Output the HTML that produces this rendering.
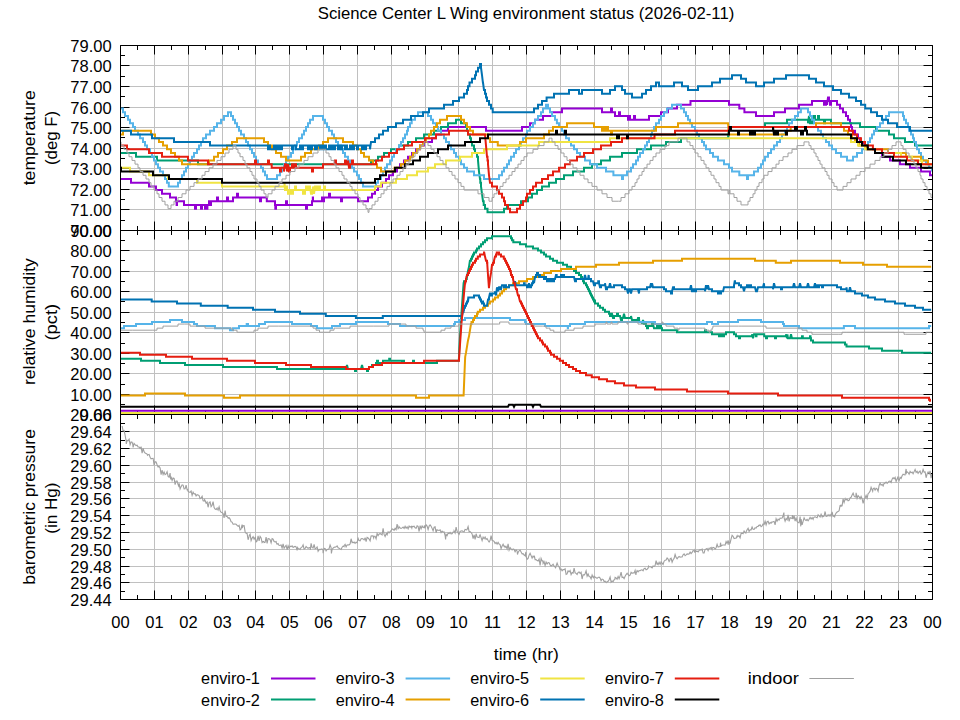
<!DOCTYPE html>
<html><head><meta charset="utf-8"><title>Science Center L Wing environment status</title>
<style>html,body{margin:0;padding:0;background:#fff;}svg{display:block;}</style></head>
<body><svg width="960" height="720" viewBox="0 0 960 720">
<rect width="960" height="720" fill="#fff"/>
<defs><clipPath id="cT"><rect x="121" y="46" width="811" height="184"/></clipPath><clipPath id="cH"><rect x="121" y="231" width="811" height="183"/></clipPath><clipPath id="cP"><rect x="121" y="415" width="811" height="184"/></clipPath></defs>
<path d="M154.5 45.5 V230.5 M188.5 45.5 V230.5 M222.5 45.5 V230.5 M255.5 45.5 V230.5 M289.5 45.5 V230.5 M323.5 45.5 V230.5 M357.5 45.5 V230.5 M391.5 45.5 V230.5 M425.5 45.5 V230.5 M458.5 45.5 V230.5 M492.5 45.5 V230.5 M526.5 45.5 V230.5 M560.5 45.5 V230.5 M594.5 45.5 V230.5 M628.5 45.5 V230.5 M661.5 45.5 V230.5 M695.5 45.5 V230.5 M729.5 45.5 V230.5 M763.5 45.5 V230.5 M797.5 45.5 V230.5 M831.5 45.5 V230.5 M864.5 45.5 V230.5 M898.5 45.5 V230.5 M120.5 209.5 H932.5 M120.5 189.5 H932.5 M120.5 168.5 H932.5 M120.5 148.5 H932.5 M120.5 127.5 H932.5 M120.5 107.5 H932.5 M120.5 86.5 H932.5 M120.5 65.5 H932.5 M154.5 230.5 V414.5 M188.5 230.5 V414.5 M222.5 230.5 V414.5 M255.5 230.5 V414.5 M289.5 230.5 V414.5 M323.5 230.5 V414.5 M357.5 230.5 V414.5 M391.5 230.5 V414.5 M425.5 230.5 V414.5 M458.5 230.5 V414.5 M492.5 230.5 V414.5 M526.5 230.5 V414.5 M560.5 230.5 V414.5 M594.5 230.5 V414.5 M628.5 230.5 V414.5 M661.5 230.5 V414.5 M695.5 230.5 V414.5 M729.5 230.5 V414.5 M763.5 230.5 V414.5 M797.5 230.5 V414.5 M831.5 230.5 V414.5 M864.5 230.5 V414.5 M898.5 230.5 V414.5 M120.5 394.5 H932.5 M120.5 373.5 H932.5 M120.5 353.5 H932.5 M120.5 332.5 H932.5 M120.5 312.5 H932.5 M120.5 291.5 H932.5 M120.5 271.5 H932.5 M120.5 250.5 H932.5 M154.5 414.5 V599.5 M188.5 414.5 V599.5 M222.5 414.5 V599.5 M255.5 414.5 V599.5 M289.5 414.5 V599.5 M323.5 414.5 V599.5 M357.5 414.5 V599.5 M391.5 414.5 V599.5 M425.5 414.5 V599.5 M458.5 414.5 V599.5 M492.5 414.5 V599.5 M526.5 414.5 V599.5 M560.5 414.5 V599.5 M594.5 414.5 V599.5 M628.5 414.5 V599.5 M661.5 414.5 V599.5 M695.5 414.5 V599.5 M729.5 414.5 V599.5 M763.5 414.5 V599.5 M797.5 414.5 V599.5 M831.5 414.5 V599.5 M864.5 414.5 V599.5 M898.5 414.5 V599.5 M120.5 582.5 H932.5 M120.5 566.5 H932.5 M120.5 549.5 H932.5 M120.5 532.5 H932.5 M120.5 515.5 H932.5 M120.5 498.5 H932.5 M120.5 482.5 H932.5 M120.5 465.5 H932.5 M120.5 448.5 H932.5 M120.5 431.5 H932.5" stroke="#c0c0c0" stroke-width="1" fill="none"/>
<path d="M120.5 45.5 H932.5 V230.5 H120.5 Z M120.5 45.5 v9.0 M120.5 230.5 v-9.0 M137.5 45.5 v4.5 M137.5 230.5 v-4.5 M154.5 45.5 v9.0 M154.5 230.5 v-9.0 M171.5 45.5 v4.5 M171.5 230.5 v-4.5 M188.5 45.5 v9.0 M188.5 230.5 v-9.0 M205.5 45.5 v4.5 M205.5 230.5 v-4.5 M222.5 45.5 v9.0 M222.5 230.5 v-9.0 M238.5 45.5 v4.5 M238.5 230.5 v-4.5 M255.5 45.5 v9.0 M255.5 230.5 v-9.0 M272.5 45.5 v4.5 M272.5 230.5 v-4.5 M289.5 45.5 v9.0 M289.5 230.5 v-9.0 M306.5 45.5 v4.5 M306.5 230.5 v-4.5 M323.5 45.5 v9.0 M323.5 230.5 v-9.0 M340.5 45.5 v4.5 M340.5 230.5 v-4.5 M357.5 45.5 v9.0 M357.5 230.5 v-9.0 M374.5 45.5 v4.5 M374.5 230.5 v-4.5 M391.5 45.5 v9.0 M391.5 230.5 v-9.0 M408.5 45.5 v4.5 M408.5 230.5 v-4.5 M425.5 45.5 v9.0 M425.5 230.5 v-9.0 M441.5 45.5 v4.5 M441.5 230.5 v-4.5 M458.5 45.5 v9.0 M458.5 230.5 v-9.0 M475.5 45.5 v4.5 M475.5 230.5 v-4.5 M492.5 45.5 v9.0 M492.5 230.5 v-9.0 M509.5 45.5 v4.5 M509.5 230.5 v-4.5 M526.5 45.5 v9.0 M526.5 230.5 v-9.0 M543.5 45.5 v4.5 M543.5 230.5 v-4.5 M560.5 45.5 v9.0 M560.5 230.5 v-9.0 M577.5 45.5 v4.5 M577.5 230.5 v-4.5 M594.5 45.5 v9.0 M594.5 230.5 v-9.0 M611.5 45.5 v4.5 M611.5 230.5 v-4.5 M628.5 45.5 v9.0 M628.5 230.5 v-9.0 M644.5 45.5 v4.5 M644.5 230.5 v-4.5 M661.5 45.5 v9.0 M661.5 230.5 v-9.0 M678.5 45.5 v4.5 M678.5 230.5 v-4.5 M695.5 45.5 v9.0 M695.5 230.5 v-9.0 M712.5 45.5 v4.5 M712.5 230.5 v-4.5 M729.5 45.5 v9.0 M729.5 230.5 v-9.0 M746.5 45.5 v4.5 M746.5 230.5 v-4.5 M763.5 45.5 v9.0 M763.5 230.5 v-9.0 M780.5 45.5 v4.5 M780.5 230.5 v-4.5 M797.5 45.5 v9.0 M797.5 230.5 v-9.0 M814.5 45.5 v4.5 M814.5 230.5 v-4.5 M831.5 45.5 v9.0 M831.5 230.5 v-9.0 M847.5 45.5 v4.5 M847.5 230.5 v-4.5 M864.5 45.5 v9.0 M864.5 230.5 v-9.0 M881.5 45.5 v4.5 M881.5 230.5 v-4.5 M898.5 45.5 v9.0 M898.5 230.5 v-9.0 M915.5 45.5 v4.5 M915.5 230.5 v-4.5 M932.5 45.5 v9.0 M932.5 230.5 v-9.0 M120.5 230.5 H932.5 V414.5 H120.5 Z M120.5 230.5 v9.0 M120.5 414.5 v-9.0 M137.5 230.5 v4.5 M137.5 414.5 v-4.5 M154.5 230.5 v9.0 M154.5 414.5 v-9.0 M171.5 230.5 v4.5 M171.5 414.5 v-4.5 M188.5 230.5 v9.0 M188.5 414.5 v-9.0 M205.5 230.5 v4.5 M205.5 414.5 v-4.5 M222.5 230.5 v9.0 M222.5 414.5 v-9.0 M238.5 230.5 v4.5 M238.5 414.5 v-4.5 M255.5 230.5 v9.0 M255.5 414.5 v-9.0 M272.5 230.5 v4.5 M272.5 414.5 v-4.5 M289.5 230.5 v9.0 M289.5 414.5 v-9.0 M306.5 230.5 v4.5 M306.5 414.5 v-4.5 M323.5 230.5 v9.0 M323.5 414.5 v-9.0 M340.5 230.5 v4.5 M340.5 414.5 v-4.5 M357.5 230.5 v9.0 M357.5 414.5 v-9.0 M374.5 230.5 v4.5 M374.5 414.5 v-4.5 M391.5 230.5 v9.0 M391.5 414.5 v-9.0 M408.5 230.5 v4.5 M408.5 414.5 v-4.5 M425.5 230.5 v9.0 M425.5 414.5 v-9.0 M441.5 230.5 v4.5 M441.5 414.5 v-4.5 M458.5 230.5 v9.0 M458.5 414.5 v-9.0 M475.5 230.5 v4.5 M475.5 414.5 v-4.5 M492.5 230.5 v9.0 M492.5 414.5 v-9.0 M509.5 230.5 v4.5 M509.5 414.5 v-4.5 M526.5 230.5 v9.0 M526.5 414.5 v-9.0 M543.5 230.5 v4.5 M543.5 414.5 v-4.5 M560.5 230.5 v9.0 M560.5 414.5 v-9.0 M577.5 230.5 v4.5 M577.5 414.5 v-4.5 M594.5 230.5 v9.0 M594.5 414.5 v-9.0 M611.5 230.5 v4.5 M611.5 414.5 v-4.5 M628.5 230.5 v9.0 M628.5 414.5 v-9.0 M644.5 230.5 v4.5 M644.5 414.5 v-4.5 M661.5 230.5 v9.0 M661.5 414.5 v-9.0 M678.5 230.5 v4.5 M678.5 414.5 v-4.5 M695.5 230.5 v9.0 M695.5 414.5 v-9.0 M712.5 230.5 v4.5 M712.5 414.5 v-4.5 M729.5 230.5 v9.0 M729.5 414.5 v-9.0 M746.5 230.5 v4.5 M746.5 414.5 v-4.5 M763.5 230.5 v9.0 M763.5 414.5 v-9.0 M780.5 230.5 v4.5 M780.5 414.5 v-4.5 M797.5 230.5 v9.0 M797.5 414.5 v-9.0 M814.5 230.5 v4.5 M814.5 414.5 v-4.5 M831.5 230.5 v9.0 M831.5 414.5 v-9.0 M847.5 230.5 v4.5 M847.5 414.5 v-4.5 M864.5 230.5 v9.0 M864.5 414.5 v-9.0 M881.5 230.5 v4.5 M881.5 414.5 v-4.5 M898.5 230.5 v9.0 M898.5 414.5 v-9.0 M915.5 230.5 v4.5 M915.5 414.5 v-4.5 M932.5 230.5 v9.0 M932.5 414.5 v-9.0 M120.5 414.5 H932.5 V599.5 H120.5 Z M120.5 414.5 v9.0 M120.5 599.5 v-9.0 M137.5 414.5 v4.5 M137.5 599.5 v-4.5 M154.5 414.5 v9.0 M154.5 599.5 v-9.0 M171.5 414.5 v4.5 M171.5 599.5 v-4.5 M188.5 414.5 v9.0 M188.5 599.5 v-9.0 M205.5 414.5 v4.5 M205.5 599.5 v-4.5 M222.5 414.5 v9.0 M222.5 599.5 v-9.0 M238.5 414.5 v4.5 M238.5 599.5 v-4.5 M255.5 414.5 v9.0 M255.5 599.5 v-9.0 M272.5 414.5 v4.5 M272.5 599.5 v-4.5 M289.5 414.5 v9.0 M289.5 599.5 v-9.0 M306.5 414.5 v4.5 M306.5 599.5 v-4.5 M323.5 414.5 v9.0 M323.5 599.5 v-9.0 M340.5 414.5 v4.5 M340.5 599.5 v-4.5 M357.5 414.5 v9.0 M357.5 599.5 v-9.0 M374.5 414.5 v4.5 M374.5 599.5 v-4.5 M391.5 414.5 v9.0 M391.5 599.5 v-9.0 M408.5 414.5 v4.5 M408.5 599.5 v-4.5 M425.5 414.5 v9.0 M425.5 599.5 v-9.0 M441.5 414.5 v4.5 M441.5 599.5 v-4.5 M458.5 414.5 v9.0 M458.5 599.5 v-9.0 M475.5 414.5 v4.5 M475.5 599.5 v-4.5 M492.5 414.5 v9.0 M492.5 599.5 v-9.0 M509.5 414.5 v4.5 M509.5 599.5 v-4.5 M526.5 414.5 v9.0 M526.5 599.5 v-9.0 M543.5 414.5 v4.5 M543.5 599.5 v-4.5 M560.5 414.5 v9.0 M560.5 599.5 v-9.0 M577.5 414.5 v4.5 M577.5 599.5 v-4.5 M594.5 414.5 v9.0 M594.5 599.5 v-9.0 M611.5 414.5 v4.5 M611.5 599.5 v-4.5 M628.5 414.5 v9.0 M628.5 599.5 v-9.0 M644.5 414.5 v4.5 M644.5 599.5 v-4.5 M661.5 414.5 v9.0 M661.5 599.5 v-9.0 M678.5 414.5 v4.5 M678.5 599.5 v-4.5 M695.5 414.5 v9.0 M695.5 599.5 v-9.0 M712.5 414.5 v4.5 M712.5 599.5 v-4.5 M729.5 414.5 v9.0 M729.5 599.5 v-9.0 M746.5 414.5 v4.5 M746.5 599.5 v-4.5 M763.5 414.5 v9.0 M763.5 599.5 v-9.0 M780.5 414.5 v4.5 M780.5 599.5 v-4.5 M797.5 414.5 v9.0 M797.5 599.5 v-9.0 M814.5 414.5 v4.5 M814.5 599.5 v-4.5 M831.5 414.5 v9.0 M831.5 599.5 v-9.0 M847.5 414.5 v4.5 M847.5 599.5 v-4.5 M864.5 414.5 v9.0 M864.5 599.5 v-9.0 M881.5 414.5 v4.5 M881.5 599.5 v-4.5 M898.5 414.5 v9.0 M898.5 599.5 v-9.0 M915.5 414.5 v4.5 M915.5 599.5 v-4.5 M932.5 414.5 v9.0 M932.5 599.5 v-9.0 M120.5 230.5 h9.0 M932.5 230.5 h-9.0 M120.5 220.5 h4.5 M932.5 220.5 h-4.5 M120.5 209.5 h9.0 M932.5 209.5 h-9.0 M120.5 199.5 h4.5 M932.5 199.5 h-4.5 M120.5 189.5 h9.0 M932.5 189.5 h-9.0 M120.5 179.5 h4.5 M932.5 179.5 h-4.5 M120.5 168.5 h9.0 M932.5 168.5 h-9.0 M120.5 158.5 h4.5 M932.5 158.5 h-4.5 M120.5 148.5 h9.0 M932.5 148.5 h-9.0 M120.5 137.5 h4.5 M932.5 137.5 h-4.5 M120.5 127.5 h9.0 M932.5 127.5 h-9.0 M120.5 117.5 h4.5 M932.5 117.5 h-4.5 M120.5 107.5 h9.0 M932.5 107.5 h-9.0 M120.5 96.5 h4.5 M932.5 96.5 h-4.5 M120.5 86.5 h9.0 M932.5 86.5 h-9.0 M120.5 76.5 h4.5 M932.5 76.5 h-4.5 M120.5 65.5 h9.0 M932.5 65.5 h-9.0 M120.5 55.5 h4.5 M932.5 55.5 h-4.5 M120.5 45.5 h9.0 M932.5 45.5 h-9.0 M120.5 414.5 h9.0 M932.5 414.5 h-9.0 M120.5 404.5 h4.5 M932.5 404.5 h-4.5 M120.5 394.5 h9.0 M932.5 394.5 h-9.0 M120.5 384.5 h4.5 M932.5 384.5 h-4.5 M120.5 373.5 h9.0 M932.5 373.5 h-9.0 M120.5 363.5 h4.5 M932.5 363.5 h-4.5 M120.5 353.5 h9.0 M932.5 353.5 h-9.0 M120.5 343.5 h4.5 M932.5 343.5 h-4.5 M120.5 332.5 h9.0 M932.5 332.5 h-9.0 M120.5 322.5 h4.5 M932.5 322.5 h-4.5 M120.5 312.5 h9.0 M932.5 312.5 h-9.0 M120.5 301.5 h4.5 M932.5 301.5 h-4.5 M120.5 291.5 h9.0 M932.5 291.5 h-9.0 M120.5 281.5 h4.5 M932.5 281.5 h-4.5 M120.5 271.5 h9.0 M932.5 271.5 h-9.0 M120.5 260.5 h4.5 M932.5 260.5 h-4.5 M120.5 250.5 h9.0 M932.5 250.5 h-9.0 M120.5 240.5 h4.5 M932.5 240.5 h-4.5 M120.5 230.5 h9.0 M932.5 230.5 h-9.0 M120.5 599.5 h9.0 M932.5 599.5 h-9.0 M120.5 591.5 h4.5 M932.5 591.5 h-4.5 M120.5 582.5 h9.0 M932.5 582.5 h-9.0 M120.5 574.5 h4.5 M932.5 574.5 h-4.5 M120.5 566.5 h9.0 M932.5 566.5 h-9.0 M120.5 557.5 h4.5 M932.5 557.5 h-4.5 M120.5 549.5 h9.0 M932.5 549.5 h-9.0 M120.5 540.5 h4.5 M932.5 540.5 h-4.5 M120.5 532.5 h9.0 M932.5 532.5 h-9.0 M120.5 524.5 h4.5 M932.5 524.5 h-4.5 M120.5 515.5 h9.0 M932.5 515.5 h-9.0 M120.5 507.5 h4.5 M932.5 507.5 h-4.5 M120.5 498.5 h9.0 M932.5 498.5 h-9.0 M120.5 490.5 h4.5 M932.5 490.5 h-4.5 M120.5 482.5 h9.0 M932.5 482.5 h-9.0 M120.5 473.5 h4.5 M932.5 473.5 h-4.5 M120.5 465.5 h9.0 M932.5 465.5 h-9.0 M120.5 456.5 h4.5 M932.5 456.5 h-4.5 M120.5 448.5 h9.0 M932.5 448.5 h-9.0 M120.5 440.5 h4.5 M932.5 440.5 h-4.5 M120.5 431.5 h9.0 M932.5 431.5 h-9.0 M120.5 423.5 h4.5 M932.5 423.5 h-4.5 M120.5 414.5 h9.0 M932.5 414.5 h-9.0" stroke="#000" stroke-width="1" fill="none"/>
<g clip-path="url(#cT)">
<path d="M120.0 178.97L121.0 178.97L122.0 178.97L123.0 178.97L124.0 178.97L125.0 178.97L126.0 178.97L127.0 178.97L128.0 178.97L129.0 178.97L130.0 178.97L131.0 178.97L131.0 182.68L132.0 182.68L132.8 182.68L133.0 182.68L134.0 182.68L135.0 182.68L136.0 182.68L137.0 182.68L138.0 182.68L139.0 182.68L140.0 182.68L141.0 182.68L142.0 182.68L143.0 182.68L144.0 182.68L145.0 182.68L146.0 182.68L147.0 182.68L148.0 182.68L149.0 182.68L149.0 186.38L150.0 186.38L150.8 186.38L151.0 186.38L152.0 186.38L153.0 186.38L154.0 186.38L155.0 186.38L156.0 186.38L156.0 190.09L157.0 190.09L158.0 190.09L159.0 190.09L160.0 190.09L161.0 190.09L161.1 190.09L162.0 190.09L162.0 193.80L163.0 193.80L164.0 193.80L165.0 193.80L166.0 193.80L167.0 193.80L168.0 193.80L169.0 193.80L170.0 193.80L170.0 197.51L171.0 197.51L171.4 197.51L172.0 197.51L173.0 197.51L174.0 197.51L175.0 197.51L176.0 197.51L176.0 201.22L176.6 201.22L176.6 204.92L177.0 204.92L177.0 201.22L178.0 201.22L179.0 201.22L180.0 201.22L181.0 201.22L182.0 201.22L183.0 201.22L184.0 201.22L184.0 204.92L185.0 204.92L186.0 204.92L186.8 204.92L187.0 204.92L188.0 204.92L189.0 204.92L190.0 204.92L191.0 204.92L192.0 204.92L193.0 204.92L194.0 204.92L195.0 204.92L195.0 208.63L196.0 208.63L196.0 204.92L197.0 204.92L198.0 204.92L199.0 204.92L200.0 204.92L201.0 204.92L201.0 208.63L202.0 208.63L202.0 204.92L203.0 204.92L204.0 204.92L205.0 204.92L205.0 208.63L206.0 208.63L206.0 204.92L207.0 204.92L207.0 208.63L207.4 208.63L207.4 204.92L208.0 204.92L209.0 204.92L209.0 201.22L210.0 201.22L210.0 201.22L210.0 204.92L211.0 204.92L211.0 201.22L212.0 201.22L213.0 201.22L214.0 201.22L215.0 201.22L216.0 201.22L217.0 201.22L217.0 197.51L218.0 197.51L218.0 201.22L219.0 201.22L220.0 201.22L221.0 201.22L222.0 201.22L223.0 201.22L224.0 201.22L225.0 201.22L226.0 201.22L227.0 201.22L227.0 197.51L228.0 197.51L228.0 201.22L229.0 201.22L230.0 201.22L231.0 201.22L232.0 201.22L233.0 201.22L233.0 197.51L233.1 197.51L234.0 197.51L235.0 197.51L236.0 197.51L237.0 197.51L237.0 193.80L238.0 193.80L238.0 197.51L238.2 197.51L239.0 197.51L240.0 197.51L241.0 197.51L242.0 197.51L243.0 197.51L244.0 197.51L245.0 197.51L246.0 197.51L247.0 197.51L248.0 197.51L249.0 197.51L250.0 197.51L251.0 197.51L252.0 197.51L253.0 197.51L254.0 197.51L255.0 197.51L256.0 197.51L257.0 197.51L258.0 197.51L259.0 197.51L260.0 197.51L260.0 201.22L261.0 201.22L261.0 197.51L262.0 197.51L263.0 197.51L264.0 197.51L265.0 197.51L266.0 197.51L266.3 197.51L266.8 197.51L266.8 201.22L267.0 201.22L268.0 201.22L269.0 201.22L270.0 201.22L271.0 201.22L272.0 201.22L272.4 201.22L273.0 201.22L274.0 201.22L275.0 201.22L275.0 204.92L275.3 204.92L275.3 208.63L276.0 208.63L276.0 204.92L277.0 204.92L278.0 204.92L279.0 204.92L280.0 204.92L281.0 204.92L282.0 204.92L283.0 204.92L284.0 204.92L285.0 204.92L286.0 204.92L286.0 201.22L287.0 201.22L287.0 204.92L288.0 204.92L289.0 204.92L290.0 204.92L291.0 204.92L292.0 204.92L293.0 204.92L294.0 204.92L295.0 204.92L296.0 204.92L297.0 204.92L298.0 204.92L299.0 204.92L300.0 204.92L301.0 204.92L302.0 204.92L303.0 204.92L304.0 204.92L305.0 204.92L306.0 204.92L306.0 208.63L307.0 208.63L307.0 204.92L308.0 204.92L309.0 204.92L310.0 204.92L310.2 204.92L311.0 204.92L312.0 204.92L312.0 201.22L312.8 201.22L312.8 197.51L313.0 197.51L313.0 201.22L314.0 201.22L315.0 201.22L316.0 201.22L317.0 201.22L318.0 201.22L319.0 201.22L320.0 201.22L321.0 201.22L322.0 201.22L322.0 197.51L323.0 197.51L323.0 201.22L324.0 201.22L324.0 197.51L325.0 197.51L326.0 197.51L327.0 197.51L328.0 197.51L329.0 197.51L329.0 193.80L330.0 193.80L330.0 197.51L331.0 197.51L332.0 197.51L333.0 197.51L334.0 197.51L335.0 197.51L336.0 197.51L337.0 197.51L338.0 197.51L339.0 197.51L340.0 197.51L341.0 197.51L341.0 201.22L342.0 201.22L342.0 197.51L343.0 197.51L344.0 197.51L345.0 197.51L346.0 197.51L347.0 197.51L348.0 197.51L349.0 197.51L350.0 197.51L351.0 197.51L352.0 197.51L353.0 197.51L354.0 197.51L355.0 197.51L356.0 197.51L356.4 197.51L357.0 197.51L358.0 197.51L358.0 201.22L359.0 201.22L359.0 201.22L360.0 201.22L361.0 201.22L362.0 201.22L363.0 201.22L364.0 201.22L365.0 201.22L366.0 201.22L366.7 201.22L367.0 201.22L368.0 201.22L368.0 197.51L369.0 197.51L370.0 197.51L371.0 197.51L372.0 197.51L372.0 193.80L373.0 193.80L374.0 193.80L375.0 193.80L375.0 190.09L376.0 190.09L377.0 190.09L377.0 190.09L378.0 190.09L378.0 186.38L379.0 186.38L380.0 186.38L381.0 186.38L382.0 186.38L382.0 182.68L383.0 182.68L384.0 182.68L385.0 182.68L386.0 182.68L386.0 178.97L387.0 178.97L388.0 178.97L389.0 178.97L389.0 175.26L390.0 175.26L391.0 175.26L392.0 175.26L393.0 175.26L393.0 171.55L394.0 171.55L394.5 171.55L395.0 171.55L396.0 171.55L397.0 171.55L397.0 167.84L398.0 167.84L399.0 167.84L400.0 167.84L400.0 164.14L401.0 164.14L402.0 164.14L403.0 164.14L404.0 164.14L404.0 160.43L405.0 160.43L406.0 160.43L407.0 160.43L408.0 160.43L408.0 156.72L408.4 156.72L409.0 156.72L410.0 156.72L411.0 156.72L412.0 156.72L412.0 153.01L413.0 153.01L414.0 153.01L415.0 153.01L416.0 153.01L416.0 149.30L417.0 149.30L418.0 149.30L419.0 149.30L420.0 149.30L420.0 145.60L421.0 145.60L422.0 145.60L423.0 145.60L424.0 145.60L424.0 141.89L425.0 141.89L425.1 141.89L426.0 141.89L427.0 141.89L428.0 141.89L429.0 141.89L430.0 141.89L431.0 141.89L431.0 141.89L432.0 141.89L432.0 138.18L433.0 138.18L434.0 138.18L435.0 138.18L436.0 138.18L436.0 134.47L437.0 134.47L438.0 134.47L438.7 134.47L439.0 134.47L440.0 134.47L441.0 134.47L441.0 130.76L442.0 130.76L443.0 130.76L443.8 130.76L444.0 130.76L445.0 130.76L446.0 130.76L447.0 130.76L448.0 130.76L448.0 127.06L449.0 127.06L450.0 127.06L451.0 127.06L451.5 127.06L452.0 127.06L453.0 127.06L454.0 127.06L455.0 127.06L456.0 127.06L457.0 127.06L458.0 127.06L459.0 127.06L460.0 127.06L461.0 127.06L462.0 127.06L463.0 127.06L464.0 127.06L465.0 127.06L466.0 127.06L467.0 127.06L468.0 127.06L469.0 127.06L470.0 127.06L471.0 127.06L472.0 127.06L473.0 127.06L474.0 127.06L475.0 127.06L476.0 127.06L477.0 127.06L478.0 127.06L479.0 127.06L480.0 127.06L481.0 127.06L482.0 127.06L482.4 127.06L483.0 127.06L484.0 127.06L485.0 127.06L486.0 127.06L486.0 130.76L487.0 130.76L487.5 130.76L488.0 130.76L489.0 130.76L490.0 130.76L491.0 130.76L492.0 130.76L493.0 130.76L494.0 130.76L495.0 130.76L496.0 130.76L497.0 130.76L498.0 130.76L499.0 130.76L500.0 130.76L501.0 130.76L502.0 130.76L503.0 130.76L504.0 130.76L505.0 130.76L506.0 130.76L507.0 130.76L508.0 130.76L509.0 130.76L510.0 130.76L511.0 130.76L512.0 130.76L513.0 130.76L514.0 130.76L515.0 130.76L516.0 130.76L517.0 130.76L518.0 130.76L518.4 130.76L519.0 130.76L520.0 130.76L521.0 130.76L522.0 130.76L522.0 127.06L523.0 127.06L524.0 127.06L525.0 127.06L526.0 127.06L527.0 127.06L528.0 127.06L529.0 127.06L530.0 127.06L530.0 123.35L531.0 123.35L532.0 123.35L533.0 123.35L533.7 123.35L534.0 123.35L535.0 123.35L535.0 119.64L536.0 119.64L537.0 119.64L538.0 119.64L539.0 119.64L540.0 119.64L541.0 119.64L542.0 119.64L543.0 119.64L543.0 115.93L544.0 115.93L544.0 115.93L545.0 115.93L546.0 115.93L547.0 115.93L548.0 115.93L549.0 115.93L550.0 115.93L551.0 115.93L552.0 115.93L552.0 112.22L553.0 112.22L554.0 112.22L554.3 112.22L555.0 112.22L556.0 112.22L557.0 112.22L558.0 112.22L559.0 112.22L560.0 112.22L561.0 112.22L562.0 112.22L562.0 108.52L563.0 108.52L564.0 108.52L564.6 108.52L565.0 108.52L566.0 108.52L567.0 108.52L568.0 108.52L569.0 108.52L570.0 108.52L571.0 108.52L572.0 108.52L572.3 108.52L573.0 108.52L574.0 108.52L575.0 108.52L576.0 108.52L577.0 108.52L578.0 108.52L579.0 108.52L580.0 108.52L581.0 108.52L582.0 108.52L583.0 108.52L584.0 108.52L585.0 108.52L586.0 108.52L587.0 108.52L588.0 108.52L589.0 108.52L590.0 108.52L591.0 108.52L592.0 108.52L593.0 108.52L594.0 108.52L595.0 108.52L596.0 108.52L597.0 108.52L598.0 108.52L598.0 108.52L599.0 108.52L600.0 108.52L601.0 108.52L602.0 108.52L602.0 112.22L603.0 112.22L603.1 112.22L604.0 112.22L605.0 112.22L606.0 112.22L607.0 112.22L608.0 112.22L609.0 112.22L610.0 112.22L611.0 112.22L611.0 108.52L612.0 108.52L612.0 112.22L613.0 112.22L614.0 112.22L615.0 112.22L615.0 115.93L616.0 115.93L616.0 115.93L617.0 115.93L618.0 115.93L619.0 115.93L619.0 112.22L620.0 112.22L620.0 115.93L621.0 115.93L622.0 115.93L623.0 115.93L624.0 115.93L625.0 115.93L626.0 115.93L627.0 115.93L628.0 115.93L628.0 119.64L628.8 119.64L628.8 115.93L629.0 115.93L630.0 115.93L630.0 119.64L631.0 119.64L632.0 119.64L633.0 119.64L634.0 119.64L634.0 119.64L634.0 115.93L635.0 115.93L635.0 119.64L636.0 119.64L637.0 119.64L638.0 119.64L639.0 119.64L640.0 119.64L641.0 119.64L642.0 119.64L643.0 119.64L644.0 119.64L645.0 119.64L646.0 119.64L646.8 119.64L647.0 119.64L648.0 119.64L649.0 119.64L649.0 115.93L649.4 115.93L650.0 115.93L651.0 115.93L652.0 115.93L653.0 115.93L654.0 115.93L655.0 115.93L656.0 115.93L657.0 115.93L658.0 115.93L659.0 115.93L659.7 115.93L660.0 115.93L661.0 115.93L661.0 112.22L662.0 112.22L663.0 112.22L664.0 112.22L665.0 112.22L666.0 112.22L667.0 112.22L668.0 112.22L668.0 108.52L669.0 108.52L670.0 108.52L670.0 108.52L671.0 108.52L672.0 108.52L673.0 108.52L674.0 108.52L675.0 108.52L676.0 108.52L677.0 108.52L677.0 104.81L678.0 104.81L679.0 104.81L680.0 104.81L680.2 104.81L681.0 104.81L682.0 104.81L683.0 104.81L684.0 104.81L685.0 104.81L686.0 104.81L687.0 104.81L688.0 104.81L689.0 104.81L690.0 104.81L690.5 104.81L690.5 101.10L691.0 101.10L692.0 101.10L693.0 101.10L694.0 101.10L695.0 101.10L696.0 101.10L697.0 101.10L698.0 101.10L699.0 101.10L700.0 101.10L700.8 101.10L701.0 101.10L702.0 101.10L703.0 101.10L704.0 101.10L705.0 101.10L706.0 101.10L707.0 101.10L708.0 101.10L709.0 101.10L710.0 101.10L711.0 101.10L711.1 101.10L712.0 101.10L713.0 101.10L714.0 101.10L715.0 101.10L716.0 101.10L717.0 101.10L718.0 101.10L719.0 101.10L720.0 101.10L721.0 101.10L722.0 101.10L723.0 101.10L724.0 101.10L725.0 101.10L726.0 101.10L726.5 101.10L727.0 101.10L728.0 101.10L729.0 101.10L729.0 104.81L730.0 104.81L731.0 104.81L732.0 104.81L733.0 104.81L734.0 104.81L735.0 104.81L736.0 104.81L737.0 104.81L738.0 104.81L739.0 104.81L739.3 104.81L739.3 108.52L740.0 108.52L741.0 108.52L742.0 108.52L743.0 108.52L744.0 108.52L744.4 108.52L744.4 112.22L745.0 112.22L746.0 112.22L747.0 112.22L748.0 112.22L749.0 112.22L750.0 112.22L751.0 112.22L752.0 112.22L752.1 112.22L753.0 112.22L754.0 112.22L755.0 112.22L756.0 112.22L756.0 115.93L757.0 115.93L758.0 115.93L759.0 115.93L759.8 115.93L760.0 115.93L761.0 115.93L762.0 115.93L763.0 115.93L764.0 115.93L765.0 115.93L766.0 115.93L767.0 115.93L768.0 115.93L769.0 115.93L770.0 115.93L770.1 115.93L771.0 115.93L772.0 115.93L773.0 115.93L774.0 115.93L774.0 112.22L775.0 112.22L775.2 112.22L776.0 112.22L777.0 112.22L778.0 112.22L779.0 112.22L780.0 112.22L781.0 112.22L782.0 112.22L783.0 112.22L784.0 112.22L785.0 112.22L785.0 108.52L786.0 108.52L787.0 108.52L788.0 108.52L788.1 108.52L789.0 108.52L790.0 108.52L791.0 108.52L792.0 108.52L793.0 108.52L794.0 108.52L795.0 108.52L796.0 108.52L797.0 108.52L798.0 108.52L798.4 108.52L799.0 108.52L799.0 104.81L800.0 104.81L801.0 104.81L802.0 104.81L803.0 104.81L804.0 104.81L805.0 104.81L806.0 104.81L806.1 104.81L807.0 104.81L808.0 104.81L809.0 104.81L810.0 104.81L811.0 104.81L812.0 104.81L812.0 101.10L813.0 101.10L813.8 101.10L814.0 101.10L815.0 101.10L816.0 101.10L817.0 101.10L818.0 101.10L819.0 101.10L820.0 101.10L821.0 101.10L822.0 101.10L823.0 101.10L824.0 101.10L824.0 104.81L824.1 104.81L824.1 101.10L825.0 101.10L825.0 104.81L826.0 104.81L826.0 101.10L827.0 101.10L827.0 104.81L828.0 97.39L829.0 97.39L829.0 101.10L830.0 101.10L830.0 104.81L831.0 104.81L831.0 101.10L832.0 101.10L833.0 101.10L834.0 101.10L834.3 101.10L835.0 101.10L836.0 101.10L837.0 101.10L837.0 104.81L838.0 104.81L839.0 104.81L839.5 104.81L840.0 104.81L840.0 108.52L841.0 108.52L842.0 108.52L843.0 108.52L843.0 112.22L844.0 112.22L845.0 112.22L846.0 112.22L846.0 115.93L847.0 115.93L847.2 115.93L848.0 115.93L848.0 119.64L849.0 119.64L850.0 119.64L850.0 123.35L851.0 123.35L851.0 127.06L852.0 127.06L852.0 130.76L852.3 130.76L853.0 130.76L854.0 130.76L855.0 130.76L855.0 134.47L856.0 134.47L857.0 134.47L858.0 134.47L858.0 138.18L859.0 138.18L860.0 138.18L860.0 138.18L860.0 141.89L861.0 141.89L862.0 141.89L863.0 141.89L864.0 141.89L864.0 145.60L865.0 145.60L866.0 145.60L867.0 145.60L867.8 145.60L867.8 149.30L868.0 149.30L869.0 149.30L870.0 149.30L871.0 149.30L872.0 149.30L873.0 149.30L874.0 149.30L875.0 149.30L875.0 153.01L876.0 153.01L877.0 153.01L878.0 153.01L878.0 153.01L879.0 153.01L880.0 153.01L881.0 153.01L882.0 153.01L882.0 156.72L883.0 156.72L884.0 156.72L885.0 156.72L886.0 156.72L887.0 156.72L888.0 156.72L888.3 156.72L889.0 156.72L890.0 156.72L890.0 160.43L891.0 160.43L892.0 160.43L893.0 160.43L894.0 160.43L895.0 160.43L896.0 160.43L897.0 160.43L898.0 160.43L898.6 160.43L899.0 160.43L900.0 160.43L900.0 164.14L901.0 164.14L902.0 164.14L903.0 164.14L904.0 164.14L905.0 164.14L906.0 164.14L907.0 164.14L908.0 164.14L908.9 164.14L909.0 164.14L910.0 164.14L910.0 167.84L911.0 167.84L912.0 167.84L913.0 167.84L914.0 167.84L915.0 167.84L916.0 167.84L917.0 167.84L918.0 167.84L919.0 167.84L920.0 167.84L921.0 167.84L921.0 171.55L922.0 171.55L923.0 171.55L924.0 171.55L924.3 171.55L925.0 171.55L926.0 171.55L927.0 171.55L928.0 171.55L929.0 171.55L930.0 171.55L930.0 175.26L931.0 175.26L932.0 175.26" stroke="#9400d3" stroke-width="2" fill="none"/>
<path d="M120.0 153.01L121.0 153.01L122.0 153.01L123.0 153.01L124.0 153.01L125.0 153.01L126.0 153.01L127.0 153.01L128.0 153.01L129.0 153.01L130.0 153.01L131.0 153.01L132.0 153.01L133.0 153.01L134.0 153.01L135.0 153.01L136.0 153.01L136.0 156.72L137.0 156.72L138.0 156.72L139.0 156.72L140.0 156.72L141.0 156.72L142.0 156.72L143.0 156.72L143.1 156.72L144.0 156.72L145.0 156.72L146.0 156.72L147.0 156.72L148.0 156.72L149.0 156.72L150.0 156.72L151.0 156.72L152.0 156.72L153.0 156.72L154.0 156.72L155.0 156.72L156.0 156.72L157.0 156.72L157.0 160.43L158.0 160.43L159.0 160.43L160.0 160.43L161.0 160.43L161.1 160.43L162.0 160.43L163.0 160.43L164.0 160.43L165.0 160.43L166.0 160.43L167.0 160.43L168.0 160.43L169.0 160.43L170.0 160.43L171.0 160.43L172.0 160.43L173.0 160.43L174.0 160.43L175.0 160.43L176.0 160.43L177.0 160.43L178.0 160.43L179.0 160.43L180.0 160.43L181.0 160.43L182.0 160.43L183.0 160.43L184.0 160.43L185.0 160.43L186.0 160.43L186.8 160.43L187.0 160.43L188.0 160.43L189.0 160.43L190.0 160.43L191.0 160.43L192.0 160.43L193.0 160.43L194.0 160.43L195.0 160.43L196.0 160.43L197.0 160.43L198.0 160.43L198.0 164.14L199.0 164.14L200.0 164.14L201.0 164.14L202.0 164.14L203.0 164.14L204.0 164.14L205.0 164.14L206.0 164.14L207.0 164.14L208.0 164.14L209.0 164.14L210.0 164.14L211.0 164.14L212.0 164.14L213.0 164.14L214.0 164.14L215.0 164.14L216.0 164.14L217.0 164.14L218.0 164.14L219.0 164.14L220.0 164.14L221.0 164.14L222.0 164.14L223.0 164.14L224.0 164.14L225.0 164.14L226.0 164.14L227.0 164.14L228.0 164.14L229.0 164.14L230.0 164.14L231.0 164.14L232.0 164.14L233.0 164.14L234.0 164.14L235.0 164.14L236.0 164.14L237.0 164.14L238.0 164.14L239.0 164.14L240.0 164.14L241.0 164.14L242.0 164.14L243.0 164.14L244.0 164.14L245.0 164.14L246.0 164.14L246.0 164.14L247.0 164.14L248.0 164.14L249.0 164.14L250.0 164.14L251.0 164.14L252.0 164.14L253.0 164.14L254.0 164.14L255.0 164.14L256.0 164.14L257.0 164.14L258.0 164.14L259.0 164.14L260.0 164.14L261.0 164.14L262.0 164.14L263.0 164.14L264.0 164.14L265.0 164.14L266.0 164.14L267.0 164.14L268.0 164.14L269.0 164.14L270.0 164.14L271.0 164.14L272.0 164.14L273.0 164.14L274.0 164.14L275.0 164.14L276.0 164.14L277.0 164.14L278.0 164.14L279.0 164.14L280.0 164.14L281.0 164.14L282.0 164.14L283.0 164.14L284.0 164.14L285.0 164.14L286.0 164.14L287.0 164.14L288.0 164.14L289.0 164.14L290.0 164.14L291.0 164.14L292.0 164.14L293.0 164.14L294.0 164.14L295.0 164.14L296.0 164.14L297.0 164.14L298.0 164.14L299.0 164.14L300.0 164.14L301.0 164.14L302.0 164.14L303.0 164.14L304.0 164.14L305.0 164.14L306.0 164.14L307.0 164.14L308.0 164.14L309.0 164.14L310.0 164.14L311.0 164.14L312.0 164.14L313.0 164.14L314.0 164.14L315.0 164.14L316.0 164.14L317.0 164.14L318.0 164.14L319.0 164.14L320.0 164.14L321.0 164.14L322.0 164.14L323.0 164.14L324.0 164.14L325.0 164.14L326.0 164.14L327.0 164.14L328.0 164.14L329.0 164.14L330.0 164.14L331.0 164.14L332.0 164.14L333.0 164.14L334.0 164.14L335.0 164.14L336.0 164.14L337.0 164.14L338.0 164.14L339.0 164.14L340.0 164.14L341.0 164.14L342.0 164.14L343.0 164.14L344.0 164.14L345.0 164.14L346.0 164.14L347.0 164.14L348.0 164.14L349.0 164.14L350.0 164.14L351.0 164.14L352.0 164.14L353.0 164.14L354.0 164.14L355.0 164.14L356.0 164.14L357.0 164.14L358.0 164.14L359.0 164.14L360.0 164.14L361.0 164.14L362.0 164.14L363.0 164.14L364.0 164.14L365.0 164.14L366.0 164.14L367.0 164.14L368.0 164.14L369.0 164.14L369.3 164.14L370.0 164.14L371.0 164.14L371.0 160.43L372.0 160.43L373.0 160.43L374.0 160.43L374.4 160.43L375.0 160.43L376.0 160.43L377.0 160.43L378.0 160.43L378.0 156.72L379.0 156.72L380.0 156.72L381.0 156.72L382.0 156.72L382.1 156.72L383.0 156.72L384.0 156.72L384.0 153.01L385.0 153.01L386.0 153.01L387.0 153.01L388.0 153.01L389.0 153.01L390.0 153.01L391.0 153.01L391.0 149.30L392.0 149.30L392.4 149.30L393.0 149.30L394.0 149.30L395.0 149.30L396.0 149.30L397.0 149.30L398.0 149.30L399.0 149.30L399.0 145.60L400.0 145.60L400.1 145.60L401.0 145.60L402.0 145.60L403.0 145.60L404.0 145.60L405.0 145.60L406.0 145.60L407.0 145.60L408.0 145.60L408.0 141.89L409.0 141.89L410.0 141.89L410.4 141.89L411.0 141.89L412.0 141.89L413.0 141.89L414.0 141.89L415.0 141.89L416.0 141.89L416.0 138.18L417.0 138.18L418.0 138.18L419.0 138.18L420.0 138.18L420.7 138.18L421.0 138.18L422.0 138.18L423.0 138.18L424.0 138.18L424.0 134.47L425.0 134.47L426.0 134.47L427.0 134.47L428.0 134.47L429.0 134.47L430.0 134.47L431.0 134.47L431.0 134.47L432.0 134.47L433.0 134.47L434.0 134.47L434.0 130.76L435.0 130.76L436.0 130.76L437.0 130.76L438.0 130.76L439.0 130.76L440.0 130.76L441.0 130.76L441.0 127.06L441.2 127.06L442.0 127.06L443.0 127.06L444.0 127.06L445.0 127.06L446.0 127.06L447.0 127.06L448.0 127.06L448.0 123.35L449.0 123.35L449.0 123.35L450.0 123.35L451.0 123.35L452.0 123.35L453.0 123.35L454.0 123.35L455.0 123.35L456.0 123.35L456.0 119.64L456.7 119.64L457.0 119.64L458.0 119.64L459.0 119.64L460.0 119.64L461.0 119.64L461.0 123.35L462.0 123.35L463.0 123.35L464.0 123.35L464.4 123.35L465.0 123.35L466.0 123.35L466.0 127.06L467.0 127.06L467.0 130.76L467.5 130.76L468.0 130.76L468.0 134.47L469.0 134.47L470.0 134.47L470.0 138.18L471.0 138.18L471.0 141.89L472.0 141.89L472.0 145.60L473.0 145.60L474.0 145.60L474.0 149.30L475.0 149.30L475.0 153.01L476.0 153.01L477.0 153.01L477.0 156.72L477.5 156.72L478.0 156.72L478.0 160.43L479.0 171.55L480.0 178.97L480.3 178.97L480.3 182.68L481.0 182.68L481.0 186.38L482.0 193.80L483.0 201.22L483.7 201.22L483.7 204.92L484.0 204.92L485.0 204.92L485.0 208.63L486.0 208.63L487.0 208.63L487.5 208.63L487.5 212.34L488.0 212.34L489.0 212.34L490.0 212.34L491.0 212.34L492.0 212.34L493.0 212.34L494.0 212.34L495.0 212.34L496.0 212.34L497.0 212.34L498.0 212.34L499.0 212.34L500.0 212.34L501.0 212.34L502.0 212.34L502.4 212.34L503.0 212.34L504.0 212.34L504.0 208.63L505.0 208.63L505.5 208.63L506.0 208.63L507.0 208.63L507.0 204.92L508.0 204.92L508.1 204.92L509.0 204.92L510.0 204.92L511.0 204.92L512.0 204.92L513.0 204.92L514.0 204.92L515.0 204.92L516.0 204.92L517.0 204.92L518.0 204.92L518.4 204.92L519.0 204.92L520.0 204.92L521.0 204.92L521.0 201.22L522.0 201.22L523.0 201.22L524.0 201.22L525.0 201.22L526.0 201.22L527.0 201.22L528.0 201.22L528.0 197.51L529.0 197.51L530.0 197.51L531.0 197.51L532.0 197.51L532.0 193.80L533.0 193.80L534.0 193.80L535.0 193.80L536.0 193.80L537.0 193.80L537.0 190.09L537.6 190.09L538.0 190.09L539.0 190.09L540.0 190.09L541.0 190.09L542.0 190.09L542.0 186.38L543.0 186.38L544.0 186.38L545.0 186.38L546.0 186.38L547.0 186.38L548.0 186.38L549.0 186.38L549.0 182.68L550.0 182.68L551.0 182.68L551.7 182.68L552.0 182.68L553.0 182.68L554.0 182.68L555.0 182.68L556.0 182.68L556.0 178.97L557.0 178.97L558.0 178.97L559.0 178.97L559.9 178.97L560.0 178.97L561.0 178.97L562.0 178.97L563.0 178.97L564.0 178.97L564.0 175.26L565.0 175.26L566.0 175.26L566.6 175.26L567.0 175.26L568.0 175.26L569.0 175.26L570.0 175.26L571.0 175.26L572.0 175.26L573.0 175.26L573.0 171.55L574.0 171.55L575.0 171.55L576.0 171.55L577.0 171.55L578.0 171.55L579.0 171.55L579.2 171.55L580.0 171.55L581.0 171.55L582.0 171.55L583.0 171.55L584.0 171.55L584.0 167.84L585.0 167.84L586.0 167.84L587.0 167.84L587.4 167.84L588.0 167.84L589.0 167.84L590.0 167.84L591.0 167.84L592.0 167.84L592.0 164.14L593.0 164.14L594.0 164.14L595.0 164.14L596.0 164.14L596.7 164.14L597.0 164.14L598.0 164.14L599.0 164.14L600.0 164.14L601.0 164.14L601.0 160.43L602.0 160.43L603.0 160.43L604.0 160.43L604.1 160.43L605.0 160.43L606.0 160.43L607.0 160.43L608.0 160.43L609.0 160.43L610.0 160.43L610.0 156.72L611.0 156.72L612.0 156.72L613.0 156.72L614.0 156.72L614.2 156.72L615.0 156.72L616.0 156.72L617.0 156.72L618.0 156.72L619.0 156.72L620.0 156.72L621.0 156.72L622.0 156.72L622.0 153.01L623.0 153.01L624.0 153.01L625.0 153.01L626.0 153.01L627.0 153.01L628.0 153.01L629.0 153.01L630.0 153.01L631.0 153.01L632.0 153.01L633.0 153.01L634.0 153.01L635.0 153.01L636.0 153.01L637.0 153.01L637.0 149.30L638.0 149.30L639.0 149.30L639.1 149.30L640.0 149.30L641.0 149.30L642.0 149.30L643.0 149.30L644.0 149.30L645.0 149.30L646.0 149.30L647.0 149.30L648.0 149.30L649.0 149.30L650.0 149.30L651.0 149.30L651.0 145.60L652.0 145.60L653.0 145.60L654.0 145.60L654.5 145.60L655.0 145.60L656.0 145.60L657.0 145.60L658.0 145.60L659.0 145.60L660.0 145.60L661.0 145.60L662.0 145.60L663.0 145.60L664.0 145.60L665.0 145.60L666.0 145.60L666.0 141.89L667.0 141.89L668.0 141.89L669.0 141.89L670.0 141.89L670.0 141.89L671.0 141.89L672.0 141.89L673.0 141.89L674.0 141.89L675.0 141.89L676.0 141.89L677.0 141.89L678.0 141.89L679.0 141.89L680.0 141.89L680.2 141.89L681.0 141.89L681.0 138.18L682.0 138.18L683.0 138.18L684.0 138.18L685.0 138.18L686.0 138.18L687.0 138.18L688.0 138.18L689.0 138.18L690.0 138.18L691.0 138.18L692.0 138.18L693.0 138.18L693.1 138.18L694.0 138.18L695.0 138.18L696.0 138.18L697.0 138.18L698.0 138.18L699.0 138.18L700.0 138.18L701.0 138.18L702.0 138.18L703.0 138.18L704.0 138.18L705.0 138.18L706.0 138.18L707.0 138.18L708.0 138.18L709.0 138.18L710.0 138.18L711.0 138.18L712.0 138.18L713.0 138.18L714.0 138.18L715.0 138.18L716.0 138.18L717.0 138.18L718.0 138.18L719.0 138.18L720.0 138.18L721.0 138.18L722.0 138.18L723.0 138.18L724.0 138.18L725.0 138.18L726.0 138.18L727.0 138.18L728.0 138.18L729.0 127.06L730.0 127.06L731.0 127.06L732.0 127.06L733.0 127.06L734.0 127.06L735.0 127.06L736.0 127.06L737.0 127.06L738.0 127.06L739.0 127.06L740.0 127.06L741.0 127.06L742.0 127.06L743.0 127.06L744.0 127.06L745.0 127.06L746.0 127.06L747.0 127.06L748.0 127.06L749.0 127.06L750.0 127.06L751.0 127.06L752.0 127.06L753.0 127.06L754.0 127.06L755.0 127.06L756.0 127.06L757.0 127.06L758.0 127.06L759.0 127.06L760.0 127.06L761.0 127.06L762.0 127.06L762.4 127.06L763.0 127.06L764.0 127.06L765.0 127.06L765.0 123.35L765.0 123.35L766.0 123.35L767.0 123.35L768.0 123.35L769.0 123.35L770.0 123.35L771.0 123.35L772.0 123.35L773.0 123.35L774.0 123.35L775.0 123.35L776.0 123.35L777.0 123.35L778.0 123.35L779.0 123.35L780.0 123.35L781.0 123.35L782.0 123.35L783.0 123.35L784.0 123.35L785.0 123.35L785.5 123.35L786.0 123.35L787.0 123.35L787.0 119.64L788.0 119.64L788.1 119.64L789.0 119.64L790.0 119.64L791.0 119.64L792.0 119.64L793.0 119.64L794.0 119.64L795.0 119.64L796.0 119.64L797.0 119.64L798.0 119.64L799.0 119.64L800.0 119.64L801.0 119.64L802.0 119.64L803.0 119.64L804.0 119.64L805.0 119.64L806.0 119.64L807.0 119.64L808.0 119.64L808.0 123.35L809.0 115.93L810.0 123.35L811.0 123.35L811.0 119.64L812.0 119.64L812.0 123.35L813.0 123.35L813.0 119.64L814.0 119.64L814.0 115.93L815.0 115.93L815.0 119.64L816.0 119.64L817.0 119.64L818.0 119.64L818.0 115.93L819.0 115.93L819.0 119.64L820.0 119.64L821.0 119.64L822.0 119.64L823.0 119.64L824.0 119.64L824.0 123.35L825.0 123.35L825.0 119.64L826.0 119.64L826.6 119.64L827.0 119.64L828.0 119.64L829.0 119.64L830.0 119.64L831.0 119.64L831.0 123.35L831.8 123.35L832.0 123.35L833.0 123.35L834.0 123.35L835.0 123.35L836.0 123.35L837.0 123.35L838.0 123.35L839.0 123.35L840.0 123.35L841.0 123.35L842.0 123.35L843.0 123.35L844.0 123.35L845.0 123.35L846.0 123.35L847.0 123.35L848.0 123.35L849.0 123.35L850.0 123.35L851.0 123.35L852.0 123.35L853.0 123.35L854.0 123.35L854.9 123.35L855.0 123.35L856.0 123.35L857.0 123.35L858.0 123.35L859.0 123.35L860.0 123.35L860.0 127.06L860.0 127.06L861.0 127.06L862.0 127.06L863.0 127.06L864.0 127.06L865.0 127.06L866.0 127.06L867.0 127.06L868.0 127.06L869.0 127.06L870.0 127.06L871.0 127.06L872.0 127.06L872.9 127.06L873.0 127.06L874.0 127.06L875.0 127.06L876.0 127.06L876.0 130.76L877.0 130.76L878.0 130.76L878.0 130.76L879.0 130.76L880.0 130.76L881.0 130.76L882.0 130.76L883.0 130.76L884.0 130.76L885.0 130.76L886.0 130.76L887.0 130.76L888.0 130.76L888.3 130.76L889.0 130.76L889.0 134.47L890.0 134.47L891.0 134.47L892.0 134.47L893.0 134.47L893.4 134.47L894.0 134.47L894.0 138.18L895.0 138.18L896.0 138.18L897.0 138.18L898.0 138.18L899.0 138.18L900.0 138.18L901.0 138.18L902.0 138.18L903.0 138.18L904.0 138.18L905.0 138.18L905.0 141.89L906.0 141.89L906.3 141.89L907.0 141.89L908.0 141.89L909.0 141.89L910.0 141.89L911.0 141.89L912.0 141.89L913.0 141.89L914.0 141.89L915.0 141.89L915.0 145.60L916.0 145.60L916.6 145.60L917.0 145.60L918.0 145.60L919.0 145.60L920.0 145.60L921.0 145.60L922.0 145.60L923.0 145.60L924.0 145.60L925.0 145.60L926.0 145.60L927.0 145.60L928.0 145.60L929.0 145.60L930.0 145.60L931.0 145.60L932.0 145.60" stroke="#009e73" stroke-width="2" fill="none"/>
<path d="M120.0 108.52L121.0 108.52L122.0 108.52L123.0 108.52L123.0 112.22L124.0 112.22L125.0 112.22L125.0 115.93L126.0 115.93L127.0 115.93L128.0 115.93L128.0 119.64L129.0 119.64L130.0 119.64L130.0 123.35L131.0 123.35L132.0 123.35L133.0 123.35L133.0 127.06L134.0 127.06L135.0 127.06L135.0 130.76L136.0 130.76L137.0 130.76L138.0 130.76L138.0 134.47L139.0 134.47L140.0 134.47L140.0 138.18L141.0 138.18L142.0 138.18L143.0 138.18L143.0 141.89L144.0 141.89L145.0 141.89L145.0 145.60L145.7 145.60L146.0 145.60L147.0 145.60L147.0 149.30L148.0 149.30L149.0 149.30L150.0 149.30L150.0 153.01L151.0 153.01L152.0 153.01L152.0 156.72L153.0 156.72L154.0 156.72L154.0 160.43L155.0 160.43L156.0 160.43L156.0 164.14L157.0 164.14L158.0 164.14L158.0 167.84L159.0 167.84L160.0 167.84L160.0 171.55L161.0 171.55L162.0 171.55L163.0 171.55L163.0 175.26L164.0 175.26L165.0 175.26L165.0 178.97L166.0 178.97L167.0 178.97L167.0 182.68L168.0 182.68L168.8 182.68L168.8 186.38L169.0 186.38L170.0 186.38L171.0 186.38L172.0 186.38L173.0 186.38L174.0 186.38L175.0 186.38L176.0 186.38L176.6 186.38L177.0 186.38L178.0 186.38L178.0 182.68L179.0 182.68L180.0 182.68L180.0 178.97L181.0 178.97L182.0 178.97L182.0 175.26L183.0 175.26L184.0 175.26L184.0 171.55L185.0 171.55L186.0 171.55L186.0 167.84L187.0 167.84L188.0 167.84L188.0 164.14L189.0 164.14L190.0 164.14L190.0 160.43L191.0 160.43L192.0 160.43L192.0 156.72L193.0 156.72L194.0 156.72L194.0 153.01L195.0 153.01L196.0 153.01L197.0 153.01L197.0 149.30L198.0 149.30L199.0 149.30L199.0 145.60L200.0 145.60L201.0 145.60L201.0 141.89L202.0 141.89L202.3 141.89L203.0 141.89L203.0 138.18L204.0 138.18L205.0 138.18L206.0 138.18L206.0 134.47L207.0 134.47L208.0 134.47L209.0 134.47L210.0 134.47L210.0 130.76L211.0 130.76L212.0 130.76L213.0 130.76L214.0 130.76L214.0 127.06L215.0 127.06L216.0 127.06L217.0 127.06L217.0 123.35L218.0 123.35L219.0 123.35L220.0 123.35L221.0 123.35L221.0 119.64L222.0 119.64L223.0 119.64L224.0 119.64L224.0 115.93L225.0 115.93L226.0 115.93L227.0 115.93L228.0 115.93L228.0 112.22L229.0 112.22L229.2 112.22L230.0 112.22L231.0 112.22L231.0 115.93L232.0 115.93L233.0 115.93L233.0 119.64L234.0 119.64L235.0 119.64L235.0 123.35L236.0 123.35L237.0 123.35L237.0 127.06L238.0 127.06L239.0 127.06L239.0 130.76L240.0 130.76L241.0 130.76L241.0 134.47L242.0 134.47L243.0 134.47L244.0 134.47L244.0 138.18L245.0 138.18L246.0 138.18L246.0 141.89L247.0 141.89L248.0 141.89L248.0 145.60L249.0 145.60L250.0 145.60L250.0 149.30L251.0 149.30L252.0 149.30L252.0 153.01L253.0 153.01L254.0 153.01L254.0 156.72L255.0 156.72L256.0 156.72L256.0 160.43L257.0 160.43L258.0 160.43L258.0 164.14L259.0 164.14L260.0 164.14L261.0 164.14L261.0 167.84L262.0 167.84L263.0 167.84L263.0 171.55L264.0 171.55L265.0 171.55L265.0 175.26L266.0 175.26L267.0 175.26L267.0 178.97L267.6 178.97L268.0 178.97L269.0 178.97L270.0 178.97L271.0 178.97L272.0 178.97L273.0 178.97L274.0 178.97L275.0 178.97L275.8 178.97L276.0 178.97L277.0 178.97L277.0 175.26L278.0 175.26L279.0 175.26L280.0 175.26L280.0 171.55L281.0 171.55L282.0 171.55L282.0 167.84L283.0 167.84L284.0 167.84L284.0 164.14L285.0 164.14L286.0 164.14L286.0 160.43L287.0 160.43L288.0 160.43L288.0 156.72L289.0 156.72L290.0 156.72L291.0 156.72L291.0 153.01L292.0 153.01L293.0 153.01L293.0 149.30L294.0 149.30L295.0 149.30L295.0 145.60L296.0 145.60L297.0 145.60L297.0 141.89L298.0 141.89L299.0 141.89L299.0 138.18L300.0 138.18L301.0 138.18L302.0 138.18L302.0 134.47L303.0 134.47L304.0 134.47L304.0 130.76L305.0 130.76L306.0 130.76L306.0 127.06L307.0 127.06L308.0 127.06L308.0 123.35L309.0 123.35L310.0 123.35L310.0 119.64L311.0 119.64L312.0 119.64L313.0 119.64L313.0 115.93L313.3 115.93L314.0 115.93L315.0 115.93L316.0 115.93L317.0 115.93L318.0 115.93L319.0 115.93L320.0 115.93L321.0 115.93L321.5 115.93L322.0 115.93L323.0 115.93L323.0 119.64L324.0 119.64L325.0 119.64L325.0 123.35L326.0 123.35L327.0 123.35L327.0 127.06L328.0 127.06L329.0 127.06L329.0 130.76L330.0 130.76L331.0 130.76L332.0 130.76L332.0 134.47L333.0 134.47L334.0 134.47L334.0 138.18L335.0 138.18L336.0 138.18L336.0 141.89L337.0 141.89L338.0 141.89L338.0 145.60L339.0 145.60L340.0 145.60L341.0 145.60L341.0 149.30L342.0 149.30L343.0 149.30L343.0 153.01L344.0 153.01L345.0 153.01L345.0 156.72L346.0 156.72L347.0 156.72L348.0 156.72L348.0 160.43L349.0 160.43L350.0 160.43L350.0 164.14L351.0 164.14L352.0 164.14L352.0 167.84L353.0 167.84L354.0 167.84L354.0 171.55L355.0 171.55L356.0 171.55L357.0 171.55L357.0 175.26L358.0 175.26L359.0 175.26L359.0 178.97L360.0 178.97L361.0 178.97L361.0 182.68L362.0 182.68L363.0 182.68L363.0 186.38L364.0 186.38L364.1 186.38L365.0 186.38L366.0 186.38L366.7 186.38L367.0 186.38L368.0 186.38L369.0 186.38L370.0 186.38L371.0 186.38L372.0 186.38L373.0 186.38L374.0 186.38L375.0 186.38L375.4 186.38L376.0 186.38L376.0 182.68L377.0 182.68L378.0 182.68L378.0 178.97L379.0 178.97L380.0 178.97L381.0 178.97L381.0 175.26L382.0 175.26L383.0 175.26L383.0 171.55L384.0 171.55L385.0 171.55L385.0 167.84L386.0 167.84L387.0 167.84L387.0 164.14L388.0 164.14L389.0 164.14L390.0 164.14L390.0 160.43L391.0 160.43L392.0 160.43L392.0 156.72L393.0 156.72L394.0 156.72L394.0 153.01L395.0 153.01L396.0 153.01L396.0 149.30L397.0 149.30L398.0 149.30L399.0 149.30L399.0 145.60L400.0 145.60L401.0 145.60L401.0 141.89L401.4 141.89L402.0 141.89L403.0 141.89L403.0 138.18L404.0 138.18L405.0 138.18L405.0 134.47L406.0 134.47L407.0 134.47L407.0 130.76L408.0 130.76L408.0 127.06L409.0 127.06L410.0 127.06L410.0 123.35L411.0 123.35L411.7 123.35L411.7 119.64L412.0 119.64L413.0 119.64L414.0 119.64L415.0 119.64L415.0 115.93L416.0 115.93L417.0 115.93L418.0 115.93L418.0 112.22L418.6 112.22L419.0 112.22L420.0 112.22L421.0 112.22L422.0 112.22L423.0 112.22L424.0 112.22L425.0 112.22L425.8 112.22L426.0 112.22L427.0 112.22L428.0 112.22L428.0 115.93L429.0 115.93L430.0 115.93L431.0 115.93L431.0 119.64L432.0 119.64L433.0 119.64L433.0 123.35L434.0 123.35L435.0 123.35L436.0 123.35L436.0 127.06L437.0 127.06L438.0 127.06L438.0 130.76L439.0 130.76L440.0 130.76L441.0 130.76L441.0 134.47L442.0 134.47L443.0 134.47L444.0 134.47L444.0 138.18L445.0 138.18L446.0 138.18L446.0 141.89L447.0 141.89L448.0 141.89L449.0 141.89L449.0 145.60L450.0 145.60L451.0 145.60L451.0 149.30L452.0 149.30L453.0 149.30L454.0 149.30L454.0 153.01L455.0 153.01L456.0 153.01L456.0 156.72L457.0 156.72L458.0 156.72L459.0 156.72L459.0 160.43L460.0 160.43L461.0 160.43L461.0 164.14L462.0 164.14L463.0 164.14L464.0 164.14L464.0 167.84L465.0 167.84L466.0 167.84L467.0 167.84L467.0 171.55L467.0 171.55L468.0 171.55L469.0 171.55L470.0 171.55L471.0 171.55L472.0 171.55L473.0 171.55L474.0 171.55L474.0 175.26L475.0 175.26L476.0 175.26L477.0 175.26L478.0 175.26L479.0 175.26L479.8 175.26L480.0 175.26L481.0 175.26L482.0 175.26L483.0 175.26L484.0 175.26L484.0 178.97L485.0 178.97L486.0 178.97L487.0 178.97L488.0 178.97L489.0 178.97L490.0 178.97L490.1 178.97L491.0 178.97L492.0 178.97L493.0 178.97L494.0 178.97L495.0 178.97L496.0 178.97L497.0 178.97L497.8 178.97L498.0 178.97L499.0 178.97L499.0 175.26L500.0 175.26L501.0 175.26L502.0 175.26L502.0 171.55L503.0 171.55L504.0 171.55L504.0 167.84L505.0 167.84L506.0 167.84L507.0 167.84L507.0 164.14L508.0 164.14L509.0 164.14L509.0 160.43L510.0 160.43L511.0 160.43L511.0 156.72L512.0 156.72L513.0 156.72L514.0 156.72L514.0 153.01L515.0 153.01L516.0 153.01L516.0 149.30L517.0 149.30L518.0 149.30L519.0 149.30L519.0 145.60L520.0 145.60L521.0 145.60L521.0 141.89L522.0 141.89L523.0 141.89L523.0 138.18L524.0 138.18L525.0 138.18L526.0 138.18L526.0 134.47L527.0 134.47L527.0 130.76L528.0 130.76L529.0 130.76L530.0 130.76L530.0 127.06L531.0 127.06L532.0 127.06L533.0 127.06L533.0 123.35L534.0 123.35L535.0 123.35L535.0 119.64L536.0 119.64L537.0 119.64L538.0 119.64L538.0 115.93L539.0 115.93L540.0 115.93L541.0 115.93L541.0 112.22L542.0 112.22L543.0 112.22L543.0 108.52L544.0 108.52L545.0 108.52L546.0 108.52L546.0 104.81L546.6 104.81L547.0 104.81L548.0 104.81L548.0 108.52L549.0 108.52L550.0 108.52L550.0 112.22L551.0 112.22L552.0 112.22L552.0 115.93L553.0 115.93L554.0 115.93L555.0 115.93L555.0 119.64L556.0 119.64L556.9 119.64L556.9 123.35L557.0 123.35L558.0 123.35L559.0 123.35L559.0 127.06L560.0 127.06L561.0 127.06L562.0 127.06L562.0 130.76L563.0 130.76L564.0 130.76L564.0 134.47L565.0 134.47L566.0 134.47L566.0 138.18L567.0 138.18L568.0 138.18L569.0 138.18L569.0 141.89L569.7 141.89L570.0 141.89L571.0 141.89L571.0 145.60L572.0 145.60L573.0 145.60L574.0 145.60L574.0 149.30L575.0 149.30L576.0 149.30L577.0 149.30L577.0 153.01L578.0 153.01L579.0 153.01L580.0 153.01L580.0 156.72L580.0 156.72L581.0 156.72L582.0 156.72L583.0 156.72L584.0 156.72L585.0 156.72L585.0 160.43L586.0 160.43L587.0 160.43L588.0 160.43L589.0 160.43L590.0 160.43L590.0 164.14L591.0 164.14L592.0 164.14L592.8 164.14L593.0 164.14L594.0 164.14L595.0 164.14L596.0 164.14L597.0 164.14L597.0 167.84L598.0 167.84L599.0 167.84L600.0 167.84L601.0 167.84L602.0 167.84L603.0 167.84L603.1 167.84L604.0 167.84L605.0 167.84L606.0 167.84L606.0 171.55L607.0 171.55L608.0 171.55L609.0 171.55L610.0 171.55L611.0 171.55L612.0 171.55L613.0 171.55L613.4 171.55L613.4 175.26L614.0 175.26L615.0 175.26L616.0 175.26L617.0 175.26L618.0 175.26L619.0 175.26L620.0 175.26L621.0 175.26L622.0 175.26L622.0 178.97L622.4 178.97L623.0 178.97L623.0 175.26L624.0 175.26L625.0 175.26L626.0 175.26L627.0 175.26L627.0 171.55L628.0 171.55L629.0 171.55L630.0 171.55L631.0 171.55L631.0 167.84L631.4 167.84L632.0 167.84L633.0 167.84L633.0 164.14L634.0 164.14L635.0 164.14L636.0 164.14L636.0 160.43L637.0 160.43L638.0 160.43L638.0 156.72L639.0 156.72L640.0 156.72L640.0 153.01L641.0 153.01L642.0 153.01L643.0 153.01L643.0 149.30L644.0 149.30L644.2 149.30L645.0 149.30L645.0 145.60L646.0 145.60L647.0 145.60L647.0 141.89L648.0 141.89L649.0 141.89L649.0 138.18L650.0 138.18L651.0 138.18L651.0 134.47L652.0 134.47L652.0 130.76L653.0 130.76L654.0 130.76L654.0 127.06L654.5 127.06L655.0 127.06L656.0 127.06L656.0 123.35L657.0 123.35L658.0 123.35L659.0 123.35L659.0 119.64L660.0 119.64L661.0 119.64L661.0 115.93L662.0 115.93L663.0 115.93L664.0 115.93L664.0 112.22L664.8 112.22L665.0 112.22L666.0 112.22L667.0 112.22L667.0 108.52L668.0 108.52L669.0 108.52L670.0 108.52L671.0 108.52L672.0 108.52L672.0 104.81L672.5 104.81L673.0 104.81L674.0 104.81L675.0 104.81L676.0 104.81L677.0 104.81L678.0 104.81L679.0 104.81L680.0 104.81L680.2 104.81L681.0 104.81L681.0 108.52L682.0 108.52L683.0 108.52L684.0 108.52L684.0 112.22L685.0 112.22L686.0 112.22L686.0 115.93L687.0 115.93L688.0 115.93L688.0 119.64L689.0 119.64L690.0 119.64L690.0 123.35L691.0 123.35L692.0 123.35L692.0 127.06L693.0 127.06L693.1 127.06L694.0 127.06L695.0 127.06L695.0 130.76L696.0 130.76L697.0 130.76L697.0 134.47L698.0 134.47L699.0 134.47L699.0 138.18L700.0 138.18L701.0 138.18L702.0 138.18L702.0 141.89L703.0 141.89L704.0 141.89L704.0 145.60L705.0 145.60L706.0 145.60L706.0 149.30L706.0 149.30L707.0 149.30L708.0 149.30L709.0 149.30L710.0 149.30L710.0 153.01L711.0 153.01L712.0 153.01L713.0 153.01L713.0 156.72L714.0 156.72L715.0 156.72L716.0 156.72L716.2 156.72L717.0 156.72L718.0 156.72L718.0 160.43L719.0 160.43L720.0 160.43L721.0 160.43L722.0 160.43L723.0 160.43L724.0 160.43L724.0 164.14L725.0 164.14L726.0 164.14L727.0 164.14L728.0 164.14L729.0 164.14L729.0 167.84L730.0 167.84L731.0 167.84L732.0 167.84L732.0 171.55L733.0 171.55L734.0 171.55L735.0 171.55L736.0 171.55L737.0 171.55L738.0 171.55L739.0 171.55L739.3 171.55L739.3 175.26L740.0 175.26L741.0 175.26L742.0 175.26L743.0 175.26L744.0 175.26L745.0 175.26L746.0 175.26L747.0 175.26L747.0 178.97L747.0 178.97L748.0 178.97L748.0 175.26L749.0 175.26L750.0 175.26L751.0 175.26L752.0 175.26L753.0 175.26L754.0 175.26L754.0 171.55L755.0 171.55L756.0 171.55L757.0 171.55L757.3 171.55L758.0 171.55L758.0 167.84L759.0 167.84L760.0 167.84L761.0 167.84L761.0 164.14L762.0 164.14L763.0 164.14L763.0 160.43L764.0 160.43L765.0 160.43L765.0 156.72L765.0 156.72L766.0 156.72L767.0 156.72L768.0 156.72L768.0 153.01L769.0 153.01L770.0 153.01L771.0 153.01L771.0 149.30L772.0 149.30L773.0 149.30L774.0 149.30L774.0 145.60L775.0 145.60L776.0 145.60L777.0 145.60L777.0 141.89L777.8 141.89L778.0 141.89L779.0 141.89L780.0 141.89L780.0 138.18L781.0 138.18L782.0 138.18L782.0 134.47L783.0 134.47L784.0 134.47L785.0 134.47L785.0 130.76L786.0 130.76L787.0 130.76L787.0 127.06L788.0 127.06L789.0 127.06L789.0 123.35L790.0 123.35L790.7 123.35L791.0 123.35L792.0 123.35L792.0 119.64L793.0 119.64L794.0 119.64L795.0 119.64L795.0 115.93L796.0 115.93L797.0 115.93L798.0 115.93L798.0 112.22L799.0 112.22L800.0 112.22L800.9 112.22L800.9 108.52L801.0 108.52L802.0 108.52L803.0 108.52L804.0 108.52L805.0 108.52L806.0 108.52L806.1 108.52L807.0 108.52L808.0 108.52L808.0 112.22L809.0 112.22L810.0 112.22L810.0 115.93L811.0 115.93L812.0 115.93L812.0 119.64L813.0 119.64L814.0 119.64L814.0 123.35L815.0 123.35L816.0 123.35L816.0 127.06L816.4 127.06L817.0 127.06L818.0 127.06L818.0 130.76L819.0 130.76L820.0 130.76L821.0 130.76L821.0 134.47L822.0 134.47L823.0 134.47L823.0 138.18L824.0 138.18L825.0 138.18L826.0 138.18L826.0 141.89L827.0 141.89L828.0 141.89L829.0 141.89L829.0 145.60L829.2 145.60L830.0 145.60L831.0 145.60L832.0 145.60L832.0 149.30L833.0 149.30L834.0 149.30L835.0 149.30L836.0 149.30L836.0 153.01L836.9 153.01L837.0 153.01L838.0 153.01L839.0 153.01L840.0 153.01L841.0 153.01L841.0 156.72L842.0 156.72L843.0 156.72L844.0 156.72L845.0 156.72L846.0 156.72L847.0 156.72L847.0 160.43L848.0 160.43L849.0 160.43L849.8 160.43L850.0 160.43L851.0 160.43L852.0 160.43L853.0 160.43L853.0 156.72L854.0 156.72L855.0 156.72L856.0 156.72L857.0 156.72L857.0 153.01L858.0 153.01L859.0 153.01L860.0 153.01L861.0 153.01L862.0 153.01L862.0 149.30L863.0 149.30L864.0 149.30L865.0 149.30L865.2 149.30L866.0 149.30L866.0 145.60L867.0 145.60L868.0 145.60L868.0 141.89L869.0 141.89L870.0 141.89L870.0 138.18L871.0 138.18L872.0 138.18L872.0 134.47L873.0 134.47L874.0 134.47L874.0 130.76L875.0 130.76L875.5 130.76L876.0 130.76L877.0 130.76L877.0 127.06L878.0 127.06L879.0 127.06L880.0 127.06L880.0 123.35L881.0 123.35L882.0 123.35L883.0 123.35L883.0 119.64L884.0 119.64L885.0 119.64L886.0 119.64L886.0 115.93L887.0 115.93L888.0 115.93L888.3 115.93L889.0 115.93L889.0 112.22L890.0 112.22L891.0 112.22L892.0 112.22L893.0 112.22L893.4 112.22L894.0 112.22L895.0 112.22L896.0 112.22L897.0 112.22L898.0 112.22L899.0 112.22L900.0 112.22L901.0 112.22L901.1 112.22L902.0 112.22L903.0 112.22L903.0 115.93L904.0 115.93L904.0 119.64L905.0 119.64L906.0 119.64L906.0 123.35L907.0 123.35L908.0 123.35L908.0 127.06L909.0 127.06L909.0 130.76L910.0 130.76L911.0 130.76L911.0 134.47L911.4 134.47L912.0 134.47L913.0 134.47L913.0 138.18L914.0 138.18L914.0 141.89L915.0 141.89L916.0 141.89L916.0 145.60L917.0 145.60L917.0 149.30L918.0 149.30L919.0 149.30L919.0 153.01L920.0 153.01L921.0 153.01L921.0 156.72L921.7 156.72L922.0 156.72L923.0 156.72L923.0 160.43L924.0 160.43L925.0 160.43L926.0 160.43L926.0 164.14L927.0 164.14L928.0 164.14L929.0 164.14L929.0 167.84L930.0 167.84L931.0 167.84L932.0 167.84L932.0 171.55" stroke="#56b4e9" stroke-width="2" fill="none"/>
<path d="M120.0 134.47L121.0 134.47L122.0 134.47L123.0 134.47L123.0 130.76L124.0 130.76L125.0 130.76L126.0 130.76L126.4 130.76L127.0 130.76L128.0 130.76L129.0 130.76L130.0 130.76L131.0 130.76L132.0 130.76L133.0 130.76L134.0 130.76L135.0 130.76L136.0 130.76L137.0 130.76L138.0 130.76L139.0 130.76L140.0 130.76L141.0 130.76L142.0 130.76L143.0 130.76L144.0 130.76L145.0 130.76L146.0 130.76L147.0 130.76L148.0 130.76L148.3 130.76L149.0 130.76L150.0 130.76L151.0 130.76L151.0 134.47L152.0 134.47L153.0 134.47L154.0 134.47L155.0 134.47L155.0 138.18L156.0 138.18L157.0 138.18L158.0 138.18L159.0 138.18L159.0 141.89L160.0 141.89L161.0 141.89L162.0 141.89L163.0 141.89L163.0 145.60L164.0 145.60L165.0 145.60L166.0 145.60L167.0 145.60L167.0 149.30L168.0 149.30L169.0 149.30L170.0 149.30L171.0 149.30L171.0 153.01L172.0 153.01L173.0 153.01L174.0 153.01L175.0 153.01L175.0 156.72L176.0 156.72L177.0 156.72L178.0 156.72L179.0 156.72L179.0 160.43L180.0 160.43L181.0 160.43L182.0 160.43L182.0 164.14L183.0 164.14L183.0 164.14L184.0 164.14L185.0 164.14L186.0 164.14L187.0 164.14L188.0 164.14L189.0 164.14L190.0 164.14L191.0 164.14L192.0 164.14L193.0 164.14L194.0 164.14L195.0 164.14L196.0 164.14L197.0 164.14L198.0 164.14L199.0 164.14L200.0 164.14L201.0 164.14L202.0 164.14L203.0 164.14L204.0 164.14L205.0 164.14L206.0 164.14L207.0 164.14L207.4 164.14L208.0 164.14L209.0 164.14L209.0 160.43L210.0 160.43L211.0 160.43L212.0 160.43L213.0 160.43L214.0 160.43L214.0 156.72L215.0 156.72L216.0 156.72L217.0 156.72L218.0 156.72L218.0 153.01L219.0 153.01L220.0 153.01L221.0 153.01L222.0 153.01L223.0 153.01L223.0 149.30L224.0 149.30L225.0 149.30L226.0 149.30L227.0 149.30L227.0 145.60L228.0 145.60L229.0 145.60L230.0 145.60L231.0 145.60L232.0 145.60L232.0 141.89L233.0 141.89L234.0 141.89L234.1 141.89L235.0 141.89L236.0 141.89L237.0 141.89L237.0 138.18L238.0 138.18L239.0 138.18L240.0 138.18L240.3 138.18L241.0 138.18L242.0 138.18L243.0 138.18L244.0 138.18L245.0 138.18L246.0 138.18L247.0 138.18L248.0 138.18L249.0 138.18L250.0 138.18L251.0 138.18L252.0 138.18L253.0 138.18L254.0 138.18L255.0 138.18L256.0 138.18L257.0 138.18L258.0 138.18L259.0 138.18L260.0 138.18L260.6 138.18L261.0 138.18L262.0 138.18L263.0 138.18L264.0 138.18L264.0 141.89L265.0 141.89L266.0 141.89L266.8 141.89L267.0 141.89L268.0 141.89L268.0 145.60L269.0 145.60L270.0 145.60L271.0 145.60L272.0 145.60L272.0 149.30L273.0 149.30L274.0 149.30L275.0 149.30L276.0 149.30L276.0 153.01L277.0 153.01L277.3 153.01L278.0 153.01L279.0 153.01L280.0 153.01L281.0 153.01L281.0 156.72L282.0 156.72L283.0 156.72L284.0 156.72L285.0 156.72L286.0 156.72L286.0 160.43L286.8 160.43L287.0 160.43L288.0 160.43L289.0 160.43L290.0 160.43L291.0 160.43L292.0 160.43L293.0 160.43L294.0 160.43L295.0 160.43L296.0 160.43L297.0 160.43L298.0 160.43L299.0 160.43L299.4 160.43L300.0 160.43L301.0 160.43L301.0 156.72L302.0 156.72L303.0 156.72L304.0 156.72L305.0 156.72L305.0 153.01L306.0 153.01L307.0 153.01L307.7 153.01L308.0 153.01L309.0 153.01L310.0 153.01L311.0 153.01L311.0 149.30L312.0 149.30L313.0 149.30L314.0 149.30L315.0 149.30L316.0 149.30L317.0 149.30L317.4 149.30L318.0 149.30L319.0 149.30L319.0 145.60L320.0 145.60L321.0 145.60L322.0 145.60L323.0 145.60L323.0 141.89L324.0 141.89L325.0 141.89L326.0 141.89L327.0 141.89L328.0 141.89L328.0 138.18L329.0 138.18L330.0 138.18L331.0 138.18L332.0 138.18L333.0 138.18L334.0 138.18L335.0 138.18L336.0 138.18L337.0 138.18L338.0 138.18L339.0 138.18L340.0 138.18L340.7 138.18L341.0 138.18L342.0 138.18L343.0 138.18L343.0 141.89L344.0 141.89L344.1 141.89L345.0 141.89L346.0 141.89L347.0 141.89L348.0 141.89L349.0 141.89L350.0 141.89L351.0 141.89L351.0 141.89L352.0 141.89L353.0 141.89L353.0 145.60L354.0 145.60L355.0 145.60L356.0 145.60L356.2 145.60L357.0 145.60L357.0 149.30L358.0 149.30L359.0 149.30L360.0 149.30L361.0 149.30L361.0 153.01L362.0 153.01L363.0 153.01L363.1 153.01L364.0 153.01L364.0 156.72L365.0 156.72L366.0 156.72L367.0 156.72L368.0 156.72L369.0 156.72L369.0 160.43L370.0 160.43L370.0 160.43L371.0 160.43L372.0 160.43L373.0 160.43L373.0 164.14L374.0 164.14L375.0 164.14L375.4 164.14L376.0 164.14L377.0 164.14L377.0 167.84L378.0 167.84L379.0 167.84L380.0 167.84L380.6 167.84L381.0 167.84L381.0 171.55L382.0 171.55L383.0 171.55L384.0 171.55L385.0 171.55L385.7 171.55L386.0 171.55L387.0 171.55L388.0 171.55L389.0 171.55L390.0 171.55L391.0 171.55L392.0 171.55L393.0 171.55L394.0 171.55L394.5 171.55L394.5 167.84L395.0 167.84L396.0 167.84L397.0 167.84L398.0 167.84L399.0 167.84L399.6 167.84L400.0 167.84L401.0 167.84L401.0 164.14L402.0 164.14L403.0 164.14L404.0 164.14L405.0 164.14L405.0 160.43L406.0 160.43L407.0 160.43L408.0 160.43L408.4 160.43L409.0 160.43L410.0 160.43L410.0 156.72L411.0 156.72L412.0 156.72L413.0 156.72L413.0 153.01L414.0 153.01L415.0 153.01L416.0 153.01L417.0 153.01L417.0 149.30L418.0 149.30L418.6 149.30L419.0 149.30L420.0 149.30L420.0 145.60L421.0 145.60L422.0 145.60L423.0 145.60L423.0 141.89L424.0 141.89L425.0 141.89L425.1 141.89L426.0 141.89L426.0 138.18L427.0 138.18L428.0 138.18L429.0 138.18L429.0 134.47L430.0 134.47L431.0 134.47L431.0 130.76L431.0 130.76L432.0 130.76L433.0 130.76L434.0 130.76L434.0 127.06L435.0 127.06L436.0 127.06L437.0 127.06L437.0 123.35L438.0 123.35L438.7 123.35L439.0 123.35L440.0 123.35L440.0 119.64L441.0 119.64L442.0 119.64L443.0 119.64L443.8 119.64L444.0 119.64L445.0 119.64L446.0 119.64L447.0 119.64L447.0 115.93L448.0 115.93L449.0 115.93L449.0 115.93L450.0 115.93L451.0 115.93L452.0 115.93L453.0 115.93L454.0 115.93L455.0 115.93L456.0 115.93L457.0 115.93L458.0 115.93L459.0 115.93L459.2 115.93L460.0 115.93L461.0 115.93L461.0 119.64L462.0 119.64L463.0 119.64L464.0 119.64L464.0 123.35L464.4 123.35L465.0 123.35L466.0 123.35L467.0 123.35L467.0 127.06L468.0 127.06L469.0 127.06L470.0 127.06L470.0 130.76L471.0 130.76L472.0 130.76L472.1 130.76L473.0 130.76L473.0 134.47L474.0 134.47L475.0 134.47L476.0 134.47L477.0 134.47L477.2 134.47L478.0 134.47L479.0 134.47L480.0 134.47L481.0 134.47L482.0 134.47L483.0 134.47L484.0 134.47L485.0 134.47L486.0 134.47L487.0 134.47L487.5 134.47L488.0 134.47L488.0 138.18L489.0 138.18L490.0 138.18L490.1 138.18L490.1 141.89L491.0 141.89L492.0 141.89L493.0 141.89L494.0 141.89L495.0 141.89L496.0 141.89L497.0 141.89L497.8 141.89L497.8 145.60L498.0 145.60L499.0 145.60L500.0 145.60L501.0 145.60L502.0 145.60L503.0 145.60L504.0 145.60L505.0 145.60L506.0 145.60L507.0 145.60L508.0 145.60L509.0 145.60L510.0 145.60L511.0 145.60L512.0 145.60L513.0 145.60L514.0 145.60L515.0 145.60L515.8 145.60L516.0 145.60L517.0 145.60L518.0 145.60L519.0 145.60L520.0 145.60L520.0 141.89L521.0 141.89L522.0 141.89L523.0 141.89L524.0 141.89L525.0 141.89L526.0 141.89L526.0 138.18L527.0 138.18L528.0 138.18L529.0 138.18L530.0 138.18L531.0 138.18L532.0 138.18L533.0 138.18L534.0 138.18L535.0 138.18L536.0 138.18L537.0 138.18L538.0 138.18L539.0 138.18L540.0 138.18L541.0 138.18L541.4 138.18L542.0 138.18L543.0 138.18L544.0 138.18L544.0 134.47L545.0 134.47L546.0 134.47L546.6 134.47L547.0 134.47L548.0 134.47L549.0 134.47L549.0 130.76L550.0 130.76L551.0 130.76L552.0 130.76L553.0 130.76L553.0 127.06L554.0 127.06L554.3 127.06L555.0 127.06L556.0 127.06L557.0 127.06L558.0 127.06L559.0 127.06L560.0 127.06L561.0 127.06L562.0 127.06L563.0 127.06L564.0 127.06L565.0 127.06L566.0 127.06L567.0 127.06L567.0 123.35L568.0 123.35L569.0 123.35L569.7 123.35L570.0 123.35L571.0 123.35L572.0 123.35L573.0 123.35L574.0 123.35L574.8 123.35L575.0 123.35L576.0 123.35L577.0 123.35L578.0 123.35L579.0 123.35L580.0 123.35L581.0 123.35L582.0 123.35L583.0 123.35L584.0 123.35L585.0 123.35L586.0 123.35L587.0 123.35L588.0 123.35L589.0 123.35L590.0 123.35L590.3 123.35L591.0 123.35L592.0 123.35L593.0 123.35L594.0 123.35L594.0 127.06L595.0 127.06L596.0 127.06L597.0 127.06L598.0 127.06L598.0 127.06L599.0 127.06L600.0 127.06L601.0 127.06L602.0 127.06L602.0 130.76L603.0 130.76L603.0 127.06L604.0 127.06L605.0 127.06L605.0 130.76L606.0 130.76L607.0 130.76L607.0 127.06L608.0 127.06L608.0 130.76L608.3 130.76L609.0 130.76L610.0 130.76L611.0 130.76L611.0 134.47L612.0 134.47L612.0 130.76L613.0 130.76L614.0 130.76L615.0 130.76L616.0 130.76L617.0 130.76L618.0 130.76L619.0 130.76L620.0 130.76L621.0 130.76L622.0 130.76L623.0 130.76L624.0 130.76L625.0 130.76L626.0 130.76L627.0 130.76L628.0 130.76L628.8 130.76L629.0 130.76L630.0 130.76L631.0 130.76L631.4 130.76L632.0 130.76L633.0 130.76L634.0 130.76L635.0 130.76L636.0 130.76L637.0 130.76L638.0 130.76L639.0 130.76L640.0 130.76L641.0 130.76L642.0 130.76L643.0 130.76L644.0 130.76L645.0 130.76L646.0 130.76L647.0 130.76L648.0 130.76L649.0 130.76L650.0 130.76L651.0 130.76L652.0 130.76L652.0 130.76L653.0 130.76L654.0 130.76L655.0 130.76L656.0 130.76L656.0 127.06L657.0 127.06L657.1 127.06L658.0 127.06L659.0 127.06L660.0 127.06L661.0 127.06L662.0 127.06L663.0 127.06L664.0 127.06L665.0 127.06L666.0 127.06L667.0 127.06L668.0 127.06L669.0 127.06L670.0 127.06L671.0 127.06L672.0 127.06L673.0 127.06L674.0 127.06L675.0 127.06L675.1 127.06L676.0 127.06L677.0 127.06L678.0 127.06L678.0 123.35L679.0 123.35L680.0 123.35L680.2 123.35L681.0 123.35L682.0 123.35L683.0 123.35L684.0 123.35L685.0 123.35L686.0 123.35L687.0 123.35L688.0 123.35L689.0 123.35L690.0 123.35L691.0 123.35L692.0 123.35L693.0 123.35L694.0 123.35L695.0 123.35L696.0 123.35L697.0 123.35L698.0 123.35L699.0 123.35L700.0 123.35L701.0 123.35L702.0 123.35L703.0 123.35L704.0 123.35L705.0 123.35L706.0 123.35L707.0 123.35L708.0 123.35L709.0 123.35L710.0 123.35L711.0 123.35L712.0 123.35L713.0 123.35L714.0 123.35L715.0 123.35L716.0 123.35L717.0 123.35L718.0 123.35L719.0 123.35L720.0 123.35L721.0 123.35L722.0 123.35L723.0 123.35L724.0 123.35L725.0 123.35L726.0 123.35L727.0 123.35L728.0 123.35L729.0 134.47L730.0 134.47L731.0 134.47L732.0 134.47L733.0 134.47L734.0 134.47L735.0 134.47L736.0 134.47L737.0 134.47L738.0 134.47L739.0 134.47L740.0 134.47L741.0 134.47L742.0 134.47L743.0 134.47L744.0 134.47L745.0 134.47L746.0 134.47L747.0 134.47L748.0 134.47L749.0 134.47L750.0 134.47L751.0 134.47L752.0 134.47L753.0 134.47L754.0 134.47L755.0 134.47L756.0 134.47L757.0 134.47L758.0 134.47L759.0 134.47L760.0 134.47L761.0 134.47L762.0 134.47L763.0 134.47L764.0 134.47L765.0 134.47L766.0 134.47L767.0 134.47L768.0 134.47L769.0 134.47L770.0 134.47L771.0 134.47L772.0 134.47L773.0 134.47L774.0 134.47L775.0 134.47L776.0 134.47L777.0 134.47L778.0 134.47L779.0 134.47L780.0 134.47L780.4 134.47L781.0 134.47L782.0 134.47L783.0 134.47L784.0 134.47L785.0 134.47L786.0 134.47L787.0 134.47L787.0 130.76L788.0 130.76L788.1 130.76L789.0 130.76L790.0 130.76L790.7 130.76L790.7 127.06L791.0 127.06L792.0 127.06L793.0 127.06L794.0 127.06L795.0 127.06L796.0 127.06L797.0 127.06L798.0 127.06L799.0 127.06L800.0 127.06L801.0 127.06L802.0 127.06L803.0 127.06L804.0 127.06L805.0 127.06L806.0 127.06L807.0 127.06L808.0 127.06L809.0 127.06L810.0 127.06L811.0 127.06L812.0 127.06L813.0 127.06L813.8 127.06L814.0 127.06L815.0 127.06L816.0 127.06L816.0 123.35L816.4 123.35L817.0 123.35L818.0 123.35L819.0 123.35L820.0 123.35L821.0 123.35L822.0 123.35L823.0 123.35L824.0 123.35L825.0 123.35L826.0 123.35L827.0 123.35L828.0 123.35L829.0 123.35L830.0 123.35L831.0 123.35L832.0 123.35L833.0 123.35L834.0 123.35L835.0 123.35L836.0 123.35L837.0 123.35L838.0 123.35L839.0 123.35L839.5 123.35L840.0 123.35L841.0 123.35L841.0 127.06L842.0 127.06L843.0 127.06L844.0 127.06L844.0 130.76L844.6 130.76L845.0 130.76L846.0 130.76L847.0 130.76L848.0 130.76L848.0 134.47L849.0 134.47L850.0 134.47L851.0 134.47L852.0 134.47L852.0 138.18L852.3 138.18L853.0 138.18L854.0 138.18L855.0 138.18L855.0 141.89L856.0 141.89L857.0 141.89L858.0 141.89L859.0 141.89L859.0 145.60L860.0 145.60L860.0 145.60L861.0 145.60L862.0 145.60L863.0 145.60L864.0 145.60L865.0 145.60L866.0 145.60L867.0 145.60L867.0 149.30L867.8 149.30L868.0 149.30L869.0 149.30L870.0 149.30L871.0 149.30L872.0 149.30L873.0 149.30L874.0 149.30L875.0 149.30L876.0 149.30L877.0 149.30L878.0 149.30L879.0 149.30L880.0 149.30L881.0 149.30L882.0 149.30L883.0 149.30L883.2 149.30L884.0 149.30L885.0 149.30L886.0 149.30L887.0 149.30L888.0 149.30L888.0 153.01L889.0 153.01L890.0 153.01L891.0 153.01L892.0 153.01L893.0 153.01L894.0 153.01L895.0 153.01L896.0 153.01L896.0 153.01L897.0 153.01L898.0 153.01L899.0 153.01L900.0 153.01L901.0 153.01L902.0 153.01L903.0 153.01L904.0 153.01L905.0 153.01L906.0 153.01L906.0 156.72L907.0 156.72L908.0 156.72L908.9 156.72L909.0 156.72L910.0 156.72L911.0 156.72L912.0 156.72L913.0 156.72L914.0 156.72L915.0 156.72L916.0 156.72L917.0 156.72L918.0 156.72L919.0 156.72L919.1 156.72L920.0 156.72L921.0 156.72L921.0 160.43L922.0 160.43L923.0 160.43L924.0 160.43L925.0 160.43L926.0 160.43L927.0 160.43L928.0 160.43L928.0 164.14L929.0 164.14L929.4 164.14L930.0 164.14L931.0 164.14L932.0 164.14" stroke="#e69f00" stroke-width="2" fill="none"/>
<path d="M120.0 167.84L121.0 167.84L122.0 167.84L123.0 167.84L124.0 167.84L125.0 167.84L126.0 167.84L127.0 167.84L128.0 167.84L129.0 167.84L130.0 167.84L130.0 171.55L131.0 171.55L132.0 171.55L133.0 171.55L134.0 171.55L135.0 171.55L135.4 171.55L136.0 171.55L137.0 171.55L138.0 171.55L139.0 171.55L140.0 171.55L141.0 171.55L142.0 171.55L143.0 171.55L144.0 171.55L145.0 171.55L146.0 171.55L147.0 171.55L148.0 171.55L149.0 171.55L149.0 175.26L150.0 175.26L151.0 175.26L152.0 175.26L153.0 175.26L154.0 175.26L155.0 175.26L156.0 175.26L157.0 175.26L158.0 175.26L159.0 175.26L160.0 175.26L161.0 175.26L162.0 175.26L163.0 175.26L164.0 175.26L165.0 175.26L166.0 175.26L167.0 175.26L168.0 175.26L168.0 178.97L168.8 178.97L169.0 178.97L170.0 178.97L171.0 178.97L172.0 178.97L173.0 178.97L174.0 178.97L175.0 178.97L176.0 178.97L177.0 178.97L178.0 178.97L179.0 178.97L180.0 178.97L181.0 178.97L182.0 178.97L183.0 178.97L184.0 178.97L185.0 178.97L186.0 178.97L187.0 178.97L188.0 178.97L189.0 178.97L190.0 178.97L191.0 178.97L192.0 178.97L193.0 178.97L194.0 178.97L195.0 178.97L196.0 178.97L197.0 178.97L197.0 182.68L198.0 182.68L199.0 182.68L199.7 182.68L200.0 182.68L201.0 182.68L202.0 182.68L203.0 182.68L204.0 182.68L205.0 182.68L206.0 182.68L207.0 182.68L208.0 182.68L209.0 182.68L210.0 182.68L211.0 182.68L212.0 182.68L213.0 182.68L214.0 182.68L215.0 182.68L216.0 182.68L217.0 182.68L218.0 182.68L219.0 182.68L220.0 182.68L221.0 182.68L222.0 182.68L222.0 186.38L223.0 186.38L224.0 186.38L225.0 186.38L225.4 186.38L226.0 186.38L227.0 186.38L228.0 186.38L229.0 186.38L230.0 186.38L231.0 186.38L232.0 186.38L233.0 186.38L234.0 186.38L235.0 186.38L236.0 186.38L237.0 186.38L238.0 186.38L239.0 186.38L240.0 186.38L241.0 186.38L242.0 186.38L243.0 186.38L244.0 186.38L245.0 186.38L246.0 186.38L247.0 186.38L248.0 186.38L249.0 186.38L250.0 186.38L251.0 186.38L252.0 186.38L253.0 186.38L254.0 186.38L255.0 186.38L256.0 186.38L257.0 186.38L258.0 186.38L259.0 186.38L260.0 186.38L261.0 186.38L262.0 186.38L263.0 186.38L264.0 186.38L265.0 186.38L266.0 186.38L267.0 186.38L268.0 186.38L269.0 186.38L270.0 186.38L271.0 186.38L272.0 186.38L273.0 186.38L274.0 186.38L275.0 186.38L276.0 186.38L277.0 186.38L278.0 186.38L279.0 186.38L280.0 186.38L281.0 186.38L282.0 186.38L283.0 186.38L284.0 186.38L284.5 186.38L284.5 182.68L285.0 190.09L286.0 190.09L286.0 186.38L287.0 186.38L287.1 186.38L287.1 190.09L288.0 190.09L288.0 193.80L289.0 193.80L290.0 193.80L290.0 190.09L291.0 190.09L292.0 190.09L292.0 193.80L293.0 193.80L293.0 190.09L294.0 190.09L295.0 190.09L295.0 186.38L296.0 186.38L296.0 190.09L297.0 190.09L298.0 190.09L299.0 190.09L300.0 190.09L301.0 190.09L302.0 190.09L303.0 190.09L303.0 193.80L304.0 193.80L305.0 193.80L305.0 190.09L306.0 190.09L306.0 186.38L307.0 186.38L307.0 190.09L308.0 190.09L309.0 190.09L309.0 186.38L310.0 186.38L311.0 193.80L312.0 193.80L312.0 190.09L313.0 190.09L313.0 186.38L314.0 193.80L315.0 186.38L316.0 186.38L316.0 190.09L317.0 190.09L317.0 186.38L318.0 186.38L318.0 190.09L319.0 190.09L319.0 186.38L320.0 186.38L320.0 190.09L321.0 190.09L322.0 190.09L323.0 190.09L324.0 190.09L324.0 186.38L325.0 186.38L325.0 190.09L326.0 190.09L327.0 190.09L328.0 190.09L329.0 190.09L330.0 190.09L331.0 190.09L332.0 190.09L333.0 190.09L334.0 190.09L335.0 190.09L336.0 190.09L337.0 190.09L338.0 190.09L339.0 190.09L340.0 190.09L341.0 190.09L342.0 190.09L343.0 190.09L344.0 190.09L345.0 190.09L346.0 190.09L347.0 190.09L348.0 190.09L349.0 190.09L350.0 190.09L351.0 190.09L352.0 190.09L353.0 190.09L354.0 190.09L355.0 190.09L356.0 190.09L357.0 190.09L358.0 190.09L359.0 190.09L360.0 190.09L361.0 190.09L362.0 190.09L363.0 190.09L364.0 190.09L365.0 190.09L366.0 190.09L367.0 190.09L368.0 190.09L369.0 190.09L370.0 190.09L371.0 190.09L371.8 190.09L372.0 190.09L373.0 190.09L374.0 190.09L375.0 190.09L375.0 186.38L376.0 186.38L377.0 186.38L378.0 186.38L379.0 186.38L380.0 186.38L381.0 186.38L381.0 182.68L382.0 182.68L382.1 182.68L383.0 182.68L384.0 182.68L385.0 182.68L386.0 182.68L387.0 182.68L388.0 182.68L389.0 182.68L390.0 182.68L391.0 182.68L392.0 182.68L393.0 182.68L394.0 182.68L395.0 182.68L396.0 182.68L396.0 178.97L397.0 178.97L397.8 178.97L398.0 178.97L399.0 178.97L400.0 178.97L401.0 178.97L402.0 178.97L403.0 178.97L404.0 178.97L405.0 178.97L406.0 178.97L407.0 178.97L407.0 175.26L408.0 175.26L409.0 175.26L410.0 175.26L411.0 175.26L411.7 175.26L412.0 175.26L413.0 175.26L414.0 175.26L415.0 175.26L416.0 175.26L417.0 175.26L417.0 171.55L418.0 171.55L419.0 171.55L420.0 171.55L421.0 171.55L422.0 171.55L423.0 171.55L424.0 171.55L425.0 171.55L425.1 171.55L426.0 171.55L427.0 171.55L428.0 171.55L428.0 167.84L429.0 167.84L430.0 167.84L431.0 167.84L432.0 167.84L433.0 167.84L433.5 167.84L434.0 167.84L435.0 167.84L435.0 164.14L436.0 164.14L437.0 164.14L438.0 164.14L439.0 164.14L440.0 164.14L441.0 164.14L441.2 164.14L442.0 164.14L443.0 164.14L444.0 164.14L445.0 164.14L446.0 164.14L446.0 160.43L447.0 160.43L448.0 160.43L449.0 160.43L450.0 160.43L451.0 160.43L452.0 160.43L453.0 160.43L454.0 160.43L455.0 160.43L456.0 160.43L456.7 160.43L457.0 160.43L458.0 160.43L459.0 160.43L460.0 160.43L460.0 156.72L461.0 156.72L462.0 156.72L463.0 156.72L464.0 156.72L465.0 156.72L466.0 156.72L467.0 156.72L468.0 156.72L469.0 156.72L469.5 156.72L470.0 156.72L471.0 156.72L472.0 156.72L472.0 153.01L473.0 153.01L474.0 153.01L475.0 153.01L476.0 153.01L477.0 153.01L477.2 153.01L478.0 153.01L479.0 153.01L480.0 153.01L481.0 153.01L482.0 153.01L483.0 153.01L484.0 153.01L484.0 149.30L485.0 149.30L486.0 149.30L487.0 149.30L488.0 149.30L489.0 149.30L490.0 149.30L490.1 149.30L491.0 149.30L492.0 149.30L493.0 149.30L494.0 149.30L495.0 149.30L496.0 149.30L497.0 149.30L498.0 149.30L499.0 149.30L500.0 149.30L501.0 149.30L502.0 149.30L502.9 149.30L503.0 149.30L504.0 149.30L505.0 149.30L506.0 149.30L507.0 149.30L507.0 145.60L508.0 145.60L509.0 145.60L510.0 145.60L511.0 145.60L512.0 145.60L513.0 145.60L514.0 145.60L515.0 145.60L516.0 145.60L517.0 145.60L518.0 145.60L519.0 145.60L520.0 145.60L521.0 145.60L522.0 145.60L523.0 145.60L524.0 145.60L525.0 145.60L526.0 145.60L527.0 145.60L528.0 145.60L529.0 145.60L530.0 145.60L531.0 145.60L532.0 145.60L533.0 145.60L534.0 145.60L535.0 145.60L536.0 145.60L537.0 145.60L538.0 145.60L539.0 145.60L539.0 141.89L540.0 141.89L541.0 141.89L542.0 141.89L543.0 141.89L544.0 141.89L545.0 141.89L546.0 141.89L546.6 141.89L547.0 141.89L548.0 141.89L549.0 141.89L550.0 141.89L551.0 141.89L552.0 141.89L553.0 141.89L554.0 141.89L555.0 141.89L556.0 141.89L557.0 141.89L558.0 141.89L559.0 141.89L560.0 141.89L561.0 141.89L562.0 141.89L563.0 141.89L564.0 141.89L565.0 141.89L566.0 141.89L567.0 141.89L568.0 141.89L569.0 141.89L570.0 141.89L571.0 141.89L572.0 141.89L573.0 141.89L574.0 141.89L575.0 141.89L576.0 141.89L577.0 141.89L578.0 141.89L579.0 141.89L580.0 141.89L581.0 141.89L582.0 141.89L583.0 141.89L584.0 141.89L585.0 141.89L586.0 141.89L587.0 141.89L588.0 141.89L589.0 141.89L590.0 141.89L591.0 141.89L592.0 141.89L593.0 141.89L594.0 141.89L595.0 141.89L596.0 141.89L597.0 141.89L598.0 141.89L599.0 141.89L600.0 141.89L601.0 141.89L602.0 141.89L603.0 141.89L603.1 141.89L604.0 141.89L605.0 141.89L606.0 141.89L607.0 141.89L608.0 141.89L608.3 141.89L609.0 141.89L610.0 141.89L610.0 138.18L611.0 138.18L612.0 138.18L613.0 138.18L614.0 138.18L615.0 138.18L616.0 138.18L617.0 138.18L618.0 138.18L619.0 138.18L620.0 138.18L621.0 138.18L622.0 138.18L623.0 138.18L624.0 138.18L625.0 138.18L626.0 138.18L627.0 138.18L628.0 138.18L628.8 138.18L629.0 138.18L630.0 138.18L631.0 138.18L632.0 138.18L633.0 138.18L634.0 138.18L635.0 138.18L636.0 138.18L637.0 138.18L638.0 138.18L639.0 138.18L640.0 138.18L641.0 138.18L642.0 138.18L643.0 138.18L644.0 138.18L645.0 138.18L646.0 138.18L647.0 138.18L648.0 138.18L649.0 138.18L650.0 138.18L651.0 138.18L652.0 138.18L653.0 138.18L654.0 138.18L655.0 138.18L656.0 138.18L657.0 138.18L658.0 138.18L659.0 138.18L660.0 138.18L661.0 138.18L662.0 138.18L663.0 138.18L664.0 138.18L665.0 138.18L666.0 138.18L667.0 138.18L668.0 138.18L669.0 138.18L670.0 138.18L671.0 138.18L672.0 138.18L673.0 138.18L674.0 138.18L675.0 138.18L676.0 138.18L677.0 138.18L678.0 138.18L679.0 138.18L680.0 138.18L680.2 138.18L681.0 138.18L682.0 138.18L683.0 138.18L684.0 138.18L685.0 138.18L686.0 138.18L687.0 138.18L688.0 138.18L689.0 138.18L690.0 138.18L691.0 138.18L692.0 138.18L693.0 138.18L694.0 138.18L695.0 138.18L696.0 138.18L697.0 138.18L698.0 138.18L699.0 138.18L700.0 138.18L701.0 138.18L702.0 138.18L703.0 138.18L704.0 138.18L705.0 138.18L706.0 138.18L707.0 138.18L708.0 138.18L709.0 138.18L710.0 138.18L711.0 138.18L712.0 138.18L713.0 138.18L714.0 138.18L715.0 138.18L716.0 138.18L717.0 138.18L718.0 138.18L719.0 138.18L720.0 138.18L721.0 138.18L722.0 138.18L723.0 138.18L724.0 138.18L725.0 138.18L726.0 138.18L727.0 138.18L728.0 138.18L729.0 138.18L730.0 138.18L731.0 138.18L732.0 138.18L733.0 138.18L734.0 138.18L735.0 138.18L736.0 138.18L737.0 138.18L738.0 138.18L739.0 138.18L740.0 138.18L741.0 138.18L742.0 138.18L743.0 138.18L744.0 138.18L745.0 138.18L746.0 138.18L747.0 138.18L748.0 138.18L749.0 138.18L750.0 138.18L751.0 138.18L752.0 138.18L753.0 138.18L754.0 138.18L755.0 138.18L756.0 138.18L757.0 138.18L758.0 138.18L759.0 138.18L760.0 138.18L761.0 138.18L762.0 138.18L763.0 138.18L764.0 138.18L765.0 138.18L766.0 138.18L767.0 138.18L768.0 138.18L769.0 138.18L770.0 138.18L771.0 138.18L772.0 138.18L773.0 138.18L774.0 138.18L775.0 138.18L776.0 138.18L777.0 138.18L778.0 138.18L779.0 138.18L780.0 138.18L781.0 138.18L782.0 138.18L783.0 138.18L784.0 138.18L785.0 138.18L786.0 138.18L787.0 138.18L788.0 138.18L789.0 138.18L790.0 138.18L791.0 138.18L792.0 138.18L793.0 138.18L794.0 138.18L795.0 138.18L796.0 138.18L797.0 138.18L798.0 138.18L799.0 138.18L800.0 138.18L801.0 138.18L802.0 138.18L803.0 138.18L804.0 138.18L805.0 138.18L806.0 138.18L807.0 138.18L808.0 138.18L809.0 138.18L810.0 138.18L811.0 138.18L812.0 138.18L813.0 138.18L814.0 138.18L815.0 138.18L816.0 138.18L817.0 138.18L818.0 138.18L819.0 138.18L820.0 138.18L821.0 138.18L822.0 138.18L823.0 138.18L824.0 138.18L825.0 138.18L826.0 138.18L827.0 138.18L828.0 138.18L829.0 138.18L830.0 138.18L831.0 138.18L832.0 138.18L833.0 138.18L834.0 138.18L835.0 138.18L836.0 138.18L837.0 138.18L838.0 138.18L839.0 138.18L840.0 138.18L841.0 138.18L842.0 138.18L843.0 138.18L844.0 138.18L845.0 138.18L846.0 138.18L847.0 138.18L847.2 138.18L848.0 138.18L849.0 138.18L850.0 138.18L851.0 138.18L851.0 141.89L852.0 141.89L853.0 141.89L854.0 141.89L854.9 141.89L855.0 141.89L856.0 141.89L857.0 141.89L858.0 141.89L858.0 145.60L859.0 145.60L860.0 145.60L861.0 145.60L862.0 145.60L863.0 145.60L864.0 145.60L865.0 145.60L865.0 149.30L865.2 149.30L866.0 149.30L867.0 149.30L868.0 149.30L869.0 149.30L870.0 149.30L871.0 149.30L872.0 149.30L873.0 149.30L874.0 149.30L875.0 149.30L876.0 149.30L877.0 149.30L878.0 149.30L878.0 149.30L879.0 149.30L880.0 149.30L881.0 149.30L882.0 149.30L882.0 153.01L883.0 153.01L884.0 153.01L885.0 153.01L886.0 153.01L887.0 153.01L888.0 153.01L888.3 153.01L889.0 153.01L890.0 153.01L891.0 153.01L892.0 153.01L893.0 153.01L894.0 153.01L895.0 153.01L896.0 153.01L897.0 153.01L898.0 153.01L899.0 153.01L900.0 153.01L901.0 153.01L901.0 156.72L902.0 156.72L903.0 156.72L903.7 156.72L904.0 156.72L905.0 156.72L906.0 156.72L907.0 156.72L908.0 156.72L909.0 156.72L910.0 156.72L911.0 156.72L912.0 156.72L912.0 160.43L913.0 160.43L914.0 160.43L914.0 160.43L915.0 160.43L916.0 160.43L917.0 160.43L918.0 160.43L919.0 160.43L920.0 160.43L921.0 160.43L922.0 160.43L922.0 164.14L923.0 164.14L924.0 164.14L924.3 164.14L925.0 164.14L926.0 164.14L927.0 164.14L928.0 164.14L929.0 164.14L930.0 164.14L931.0 164.14L932.0 164.14" stroke="#f0e442" stroke-width="2" fill="none"/>
<path d="M120.0 130.76L121.0 130.76L122.0 130.76L123.0 130.76L124.0 130.76L125.0 130.76L126.0 130.76L127.0 130.76L128.0 130.76L129.0 130.76L130.0 130.76L131.0 130.76L131.0 134.47L132.0 134.47L133.0 134.47L134.0 134.47L135.0 134.47L135.4 134.47L136.0 134.47L137.0 134.47L138.0 134.47L139.0 134.47L140.0 134.47L141.0 134.47L142.0 134.47L143.0 134.47L144.0 134.47L145.0 134.47L146.0 134.47L147.0 134.47L148.0 134.47L149.0 134.47L150.0 134.47L150.8 134.47L151.0 134.47L152.0 134.47L152.0 138.18L153.0 138.18L154.0 138.18L155.0 138.18L156.0 138.18L157.0 138.18L158.0 138.18L159.0 138.18L160.0 138.18L161.0 138.18L162.0 138.18L163.0 138.18L164.0 138.18L165.0 138.18L166.0 138.18L167.0 138.18L168.0 138.18L169.0 138.18L170.0 138.18L171.0 138.18L171.4 138.18L172.0 138.18L173.0 138.18L174.0 138.18L174.0 141.89L175.0 141.89L176.0 141.89L177.0 141.89L178.0 141.89L179.0 141.89L179.1 141.89L180.0 141.89L181.0 141.89L182.0 141.89L183.0 141.89L184.0 141.89L185.0 141.89L186.0 141.89L187.0 141.89L188.0 141.89L189.0 141.89L190.0 141.89L191.0 141.89L192.0 141.89L193.0 141.89L194.0 141.89L195.0 141.89L196.0 141.89L197.0 141.89L198.0 141.89L199.0 141.89L200.0 141.89L201.0 141.89L202.0 141.89L203.0 141.89L204.0 141.89L205.0 141.89L206.0 141.89L207.0 141.89L207.4 141.89L208.0 141.89L209.0 141.89L210.0 141.89L210.0 145.60L211.0 145.60L212.0 145.60L212.5 145.60L213.0 145.60L214.0 145.60L215.0 145.60L216.0 145.60L217.0 145.60L218.0 145.60L219.0 145.60L220.0 145.60L221.0 145.60L222.0 145.60L223.0 145.60L224.0 145.60L225.0 145.60L226.0 145.60L227.0 145.60L228.0 145.60L229.0 145.60L230.0 145.60L231.0 145.60L232.0 145.60L233.0 145.60L234.0 145.60L235.0 145.60L236.0 145.60L237.0 145.60L238.0 145.60L239.0 145.60L240.0 145.60L241.0 145.60L242.0 145.60L243.0 145.60L244.0 145.60L245.0 145.60L246.0 145.60L247.0 145.60L248.0 145.60L249.0 145.60L250.0 145.60L251.0 145.60L252.0 145.60L253.0 145.60L254.0 145.60L255.0 145.60L256.0 145.60L257.0 145.60L258.0 145.60L259.0 145.60L260.0 145.60L261.0 145.60L262.0 145.60L263.0 145.60L264.0 145.60L265.0 145.60L266.0 145.60L267.0 145.60L268.0 145.60L268.0 149.30L269.0 149.30L269.0 145.60L270.0 145.60L270.0 149.30L271.0 149.30L271.7 149.30L272.0 149.30L273.0 149.30L274.0 149.30L274.0 145.60L274.2 145.60L274.2 149.30L275.0 149.30L275.0 145.60L276.0 145.60L276.0 149.30L277.0 149.30L277.0 145.60L278.0 145.60L278.0 149.30L279.0 149.30L279.0 145.60L280.0 145.60L280.0 149.30L281.0 149.30L282.0 149.30L282.0 145.60L283.0 145.60L284.0 145.60L285.0 145.60L286.0 145.60L287.0 145.60L288.0 145.60L289.0 145.60L290.0 145.60L291.0 145.60L292.0 145.60L292.0 149.30L293.0 149.30L293.0 145.60L294.0 145.60L295.0 145.60L296.0 145.60L296.0 149.30L297.0 149.30L298.0 149.30L299.0 149.30L300.0 149.30L300.0 145.60L301.0 145.60L302.0 145.60L302.0 149.30L303.0 149.30L303.0 145.60L304.0 145.60L305.0 145.60L306.0 145.60L307.0 145.60L308.0 145.60L308.0 149.30L309.0 149.30L309.0 145.60L310.0 145.60L311.0 145.60L311.0 149.30L312.0 149.30L312.0 145.60L313.0 145.60L314.0 145.60L315.0 145.60L315.0 149.30L316.0 149.30L317.0 149.30L317.0 145.60L318.0 145.60L319.0 145.60L320.0 145.60L320.0 149.30L321.0 149.30L322.0 149.30L322.0 145.60L323.0 145.60L323.0 149.30L324.0 149.30L324.0 145.60L325.0 145.60L326.0 145.60L326.0 149.30L327.0 149.30L328.0 149.30L329.0 149.30L329.0 145.60L330.0 145.60L330.0 149.30L331.0 149.30L331.0 145.60L332.0 145.60L333.0 145.60L333.0 149.30L334.0 149.30L335.0 149.30L335.0 145.60L336.0 145.60L337.0 145.60L338.0 145.60L338.0 149.30L339.0 149.30L339.0 145.60L340.0 145.60L341.0 145.60L341.0 149.30L342.0 149.30L342.0 145.60L343.0 145.60L344.0 145.60L345.0 145.60L345.0 149.30L346.0 149.30L346.0 145.60L347.0 145.60L347.0 149.30L348.0 149.30L349.0 149.30L350.0 149.30L350.0 145.60L351.0 145.60L351.0 149.30L352.0 149.30L352.0 145.60L353.0 145.60L353.0 149.30L354.0 149.30L354.0 145.60L355.0 145.60L356.0 145.60L357.0 145.60L357.0 149.30L358.0 149.30L358.0 145.60L359.0 145.60L360.0 145.60L361.0 145.60L362.0 145.60L362.0 149.30L363.0 149.30L363.0 145.60L364.0 145.60L364.0 149.30L365.0 149.30L366.0 149.30L366.0 145.60L367.0 145.60L368.0 145.60L368.2 145.60L369.0 145.60L370.0 145.60L370.0 149.30L371.0 141.89L372.0 141.89L373.0 141.89L374.0 141.89L375.0 141.89L375.0 138.18L375.4 138.18L376.0 138.18L377.0 138.18L378.0 138.18L379.0 138.18L379.0 134.47L380.0 134.47L381.0 134.47L382.0 134.47L383.0 134.47L383.0 130.76L384.0 130.76L385.0 130.76L385.7 130.76L386.0 130.76L387.0 130.76L388.0 130.76L388.0 127.06L389.0 127.06L390.0 127.06L391.0 127.06L392.0 127.06L393.0 127.06L394.0 127.06L395.0 127.06L396.0 127.06L396.0 123.35L396.3 123.35L397.0 123.35L398.0 123.35L399.0 123.35L400.0 123.35L401.0 123.35L402.0 123.35L403.0 123.35L403.0 119.64L404.0 119.64L405.0 119.64L406.0 119.64L407.0 119.64L408.0 119.64L408.4 119.64L409.0 119.64L410.0 119.64L411.0 119.64L411.0 115.93L412.0 115.93L413.0 115.93L414.0 115.93L415.0 115.93L416.0 115.93L417.0 115.93L418.0 115.93L419.0 115.93L420.0 115.93L420.7 115.93L421.0 115.93L422.0 115.93L423.0 115.93L423.0 112.22L424.0 112.22L425.0 112.22L425.8 112.22L426.0 112.22L427.0 112.22L428.0 112.22L429.0 112.22L429.0 108.52L430.0 108.52L431.0 108.52L432.0 108.52L433.0 108.52L433.5 108.52L434.0 108.52L435.0 108.52L436.0 108.52L437.0 108.52L438.0 108.52L439.0 108.52L440.0 108.52L441.0 108.52L442.0 108.52L443.0 108.52L443.8 108.52L444.0 108.52L444.0 104.81L445.0 104.81L446.0 104.81L447.0 104.81L448.0 104.81L449.0 104.81L450.0 104.81L451.0 104.81L451.5 104.81L452.0 104.81L453.0 104.81L453.0 101.10L454.0 101.10L455.0 101.10L456.0 101.10L456.7 101.10L457.0 101.10L458.0 101.10L459.0 101.10L459.0 97.39L460.0 97.39L461.0 97.39L461.8 97.39L462.0 97.39L463.0 97.39L464.0 97.39L464.0 93.68L465.0 93.68L465.7 93.68L466.0 93.68L467.0 93.68L467.0 89.98L468.0 89.98L468.0 86.27L469.0 86.27L469.5 86.27L469.5 82.56L470.0 82.56L471.0 82.56L472.0 82.56L472.0 78.85L473.0 78.85L473.4 78.85L474.0 78.85L475.0 78.85L475.0 75.14L476.0 75.14L476.0 71.44L477.0 71.44L477.2 71.44L478.0 71.44L478.0 67.73L479.0 67.73L480.0 67.73L480.0 64.02L480.3 64.02L481.0 64.02L481.0 67.73L482.0 75.14L482.9 82.56L483.0 82.56L484.0 89.98L485.0 89.98L485.0 93.68L486.0 93.68L486.0 97.39L486.2 97.39L487.0 97.39L487.0 101.10L488.0 101.10L489.0 101.10L489.0 104.81L490.0 104.81L490.1 104.81L491.0 104.81L491.0 108.52L492.0 108.52L492.7 108.52L492.7 112.22L493.0 112.22L494.0 112.22L495.0 112.22L496.0 112.22L497.0 112.22L498.0 112.22L499.0 112.22L500.0 112.22L501.0 112.22L502.0 112.22L503.0 112.22L504.0 112.22L505.0 112.22L506.0 112.22L507.0 112.22L508.0 112.22L509.0 112.22L510.0 112.22L511.0 112.22L512.0 112.22L513.0 112.22L514.0 112.22L515.0 112.22L516.0 112.22L517.0 112.22L518.0 112.22L519.0 112.22L520.0 112.22L521.0 112.22L522.0 112.22L523.0 112.22L524.0 112.22L525.0 112.22L526.0 112.22L527.0 112.22L528.0 112.22L529.0 112.22L530.0 112.22L531.0 112.22L532.0 112.22L533.0 112.22L533.7 112.22L534.0 112.22L534.0 108.52L535.0 108.52L536.0 108.52L537.0 108.52L538.0 108.52L538.0 104.81L538.9 104.81L539.0 104.81L540.0 104.81L541.0 104.81L542.0 104.81L542.0 101.10L543.0 101.10L544.0 101.10L545.0 101.10L546.0 101.10L546.6 101.10L546.6 97.39L547.0 97.39L548.0 97.39L549.0 97.39L550.0 97.39L551.0 97.39L552.0 97.39L553.0 97.39L554.0 97.39L554.0 93.68L554.3 93.68L555.0 93.68L556.0 93.68L557.0 93.68L558.0 93.68L559.0 93.68L560.0 93.68L561.0 93.68L562.0 93.68L563.0 93.68L564.0 93.68L564.6 93.68L565.0 93.68L566.0 93.68L567.0 93.68L568.0 93.68L569.0 93.68L569.0 89.98L570.0 89.98L571.0 89.98L572.0 89.98L572.3 89.98L573.0 89.98L574.0 89.98L575.0 89.98L576.0 89.98L577.0 89.98L577.4 89.98L578.0 89.98L579.0 89.98L579.0 93.68L580.0 93.68L580.0 93.68L581.0 93.68L582.0 93.68L582.0 89.98L583.0 89.98L584.0 89.98L585.0 89.98L585.1 89.98L586.0 89.98L587.0 89.98L588.0 89.98L589.0 89.98L590.0 89.98L591.0 89.98L592.0 89.98L593.0 89.98L594.0 89.98L595.0 89.98L596.0 89.98L597.0 89.98L598.0 89.98L598.0 89.98L599.0 89.98L600.0 89.98L601.0 89.98L602.0 89.98L602.0 93.68L603.0 93.68L603.1 93.68L604.0 93.68L605.0 93.68L606.0 93.68L607.0 93.68L607.0 93.68L608.0 93.68L609.0 93.68L610.0 93.68L610.0 89.98L610.8 89.98L611.0 89.98L612.0 89.98L613.0 89.98L614.0 89.98L615.0 89.98L615.0 86.27L616.0 86.27L616.0 86.27L617.0 86.27L618.0 86.27L619.0 86.27L620.0 86.27L621.0 86.27L621.1 86.27L622.0 86.27L622.0 89.98L623.0 89.98L623.7 89.98L624.0 89.98L625.0 89.98L625.0 93.68L626.0 93.68L627.0 93.68L628.0 93.68L628.8 93.68L629.0 93.68L630.0 93.68L631.0 93.68L632.0 93.68L632.0 97.39L633.0 97.39L634.0 97.39L634.0 97.39L635.0 97.39L636.0 97.39L637.0 97.39L638.0 97.39L639.0 97.39L639.1 97.39L640.0 97.39L641.0 97.39L642.0 97.39L642.0 93.68L643.0 93.68L644.0 93.68L644.2 93.68L645.0 93.68L646.0 93.68L646.0 89.98L647.0 89.98L648.0 89.98L649.0 89.98L650.0 89.98L651.0 89.98L651.0 86.27L652.0 86.27L652.0 86.27L653.0 86.27L654.0 86.27L655.0 86.27L656.0 86.27L656.0 82.56L657.0 82.56L657.1 82.56L658.0 82.56L659.0 82.56L659.0 86.27L660.0 86.27L661.0 86.27L662.0 86.27L663.0 86.27L664.0 86.27L664.8 86.27L665.0 86.27L666.0 86.27L667.0 86.27L668.0 86.27L669.0 86.27L670.0 86.27L670.0 86.27L671.0 86.27L672.0 86.27L673.0 86.27L674.0 86.27L674.0 82.56L675.0 82.56L675.1 82.56L676.0 82.56L677.0 82.56L678.0 82.56L679.0 82.56L680.0 82.56L680.2 82.56L681.0 82.56L682.0 82.56L682.0 86.27L683.0 86.27L684.0 86.27L685.0 86.27L685.4 86.27L686.0 86.27L687.0 86.27L688.0 86.27L688.0 89.98L689.0 89.98L690.0 89.98L690.5 89.98L691.0 89.98L692.0 89.98L693.0 89.98L694.0 89.98L695.0 89.98L695.7 89.98L696.0 89.98L697.0 89.98L698.0 89.98L698.0 86.27L699.0 86.27L700.0 86.27L700.8 86.27L701.0 86.27L702.0 86.27L703.0 86.27L704.0 86.27L705.0 86.27L706.0 86.27L707.0 86.27L708.0 86.27L709.0 86.27L710.0 86.27L711.0 86.27L711.1 86.27L712.0 86.27L712.0 82.56L713.0 82.56L714.0 82.56L715.0 82.56L716.0 82.56L716.2 82.56L717.0 82.56L718.0 82.56L719.0 82.56L720.0 82.56L720.0 78.85L721.0 78.85L722.0 78.85L723.0 78.85L723.9 78.85L724.0 78.85L725.0 78.85L726.0 78.85L727.0 78.85L728.0 78.85L729.0 78.85L730.0 78.85L731.0 78.85L732.0 78.85L732.0 75.14L733.0 75.14L734.0 75.14L734.1 75.14L735.0 75.14L736.0 75.14L737.0 75.14L738.0 75.14L739.0 75.14L739.3 75.14L740.0 75.14L741.0 75.14L741.0 78.85L741.9 78.85L742.0 78.85L743.0 78.85L744.0 78.85L745.0 78.85L746.0 78.85L746.0 82.56L747.0 82.56L748.0 82.56L749.0 82.56L750.0 82.56L751.0 82.56L752.0 82.56L752.1 82.56L753.0 82.56L754.0 82.56L755.0 82.56L756.0 82.56L756.0 86.27L757.0 86.27L757.3 86.27L758.0 86.27L759.0 86.27L760.0 86.27L761.0 86.27L762.0 86.27L762.4 86.27L763.0 86.27L764.0 86.27L764.0 82.56L765.0 82.56L765.0 82.56L766.0 82.56L767.0 82.56L768.0 82.56L769.0 82.56L770.0 82.56L771.0 82.56L772.0 82.56L772.7 82.56L773.0 82.56L774.0 82.56L774.0 78.85L775.0 78.85L775.2 78.85L776.0 78.85L777.0 78.85L778.0 78.85L779.0 78.85L780.0 78.85L781.0 78.85L782.0 78.85L783.0 78.85L783.0 78.85L784.0 78.85L785.0 78.85L786.0 78.85L786.0 75.14L787.0 75.14L788.0 75.14L788.1 75.14L789.0 75.14L790.0 75.14L791.0 75.14L792.0 75.14L793.0 75.14L794.0 75.14L795.0 75.14L796.0 75.14L797.0 75.14L798.0 75.14L799.0 75.14L800.0 75.14L801.0 75.14L802.0 75.14L803.0 75.14L804.0 75.14L805.0 75.14L806.0 75.14L806.1 75.14L807.0 75.14L808.0 75.14L809.0 75.14L809.0 78.85L810.0 78.85L811.0 78.85L811.2 78.85L812.0 78.85L813.0 78.85L814.0 78.85L815.0 78.85L816.0 78.85L816.0 82.56L817.0 82.56L818.0 82.56L818.9 82.56L819.0 82.56L820.0 82.56L821.0 82.56L822.0 82.56L823.0 82.56L824.0 82.56L824.0 86.27L825.0 86.27L826.0 86.27L826.6 86.27L827.0 86.27L828.0 86.27L829.0 86.27L830.0 86.27L831.0 86.27L832.0 86.27L833.0 86.27L833.0 89.98L834.0 89.98L834.3 89.98L835.0 89.98L836.0 89.98L837.0 89.98L838.0 89.98L839.0 89.98L840.0 89.98L841.0 89.98L841.0 93.68L842.0 93.68L842.0 93.68L843.0 93.68L844.0 93.68L845.0 93.68L846.0 93.68L847.0 93.68L848.0 93.68L849.0 93.68L849.0 97.39L849.8 97.39L850.0 97.39L851.0 97.39L852.0 97.39L853.0 97.39L854.0 97.39L855.0 97.39L856.0 97.39L856.0 101.10L857.0 101.10L857.5 101.10L858.0 101.10L859.0 101.10L860.0 101.10L861.0 101.10L861.0 104.81L862.0 104.81L863.0 104.81L864.0 104.81L865.0 104.81L865.2 104.81L865.2 108.52L866.0 108.52L867.0 108.52L868.0 108.52L869.0 108.52L870.0 108.52L871.0 108.52L871.0 112.22L872.0 112.22L872.9 112.22L873.0 112.22L874.0 112.22L875.0 112.22L876.0 112.22L877.0 112.22L877.0 115.93L878.0 115.93L879.0 115.93L880.0 115.93L880.6 115.93L881.0 115.93L882.0 115.93L882.0 119.64L883.0 119.64L884.0 119.64L885.0 119.64L886.0 119.64L887.0 119.64L888.0 119.64L888.0 123.35L888.3 123.35L889.0 123.35L890.0 123.35L891.0 123.35L892.0 123.35L893.0 123.35L894.0 123.35L895.0 123.35L896.0 123.35L897.0 123.35L897.0 127.06L898.0 127.06L898.6 127.06L899.0 127.06L900.0 127.06L901.0 127.06L902.0 127.06L903.0 127.06L904.0 127.06L905.0 127.06L906.0 127.06L907.0 127.06L908.0 127.06L908.9 127.06L909.0 127.06L910.0 127.06L910.0 130.76L911.0 130.76L912.0 130.76L913.0 130.76L914.0 130.76L914.0 130.76L915.0 130.76L916.0 130.76L917.0 130.76L918.0 130.76L919.0 130.76L920.0 130.76L921.0 130.76L922.0 130.76L923.0 130.76L924.0 130.76L925.0 130.76L926.0 130.76L927.0 130.76L928.0 130.76L929.0 130.76L930.0 130.76L931.0 130.76L932.0 130.76" stroke="#0072b2" stroke-width="2" fill="none"/>
<path d="M120.0 145.60L121.0 145.60L122.0 145.60L123.0 145.60L124.0 145.60L125.0 145.60L126.0 145.60L127.0 145.60L127.0 149.30L127.7 149.30L128.0 149.30L129.0 149.30L130.0 149.30L131.0 149.30L132.0 149.30L133.0 149.30L134.0 149.30L135.0 149.30L136.0 149.30L137.0 149.30L138.0 149.30L139.0 149.30L140.0 149.30L141.0 149.30L142.0 149.30L143.0 149.30L144.0 149.30L145.0 149.30L145.7 149.30L146.0 149.30L147.0 149.30L148.0 149.30L149.0 149.30L149.0 153.01L150.0 153.01L151.0 153.01L152.0 153.01L153.0 153.01L154.0 153.01L155.0 153.01L156.0 153.01L157.0 153.01L158.0 153.01L158.6 153.01L159.0 153.01L160.0 153.01L161.0 153.01L162.0 153.01L162.0 156.72L163.0 156.72L164.0 156.72L165.0 156.72L166.0 156.72L167.0 156.72L168.0 156.72L169.0 156.72L170.0 156.72L171.0 156.72L171.4 156.72L172.0 156.72L173.0 156.72L174.0 156.72L175.0 156.72L176.0 156.72L177.0 156.72L178.0 156.72L179.0 156.72L180.0 156.72L181.0 156.72L182.0 156.72L183.0 156.72L184.0 156.72L184.3 156.72L185.0 156.72L186.0 156.72L187.0 156.72L188.0 156.72L188.0 160.43L189.0 160.43L190.0 160.43L191.0 160.43L192.0 160.43L193.0 160.43L194.0 160.43L195.0 160.43L196.0 160.43L197.0 160.43L197.1 160.43L198.0 160.43L199.0 160.43L200.0 160.43L201.0 160.43L202.0 160.43L203.0 160.43L204.0 160.43L205.0 160.43L206.0 160.43L207.0 160.43L208.0 160.43L208.0 164.14L209.0 164.14L210.0 164.14L211.0 164.14L212.0 164.14L212.5 164.14L213.0 164.14L214.0 164.14L215.0 164.14L216.0 164.14L217.0 164.14L218.0 164.14L219.0 164.14L220.0 164.14L221.0 164.14L222.0 164.14L223.0 164.14L224.0 164.14L225.0 164.14L226.0 164.14L227.0 164.14L228.0 164.14L229.0 164.14L230.0 164.14L231.0 164.14L232.0 164.14L233.0 164.14L234.0 164.14L235.0 164.14L236.0 164.14L237.0 164.14L238.0 164.14L239.0 164.14L240.0 164.14L241.0 164.14L242.0 164.14L243.0 164.14L244.0 164.14L245.0 164.14L246.0 164.14L247.0 164.14L248.0 164.14L249.0 164.14L250.0 164.14L251.0 164.14L252.0 164.14L253.0 164.14L254.0 164.14L255.0 164.14L255.0 160.43L256.0 160.43L256.0 164.14L257.0 164.14L258.0 164.14L259.0 164.14L260.0 164.14L261.0 164.14L262.0 164.14L263.0 164.14L264.0 164.14L265.0 164.14L266.0 164.14L267.0 164.14L268.0 164.14L268.0 160.43L269.0 160.43L269.0 164.14L269.1 164.14L270.0 164.14L271.0 164.14L271.7 164.14L271.7 167.84L272.0 167.84L273.0 167.84L274.0 167.84L275.0 167.84L276.0 167.84L277.0 167.84L278.0 167.84L279.0 167.84L280.0 167.84L280.0 171.55L281.0 171.55L281.0 167.84L282.0 167.84L283.0 167.84L284.0 167.84L284.0 171.55L285.0 164.14L286.0 164.14L286.0 167.84L287.0 167.84L287.0 171.55L288.0 164.14L289.0 171.55L290.0 171.55L290.0 167.84L291.0 167.84L292.0 167.84L292.0 164.14L293.0 164.14L293.0 167.84L294.0 167.84L295.0 167.84L295.0 164.14L296.0 164.14L296.0 167.84L297.0 167.84L298.0 167.84L299.0 167.84L300.0 167.84L301.0 167.84L302.0 167.84L303.0 167.84L304.0 167.84L305.0 167.84L306.0 167.84L307.0 167.84L308.0 167.84L309.0 167.84L310.0 167.84L311.0 167.84L312.0 167.84L312.0 171.55L313.0 171.55L313.0 167.84L314.0 167.84L315.0 167.84L316.0 167.84L317.0 167.84L318.0 167.84L319.0 167.84L320.0 167.84L321.0 167.84L322.0 167.84L323.0 167.84L323.0 164.14L324.0 164.14L325.0 164.14L326.0 164.14L327.0 164.14L328.0 164.14L329.0 164.14L330.0 164.14L331.0 164.14L332.0 164.14L333.0 164.14L334.0 164.14L335.0 164.14L335.0 160.43L336.0 160.43L336.0 164.14L337.0 164.14L338.0 164.14L339.0 164.14L340.0 164.14L341.0 164.14L342.0 164.14L343.0 164.14L344.0 164.14L345.0 164.14L345.0 160.43L346.0 160.43L346.0 164.14L347.0 164.14L348.0 164.14L348.0 160.43L349.0 167.84L350.0 167.84L350.0 164.14L351.0 164.14L352.0 164.14L352.0 160.43L353.0 160.43L353.0 164.14L354.0 164.14L355.0 164.14L356.0 164.14L357.0 164.14L358.0 164.14L359.0 164.14L360.0 164.14L361.0 164.14L362.0 164.14L363.0 164.14L364.0 164.14L365.0 164.14L366.0 164.14L367.0 164.14L368.0 164.14L369.0 164.14L370.0 164.14L371.0 164.14L371.8 164.14L372.0 164.14L373.0 164.14L374.0 164.14L375.0 164.14L376.0 164.14L376.0 160.43L377.0 160.43L378.0 160.43L379.0 160.43L379.6 160.43L380.0 160.43L381.0 160.43L382.0 160.43L382.0 156.72L383.0 156.72L384.0 156.72L385.0 156.72L386.0 156.72L387.0 156.72L388.0 156.72L389.0 156.72L389.0 153.01L389.8 153.01L390.0 153.01L391.0 153.01L392.0 153.01L393.0 153.01L394.0 153.01L395.0 153.01L396.0 153.01L397.0 153.01L397.0 149.30L398.0 149.30L399.0 149.30L400.0 149.30L400.1 149.30L401.0 149.30L402.0 149.30L403.0 149.30L404.0 149.30L404.0 145.60L405.0 145.60L406.0 145.60L407.0 145.60L408.0 145.60L409.0 145.60L410.0 145.60L410.4 145.60L411.0 145.60L412.0 145.60L412.0 141.89L413.0 141.89L414.0 141.89L415.0 141.89L416.0 141.89L417.0 141.89L418.0 141.89L419.0 141.89L420.0 141.89L420.7 141.89L421.0 141.89L422.0 141.89L423.0 141.89L424.0 141.89L425.0 141.89L425.0 138.18L426.0 138.18L427.0 138.18L428.0 138.18L429.0 138.18L430.0 138.18L431.0 138.18L431.0 138.18L432.0 138.18L433.0 138.18L434.0 138.18L435.0 138.18L436.0 138.18L436.0 134.47L437.0 134.47L438.0 134.47L439.0 134.47L440.0 134.47L441.0 134.47L441.2 134.47L442.0 134.47L443.0 134.47L444.0 134.47L445.0 134.47L446.0 134.47L447.0 134.47L448.0 134.47L449.0 134.47L449.0 130.76L449.0 130.76L450.0 130.76L451.0 130.76L452.0 130.76L453.0 130.76L454.0 130.76L455.0 130.76L456.0 130.76L457.0 130.76L458.0 130.76L459.0 130.76L459.2 130.76L460.0 130.76L461.0 130.76L462.0 130.76L463.0 130.76L464.0 130.76L465.0 130.76L466.0 130.76L467.0 130.76L467.0 130.76L468.0 130.76L468.0 134.47L469.0 134.47L470.0 134.47L471.0 134.47L472.0 134.47L473.0 134.47L474.0 134.47L475.0 134.47L476.0 134.47L477.0 134.47L477.2 134.47L478.0 134.47L479.0 134.47L480.0 134.47L481.0 134.47L482.0 134.47L483.0 134.47L484.0 134.47L484.9 134.47L485.0 134.47L486.0 145.60L487.0 156.72L487.5 156.72L487.5 160.43L488.0 160.43L488.0 164.14L489.0 175.26L490.0 182.68L490.1 182.68L491.0 182.68L492.0 182.68L492.0 186.38L493.0 186.38L494.0 186.38L495.0 186.38L495.2 186.38L496.0 186.38L497.0 186.38L497.0 190.09L498.0 190.09L499.0 190.09L499.0 193.80L500.0 193.80L500.4 193.80L501.0 193.80L502.0 193.80L502.0 197.51L503.0 197.51L504.0 197.51L504.0 201.22L505.0 201.22L505.0 204.92L505.5 204.92L506.0 204.92L507.0 204.92L508.0 204.92L508.0 208.63L509.0 208.63L510.0 208.63L510.0 212.34L510.7 212.34L511.0 212.34L512.0 212.34L513.0 212.34L514.0 212.34L515.0 212.34L515.8 212.34L516.0 212.34L517.0 212.34L517.0 208.63L518.0 208.63L519.0 208.63L520.0 208.63L520.0 204.92L520.9 204.92L521.0 204.92L522.0 204.92L523.0 204.92L523.0 201.22L524.0 201.22L525.0 201.22L526.0 201.22L526.0 197.51L527.0 197.51L527.0 193.80L528.0 193.80L529.0 193.80L530.0 193.80L530.0 190.09L531.0 190.09L532.0 190.09L533.0 190.09L533.0 186.38L534.0 186.38L535.0 186.38L536.0 186.38L536.0 182.68L536.3 182.68L537.0 182.68L538.0 182.68L539.0 182.68L540.0 182.68L541.0 182.68L542.0 182.68L542.0 178.97L543.0 178.97L544.0 178.97L545.0 178.97L546.0 178.97L547.0 178.97L548.0 178.97L548.0 175.26L549.0 175.26L550.0 175.26L551.0 175.26L552.0 175.26L553.0 175.26L553.0 171.55L554.0 171.55L555.0 171.55L556.0 171.55L556.9 171.55L557.0 171.55L558.0 171.55L559.0 171.55L559.0 167.84L560.0 167.84L561.0 167.84L562.0 167.84L563.0 167.84L564.0 167.84L565.0 167.84L565.0 164.14L566.0 164.14L567.0 164.14L568.0 164.14L569.0 164.14L570.0 164.14L570.0 160.43L571.0 160.43L572.0 160.43L572.3 160.43L573.0 160.43L574.0 160.43L575.0 160.43L576.0 160.43L577.0 160.43L577.0 156.72L578.0 156.72L579.0 156.72L580.0 156.72L581.0 156.72L582.0 156.72L583.0 156.72L584.0 156.72L584.0 153.01L585.0 153.01L586.0 153.01L587.0 153.01L587.7 153.01L588.0 153.01L589.0 153.01L590.0 153.01L591.0 153.01L592.0 153.01L593.0 153.01L593.0 149.30L594.0 149.30L595.0 149.30L596.0 149.30L597.0 149.30L598.0 149.30L599.0 149.30L600.0 149.30L601.0 149.30L601.0 145.60L602.0 145.60L603.0 145.60L603.1 145.60L604.0 145.60L605.0 145.60L606.0 145.60L607.0 145.60L608.0 145.60L609.0 145.60L610.0 145.60L611.0 145.60L611.0 141.89L612.0 141.89L613.0 141.89L614.0 141.89L615.0 141.89L616.0 141.89L617.0 141.89L618.0 141.89L619.0 141.89L620.0 141.89L621.0 141.89L621.1 141.89L622.0 141.89L622.0 138.18L623.0 138.18L624.0 138.18L625.0 138.18L626.0 138.18L627.0 138.18L628.0 138.18L629.0 138.18L630.0 138.18L631.0 138.18L632.0 138.18L633.0 138.18L634.0 138.18L634.0 138.18L635.0 138.18L636.0 138.18L637.0 138.18L638.0 138.18L639.0 138.18L640.0 138.18L641.0 138.18L642.0 138.18L643.0 138.18L644.0 138.18L645.0 138.18L646.0 138.18L647.0 138.18L648.0 138.18L649.0 138.18L650.0 138.18L651.0 138.18L652.0 138.18L652.0 138.18L653.0 138.18L654.0 138.18L654.5 138.18L654.5 134.47L655.0 134.47L656.0 134.47L657.0 134.47L658.0 134.47L659.0 134.47L660.0 134.47L661.0 134.47L662.0 134.47L663.0 134.47L664.0 134.47L665.0 134.47L666.0 134.47L667.0 134.47L668.0 134.47L669.0 134.47L670.0 134.47L671.0 134.47L672.0 134.47L672.5 134.47L673.0 134.47L674.0 134.47L675.0 134.47L675.0 130.76L675.1 130.76L676.0 130.76L677.0 130.76L678.0 130.76L679.0 130.76L680.0 130.76L681.0 130.76L682.0 130.76L683.0 130.76L684.0 130.76L685.0 130.76L686.0 130.76L687.0 130.76L688.0 130.76L689.0 130.76L690.0 130.76L691.0 130.76L692.0 130.76L693.0 130.76L694.0 130.76L695.0 130.76L696.0 130.76L697.0 130.76L698.0 130.76L699.0 130.76L700.0 130.76L701.0 130.76L702.0 130.76L703.0 130.76L704.0 130.76L705.0 130.76L706.0 130.76L707.0 130.76L708.0 130.76L709.0 130.76L710.0 130.76L711.0 130.76L712.0 130.76L713.0 130.76L714.0 130.76L715.0 130.76L716.0 130.76L717.0 130.76L718.0 130.76L719.0 130.76L720.0 130.76L721.0 130.76L722.0 130.76L723.0 130.76L724.0 130.76L725.0 130.76L726.0 130.76L727.0 130.76L728.0 130.76L729.0 130.76L729.0 127.06L730.0 127.06L731.0 127.06L732.0 127.06L733.0 127.06L734.0 127.06L735.0 127.06L736.0 127.06L737.0 127.06L738.0 127.06L739.0 127.06L740.0 127.06L741.0 127.06L742.0 127.06L743.0 127.06L744.0 127.06L745.0 127.06L746.0 127.06L747.0 127.06L748.0 127.06L749.0 127.06L750.0 127.06L751.0 127.06L752.0 127.06L753.0 127.06L754.0 127.06L755.0 127.06L756.0 127.06L757.0 127.06L758.0 127.06L759.0 127.06L760.0 127.06L761.0 127.06L762.0 127.06L763.0 127.06L764.0 127.06L765.0 127.06L766.0 127.06L767.0 127.06L768.0 127.06L769.0 127.06L770.0 127.06L771.0 127.06L772.0 127.06L773.0 127.06L774.0 127.06L775.0 127.06L776.0 127.06L777.0 127.06L778.0 127.06L779.0 127.06L780.0 127.06L781.0 127.06L782.0 127.06L783.0 127.06L784.0 127.06L785.0 127.06L786.0 127.06L787.0 127.06L788.0 127.06L789.0 127.06L790.0 127.06L791.0 127.06L792.0 127.06L793.0 127.06L794.0 127.06L795.0 127.06L796.0 127.06L797.0 127.06L798.0 127.06L799.0 127.06L800.0 127.06L801.0 127.06L802.0 127.06L803.0 127.06L804.0 127.06L805.0 127.06L806.0 127.06L807.0 127.06L808.0 127.06L809.0 127.06L810.0 127.06L811.0 127.06L812.0 127.06L813.0 127.06L814.0 127.06L815.0 127.06L816.0 127.06L817.0 127.06L818.0 127.06L819.0 127.06L820.0 127.06L821.0 127.06L822.0 127.06L823.0 127.06L824.0 127.06L825.0 127.06L826.0 127.06L827.0 127.06L828.0 127.06L829.0 127.06L830.0 127.06L831.0 127.06L832.0 127.06L833.0 127.06L834.0 127.06L835.0 127.06L836.0 127.06L837.0 127.06L838.0 127.06L839.0 127.06L840.0 127.06L841.0 127.06L842.0 127.06L843.0 127.06L844.0 127.06L845.0 127.06L846.0 127.06L847.0 127.06L847.2 127.06L848.0 127.06L849.0 127.06L849.0 130.76L850.0 130.76L851.0 130.76L852.0 130.76L852.3 130.76L853.0 130.76L853.0 134.47L854.0 134.47L855.0 134.47L856.0 134.47L857.0 134.47L857.0 138.18L857.5 138.18L858.0 138.18L859.0 138.18L860.0 138.18L861.0 138.18L861.0 141.89L862.0 141.89L862.6 141.89L863.0 141.89L864.0 141.89L865.0 141.89L865.0 145.60L866.0 145.60L867.0 145.60L868.0 145.60L869.0 145.60L870.0 145.60L871.0 145.60L872.0 145.60L872.9 145.60L872.9 149.30L873.0 149.30L874.0 149.30L875.0 149.30L876.0 149.30L877.0 149.30L878.0 149.30L879.0 149.30L880.0 149.30L881.0 149.30L882.0 149.30L882.0 153.01L883.0 153.01L883.2 153.01L884.0 153.01L885.0 153.01L886.0 153.01L887.0 153.01L888.0 153.01L889.0 153.01L890.0 153.01L891.0 153.01L892.0 153.01L893.0 153.01L894.0 153.01L894.0 156.72L895.0 156.72L896.0 156.72L896.0 156.72L897.0 156.72L898.0 156.72L899.0 156.72L900.0 156.72L901.0 156.72L902.0 156.72L903.0 156.72L904.0 156.72L905.0 156.72L906.0 156.72L907.0 156.72L907.0 160.43L908.0 160.43L908.9 160.43L909.0 160.43L910.0 160.43L911.0 160.43L912.0 160.43L913.0 160.43L914.0 160.43L915.0 160.43L916.0 160.43L917.0 160.43L918.0 160.43L918.0 164.14L919.0 164.14L920.0 164.14L921.0 164.14L922.0 164.14L923.0 164.14L924.0 164.14L924.3 164.14L925.0 164.14L926.0 164.14L927.0 164.14L928.0 164.14L929.0 164.14L930.0 164.14L931.0 164.14L932.0 164.14" stroke="#e51e10" stroke-width="2" fill="none"/>
<path d="M120.0 167.84L121.0 167.84L121.0 171.55L122.0 171.55L123.0 171.55L124.0 171.55L125.0 171.55L126.0 171.55L127.0 171.55L128.0 171.55L129.0 171.55L130.0 171.55L131.0 171.55L132.0 171.55L132.8 171.55L133.0 171.55L134.0 171.55L135.0 171.55L136.0 171.55L137.0 171.55L138.0 171.55L139.0 171.55L140.0 171.55L141.0 171.55L142.0 171.55L143.0 171.55L144.0 171.55L145.0 171.55L146.0 171.55L147.0 171.55L148.0 171.55L149.0 171.55L150.0 171.55L151.0 171.55L152.0 171.55L153.0 171.55L153.0 175.26L153.4 175.26L154.0 175.26L155.0 175.26L156.0 175.26L157.0 175.26L158.0 175.26L159.0 175.26L160.0 175.26L161.0 175.26L162.0 175.26L163.0 175.26L163.7 175.26L164.0 175.26L165.0 175.26L166.0 175.26L167.0 175.26L168.0 175.26L169.0 175.26L169.0 178.97L170.0 178.97L171.0 178.97L172.0 178.97L173.0 178.97L174.0 178.97L174.0 178.97L175.0 178.97L176.0 178.97L177.0 178.97L178.0 178.97L179.0 178.97L180.0 178.97L181.0 178.97L182.0 178.97L183.0 178.97L184.0 178.97L185.0 178.97L186.0 178.97L187.0 178.97L188.0 178.97L189.0 178.97L190.0 178.97L191.0 178.97L192.0 178.97L193.0 178.97L194.0 178.97L195.0 178.97L196.0 178.97L197.0 178.97L198.0 178.97L199.0 178.97L200.0 178.97L201.0 178.97L202.0 178.97L203.0 178.97L204.0 178.97L205.0 178.97L206.0 178.97L207.0 178.97L208.0 178.97L209.0 178.97L210.0 178.97L211.0 178.97L212.0 178.97L213.0 178.97L214.0 178.97L215.0 178.97L216.0 178.97L217.0 178.97L217.7 178.97L218.0 178.97L219.0 178.97L220.0 178.97L221.0 178.97L222.0 178.97L222.0 182.68L223.0 182.68L224.0 182.68L225.0 182.68L226.0 182.68L227.0 182.68L228.0 182.68L228.0 182.68L229.0 182.68L230.0 182.68L231.0 182.68L232.0 182.68L233.0 182.68L234.0 182.68L235.0 182.68L236.0 182.68L237.0 182.68L238.0 182.68L239.0 182.68L240.0 182.68L241.0 182.68L242.0 182.68L243.0 182.68L244.0 182.68L245.0 182.68L246.0 182.68L247.0 182.68L248.0 182.68L249.0 182.68L250.0 182.68L251.0 182.68L252.0 182.68L253.0 182.68L254.0 182.68L255.0 182.68L256.0 182.68L257.0 182.68L258.0 182.68L259.0 182.68L260.0 182.68L261.0 182.68L262.0 182.68L263.0 182.68L264.0 182.68L265.0 182.68L266.0 182.68L267.0 182.68L268.0 182.68L269.0 182.68L270.0 182.68L271.0 182.68L272.0 182.68L273.0 182.68L274.0 182.68L275.0 182.68L276.0 182.68L277.0 182.68L278.0 182.68L279.0 182.68L280.0 182.68L281.0 182.68L282.0 182.68L283.0 182.68L284.0 182.68L285.0 182.68L286.0 182.68L287.0 182.68L288.0 182.68L289.0 182.68L290.0 182.68L291.0 182.68L292.0 182.68L293.0 182.68L294.0 182.68L295.0 182.68L296.0 182.68L297.0 182.68L298.0 182.68L299.0 182.68L300.0 182.68L301.0 182.68L302.0 182.68L303.0 182.68L304.0 182.68L305.0 182.68L306.0 182.68L307.0 182.68L308.0 182.68L309.0 182.68L310.0 182.68L311.0 182.68L312.0 182.68L313.0 182.68L314.0 182.68L315.0 182.68L316.0 182.68L317.0 182.68L318.0 182.68L319.0 182.68L320.0 182.68L321.0 182.68L322.0 182.68L323.0 182.68L324.0 182.68L325.0 182.68L326.0 182.68L327.0 182.68L328.0 182.68L329.0 182.68L330.0 182.68L331.0 182.68L332.0 182.68L333.0 182.68L334.0 182.68L335.0 182.68L336.0 182.68L337.0 182.68L338.0 182.68L339.0 182.68L340.0 182.68L341.0 182.68L342.0 182.68L343.0 182.68L344.0 182.68L345.0 182.68L346.0 182.68L347.0 182.68L348.0 182.68L349.0 182.68L350.0 182.68L351.0 182.68L352.0 182.68L353.0 182.68L354.0 182.68L355.0 182.68L356.0 182.68L357.0 182.68L358.0 182.68L359.0 182.68L360.0 182.68L361.0 182.68L362.0 182.68L363.0 182.68L364.0 182.68L365.0 182.68L366.0 182.68L367.0 182.68L368.0 182.68L369.0 182.68L370.0 182.68L371.0 182.68L371.8 182.68L372.0 182.68L373.0 182.68L374.0 182.68L375.0 182.68L375.0 178.97L376.0 178.97L377.0 178.97L377.0 178.97L378.0 178.97L379.0 178.97L380.0 178.97L380.0 175.26L381.0 175.26L382.0 175.26L383.0 175.26L384.0 175.26L384.7 175.26L385.0 175.26L386.0 175.26L386.0 171.55L387.0 171.55L388.0 171.55L389.0 171.55L390.0 171.55L391.0 171.55L392.0 171.55L393.0 171.55L394.0 171.55L395.0 171.55L395.0 167.84L395.0 167.84L396.0 167.84L397.0 167.84L398.0 167.84L399.0 167.84L400.0 167.84L401.0 167.84L402.0 167.84L403.0 167.84L404.0 167.84L405.0 167.84L405.0 164.14L405.3 164.14L406.0 164.14L407.0 164.14L408.0 164.14L409.0 164.14L410.0 164.14L411.0 164.14L412.0 164.14L413.0 164.14L413.0 160.43L414.0 160.43L415.0 160.43L415.5 160.43L416.0 160.43L417.0 160.43L418.0 160.43L419.0 160.43L420.0 160.43L420.0 156.72L421.0 156.72L422.0 156.72L423.0 156.72L424.0 156.72L425.0 156.72L425.8 156.72L426.0 156.72L427.0 156.72L428.0 156.72L428.0 153.01L429.0 153.01L430.0 153.01L431.0 153.01L432.0 153.01L433.0 153.01L434.0 153.01L435.0 153.01L436.0 153.01L436.1 153.01L437.0 153.01L438.0 153.01L438.0 149.30L439.0 149.30L440.0 149.30L441.0 149.30L442.0 149.30L443.0 149.30L444.0 149.30L445.0 149.30L446.0 149.30L446.4 149.30L447.0 149.30L448.0 149.30L448.0 145.60L449.0 145.60L450.0 145.60L451.0 145.60L452.0 145.60L453.0 145.60L454.0 145.60L455.0 145.60L456.0 145.60L456.7 145.60L457.0 145.60L458.0 145.60L459.0 145.60L460.0 145.60L461.0 145.60L462.0 145.60L463.0 145.60L464.0 145.60L465.0 145.60L465.0 141.89L466.0 141.89L467.0 141.89L468.0 141.89L469.0 141.89L469.5 141.89L470.0 141.89L471.0 141.89L472.0 141.89L473.0 141.89L474.0 141.89L475.0 141.89L476.0 141.89L477.0 141.89L478.0 141.89L479.0 141.89L479.8 141.89L480.0 141.89L480.0 138.18L481.0 138.18L482.0 138.18L483.0 138.18L484.0 138.18L484.9 138.18L485.0 138.18L486.0 138.18L487.0 138.18L488.0 138.18L488.0 134.47L489.0 134.47L490.0 134.47L490.1 134.47L491.0 134.47L492.0 134.47L493.0 134.47L494.0 134.47L495.0 134.47L496.0 134.47L497.0 134.47L498.0 134.47L499.0 134.47L500.0 134.47L501.0 134.47L502.0 134.47L503.0 134.47L504.0 134.47L505.0 134.47L506.0 134.47L507.0 134.47L508.0 134.47L509.0 134.47L510.0 134.47L511.0 134.47L512.0 134.47L513.0 134.47L514.0 134.47L515.0 134.47L516.0 134.47L517.0 134.47L518.0 134.47L519.0 134.47L520.0 134.47L521.0 134.47L522.0 134.47L523.0 134.47L524.0 134.47L525.0 134.47L526.0 134.47L527.0 134.47L528.0 134.47L529.0 134.47L530.0 134.47L531.0 134.47L532.0 134.47L533.0 134.47L534.0 134.47L535.0 134.47L536.0 134.47L537.0 134.47L538.0 134.47L539.0 134.47L540.0 134.47L541.0 134.47L542.0 134.47L543.0 134.47L544.0 134.47L545.0 134.47L546.0 134.47L547.0 134.47L548.0 134.47L549.0 134.47L550.0 134.47L551.0 134.47L552.0 134.47L553.0 134.47L554.0 134.47L555.0 134.47L556.0 134.47L556.0 130.76L557.0 130.76L557.0 134.47L558.0 134.47L559.0 134.47L560.0 134.47L561.0 134.47L562.0 134.47L563.0 134.47L564.0 134.47L565.0 134.47L565.0 130.76L566.0 130.76L566.0 134.47L567.0 134.47L568.0 134.47L569.0 134.47L570.0 134.47L571.0 134.47L572.0 134.47L573.0 134.47L574.0 134.47L575.0 134.47L576.0 134.47L577.0 134.47L578.0 134.47L579.0 134.47L580.0 134.47L581.0 134.47L582.0 134.47L583.0 134.47L584.0 134.47L585.0 134.47L586.0 134.47L587.0 134.47L588.0 134.47L589.0 134.47L590.0 134.47L591.0 134.47L592.0 134.47L593.0 134.47L594.0 134.47L595.0 134.47L596.0 134.47L597.0 134.47L598.0 134.47L599.0 134.47L600.0 134.47L601.0 134.47L602.0 134.47L603.0 134.47L604.0 134.47L605.0 134.47L606.0 134.47L607.0 134.47L608.0 134.47L609.0 134.47L610.0 134.47L611.0 134.47L612.0 134.47L613.0 134.47L614.0 134.47L615.0 134.47L616.0 134.47L617.0 134.47L617.0 138.18L618.0 138.18L619.0 138.18L619.0 134.47L620.0 134.47L621.0 134.47L622.0 134.47L623.0 134.47L624.0 134.47L625.0 134.47L626.0 134.47L627.0 134.47L627.0 138.18L628.0 138.18L628.0 134.47L629.0 134.47L630.0 134.47L631.0 134.47L632.0 134.47L633.0 134.47L634.0 134.47L635.0 134.47L636.0 134.47L637.0 134.47L638.0 134.47L639.0 134.47L640.0 134.47L641.0 134.47L642.0 134.47L643.0 134.47L644.0 134.47L645.0 134.47L646.0 134.47L647.0 134.47L648.0 134.47L649.0 134.47L650.0 134.47L651.0 134.47L652.0 134.47L653.0 134.47L654.0 134.47L655.0 134.47L656.0 134.47L657.0 134.47L658.0 134.47L659.0 134.47L660.0 134.47L661.0 134.47L662.0 134.47L663.0 134.47L664.0 134.47L665.0 134.47L666.0 134.47L667.0 134.47L668.0 134.47L669.0 134.47L670.0 134.47L671.0 134.47L672.0 134.47L673.0 134.47L674.0 134.47L675.0 134.47L676.0 134.47L677.0 134.47L678.0 134.47L679.0 134.47L680.0 134.47L681.0 134.47L682.0 134.47L683.0 134.47L684.0 134.47L685.0 134.47L686.0 134.47L687.0 134.47L688.0 134.47L689.0 134.47L690.0 134.47L691.0 134.47L692.0 134.47L693.0 134.47L694.0 134.47L695.0 134.47L696.0 134.47L697.0 134.47L698.0 134.47L699.0 134.47L700.0 134.47L701.0 134.47L702.0 134.47L703.0 134.47L704.0 134.47L705.0 134.47L706.0 134.47L707.0 134.47L708.0 134.47L709.0 134.47L710.0 134.47L711.0 134.47L712.0 134.47L713.0 134.47L714.0 134.47L715.0 134.47L716.0 134.47L717.0 134.47L718.0 134.47L719.0 134.47L720.0 134.47L721.0 134.47L722.0 134.47L723.0 134.47L724.0 134.47L725.0 134.47L726.0 134.47L727.0 134.47L728.0 134.47L729.0 134.47L729.0 130.76L730.0 130.76L730.0 127.06L731.0 127.06L731.0 130.76L732.0 130.76L733.0 130.76L734.0 130.76L735.0 130.76L736.0 130.76L737.0 130.76L738.0 130.76L738.0 134.47L739.0 134.47L739.0 130.76L740.0 130.76L741.0 130.76L742.0 130.76L743.0 130.76L744.0 130.76L745.0 130.76L746.0 130.76L747.0 130.76L748.0 130.76L749.0 130.76L750.0 130.76L750.0 134.47L751.0 134.47L752.0 134.47L752.0 130.76L753.0 130.76L754.0 130.76L754.0 134.47L755.0 134.47L755.0 130.76L756.0 130.76L757.0 130.76L758.0 130.76L759.0 130.76L760.0 130.76L761.0 130.76L762.0 130.76L763.0 130.76L764.0 130.76L765.0 130.76L766.0 130.76L767.0 130.76L768.0 130.76L769.0 130.76L770.0 130.76L771.0 130.76L772.0 130.76L773.0 130.76L773.0 127.06L774.0 134.47L775.0 134.47L775.0 130.76L776.0 130.76L777.0 130.76L777.0 134.47L778.0 134.47L778.0 130.76L779.0 130.76L780.0 130.76L781.0 130.76L782.0 130.76L783.0 130.76L784.0 130.76L785.0 130.76L786.0 130.76L786.0 134.47L787.0 134.47L787.0 130.76L788.0 130.76L789.0 130.76L790.0 130.76L791.0 130.76L792.0 130.76L793.0 130.76L794.0 130.76L795.0 130.76L795.0 127.06L796.0 127.06L797.0 127.06L797.0 130.76L798.0 130.76L799.0 130.76L800.0 130.76L801.0 130.76L801.0 134.47L802.0 134.47L803.0 134.47L803.0 130.76L804.0 130.76L805.0 130.76L805.0 127.06L806.0 127.06L806.0 130.76L806.1 130.76L807.0 130.76L807.0 134.47L808.0 134.47L808.6 134.47L809.0 134.47L810.0 134.47L811.0 134.47L812.0 134.47L813.0 134.47L814.0 134.47L815.0 134.47L816.0 134.47L817.0 134.47L818.0 134.47L819.0 134.47L820.0 134.47L821.0 134.47L822.0 134.47L823.0 134.47L824.0 134.47L825.0 134.47L826.0 134.47L827.0 134.47L828.0 134.47L829.0 134.47L830.0 134.47L831.0 134.47L832.0 134.47L833.0 134.47L834.0 134.47L835.0 134.47L836.0 134.47L837.0 134.47L838.0 134.47L839.0 134.47L840.0 134.47L841.0 134.47L842.0 134.47L843.0 134.47L844.0 134.47L845.0 134.47L846.0 134.47L847.0 134.47L847.2 134.47L848.0 134.47L849.0 134.47L850.0 134.47L851.0 134.47L851.0 138.18L852.0 138.18L852.3 138.18L853.0 138.18L854.0 138.18L855.0 138.18L856.0 138.18L857.0 138.18L857.0 141.89L858.0 141.89L859.0 141.89L860.0 141.89L860.0 141.89L861.0 141.89L862.0 141.89L862.0 145.60L863.0 145.60L864.0 145.60L865.0 145.60L866.0 145.60L867.0 145.60L867.8 145.60L867.8 149.30L868.0 149.30L869.0 149.30L870.0 149.30L871.0 149.30L872.0 149.30L873.0 149.30L874.0 149.30L875.0 149.30L875.0 153.01L876.0 153.01L877.0 153.01L878.0 153.01L878.0 153.01L879.0 153.01L880.0 153.01L881.0 153.01L882.0 153.01L883.0 153.01L883.0 156.72L884.0 156.72L885.0 156.72L886.0 156.72L887.0 156.72L888.0 156.72L889.0 156.72L890.0 156.72L890.9 156.72L891.0 156.72L892.0 156.72L893.0 156.72L893.0 160.43L894.0 160.43L895.0 160.43L896.0 160.43L897.0 160.43L898.0 160.43L899.0 160.43L900.0 160.43L901.0 160.43L902.0 160.43L903.0 160.43L903.7 160.43L904.0 160.43L905.0 160.43L906.0 160.43L906.0 164.14L907.0 164.14L908.0 164.14L909.0 164.14L910.0 164.14L911.0 164.14L912.0 164.14L913.0 164.14L914.0 164.14L915.0 164.14L916.0 164.14L917.0 164.14L918.0 164.14L919.0 164.14L919.1 164.14L920.0 164.14L921.0 164.14L921.0 167.84L922.0 167.84L923.0 167.84L924.0 167.84L925.0 167.84L926.0 167.84L927.0 167.84L928.0 167.84L929.0 167.84L930.0 167.84L931.0 167.84L932.0 167.84" stroke="#000000" stroke-width="2" fill="none"/>
<path d="M120.0 141.89L121.0 141.89L121.0 145.60L122.0 145.60L123.0 145.60L124.0 145.60L124.0 149.30L125.0 149.30L126.0 149.30L127.0 149.30L127.0 153.01L128.0 153.01L129.0 153.01L129.0 156.72L130.0 156.72L131.0 156.72L132.0 156.72L132.0 160.43L133.0 160.43L134.0 160.43L135.0 160.43L135.0 164.14L136.0 164.14L137.0 164.14L138.0 164.14L138.0 167.84L139.0 167.84L140.0 167.84L140.0 171.55L141.0 171.55L142.0 171.55L143.0 171.55L143.0 175.26L144.0 175.26L145.0 175.26L146.0 175.26L146.0 178.97L147.0 178.97L148.0 178.97L149.0 178.97L149.0 182.68L150.0 182.68L151.0 182.68L151.0 186.38L152.0 186.38L153.0 186.38L154.0 186.38L154.0 190.09L155.0 190.09L156.0 190.09L157.0 190.09L157.0 193.80L158.0 193.80L159.0 193.80L159.0 197.51L160.0 197.51L161.0 197.51L162.0 197.51L162.0 201.22L163.0 201.22L164.0 201.22L165.0 201.22L165.0 204.92L166.0 204.92L167.0 204.92L168.0 204.92L168.0 208.63L168.3 208.63L169.0 208.63L170.0 208.63L171.0 208.63L171.0 204.92L172.0 204.92L173.0 204.92L174.0 204.92L174.0 201.22L175.0 201.22L176.0 201.22L177.0 201.22L178.0 201.22L178.0 197.51L179.0 197.51L180.0 197.51L181.0 197.51L182.0 197.51L182.0 193.80L183.0 193.80L184.0 193.80L185.0 193.80L186.0 193.80L186.0 190.09L187.0 190.09L188.0 190.09L189.0 190.09L190.0 190.09L190.0 186.38L191.0 186.38L192.0 186.38L193.0 186.38L194.0 186.38L194.0 182.68L195.0 182.68L196.0 182.68L197.0 182.68L198.0 182.68L198.0 178.97L199.0 178.97L200.0 178.97L201.0 178.97L202.0 178.97L202.0 175.26L203.0 175.26L204.0 175.26L205.0 175.26L205.0 171.55L206.0 171.55L207.0 171.55L208.0 171.55L209.0 171.55L209.0 167.84L210.0 167.84L211.0 167.84L212.0 167.84L213.0 167.84L213.0 164.14L214.0 164.14L215.0 164.14L216.0 164.14L217.0 164.14L217.0 160.43L218.0 160.43L219.0 160.43L220.0 160.43L221.0 160.43L221.0 156.72L222.0 156.72L223.0 156.72L224.0 156.72L225.0 156.72L225.0 153.01L226.0 153.01L227.0 153.01L228.0 153.01L229.0 153.01L229.0 149.30L230.0 149.30L231.0 149.30L232.0 149.30L233.0 149.30L233.0 145.60L234.0 145.60L234.1 145.60L235.0 145.60L236.0 145.60L236.0 149.30L237.0 149.30L238.0 149.30L238.0 153.01L239.0 153.01L240.0 153.01L240.0 156.72L241.0 156.72L242.0 156.72L243.0 156.72L243.0 160.43L244.0 160.43L245.0 160.43L245.0 164.14L246.0 164.14L247.0 164.14L247.0 167.84L248.0 167.84L249.0 167.84L250.0 167.84L250.0 171.55L251.0 171.55L252.0 171.55L252.0 175.26L253.0 175.26L254.0 175.26L254.0 178.97L255.0 178.97L256.0 178.97L257.0 178.97L257.0 182.68L258.0 182.68L259.0 182.68L259.0 186.38L260.0 186.38L261.0 186.38L261.0 190.09L262.0 190.09L263.0 190.09L264.0 190.09L264.0 193.80L265.0 193.80L266.0 193.80L266.0 197.51L266.3 197.51L267.0 197.51L268.0 197.51L268.0 193.80L269.0 193.80L270.0 193.80L271.0 193.80L272.0 193.80L272.0 190.09L273.0 190.09L274.0 190.09L275.0 190.09L275.0 186.38L276.0 186.38L277.0 186.38L278.0 186.38L279.0 186.38L279.0 182.68L279.4 182.68L280.0 182.68L281.0 182.68L282.0 182.68L282.0 178.97L283.0 178.97L284.0 178.97L285.0 178.97L286.0 178.97L286.0 175.26L287.0 175.26L288.0 175.26L289.0 175.26L289.9 175.26L289.9 171.55L290.0 171.55L291.0 171.55L292.0 171.55L293.0 171.55L294.0 171.55L295.0 171.55L295.0 167.84L296.0 167.84L297.0 167.84L298.0 167.84L299.0 167.84L299.0 164.14L300.0 164.14L301.0 164.14L302.0 164.14L303.0 164.14L304.0 164.14L304.0 160.43L305.0 160.43L306.0 160.43L307.0 160.43L308.0 160.43L308.0 156.72L309.0 156.72L310.0 156.72L311.0 156.72L312.0 156.72L313.0 156.72L313.0 153.01L313.3 153.01L314.0 153.01L315.0 153.01L316.0 153.01L317.0 153.01L318.0 153.01L318.0 149.30L319.0 149.30L320.0 149.30L321.0 149.30L322.0 149.30L323.0 149.30L324.0 149.30L325.0 149.30L326.0 149.30L326.0 153.01L327.0 153.01L328.0 153.01L329.0 153.01L329.0 156.72L330.0 156.72L331.0 156.72L331.0 160.43L332.0 160.43L333.0 160.43L334.0 160.43L334.0 164.14L335.0 164.14L336.0 164.14L336.0 167.84L337.0 167.84L338.0 167.84L339.0 167.84L339.0 171.55L340.0 171.55L341.0 171.55L342.0 171.55L342.0 175.26L343.0 175.26L344.0 175.26L344.0 178.97L345.0 178.97L346.0 178.97L347.0 178.97L347.0 182.68L348.0 182.68L349.0 182.68L350.0 182.68L350.0 186.38L351.0 186.38L352.0 186.38L352.0 190.09L353.0 190.09L354.0 190.09L355.0 190.09L355.0 193.80L356.0 193.80L357.0 193.80L358.0 193.80L358.0 197.51L359.0 197.51L360.0 197.51L360.0 201.22L361.0 201.22L362.0 201.22L363.0 201.22L363.0 204.92L364.0 204.92L365.0 204.92L366.0 204.92L366.0 208.63L367.0 208.63L368.0 208.63L368.0 212.34L368.0 212.34L369.0 212.34L369.0 208.63L370.0 208.63L371.0 208.63L372.0 208.63L372.0 204.92L373.0 204.92L374.0 204.92L375.0 204.92L375.0 201.22L376.0 201.22L377.0 201.22L378.0 201.22L378.0 197.51L379.0 197.51L380.0 197.51L381.0 197.51L381.0 193.80L382.0 193.80L383.0 193.80L384.0 193.80L384.0 190.09L385.0 190.09L386.0 190.09L387.0 190.09L387.0 186.38L388.0 186.38L389.0 186.38L390.0 186.38L390.0 182.68L391.0 182.68L392.0 182.68L393.0 182.68L393.0 178.97L394.0 178.97L395.0 178.97L396.0 178.97L397.0 178.97L397.0 175.26L398.0 175.26L399.0 175.26L400.0 175.26L400.0 171.55L401.0 171.55L402.0 171.55L403.0 171.55L403.0 167.84L404.0 167.84L405.0 167.84L406.0 167.84L406.0 164.14L407.0 164.14L408.0 164.14L409.0 164.14L409.0 160.43L410.0 160.43L411.0 160.43L412.0 160.43L412.0 156.72L413.0 156.72L414.0 156.72L415.0 156.72L415.0 153.01L416.0 153.01L417.0 153.01L418.0 153.01L418.0 149.30L419.0 149.30L420.0 149.30L421.0 149.30L421.0 145.60L422.0 145.60L423.0 145.60L424.0 145.60L424.0 141.89L425.0 141.89L425.8 141.89L426.0 141.89L427.0 141.89L428.0 141.89L428.0 145.60L429.0 145.60L430.0 145.60L431.0 145.60L431.0 149.30L432.0 149.30L433.0 149.30L434.0 149.30L434.0 153.01L435.0 153.01L436.0 153.01L437.0 153.01L437.0 156.72L438.0 156.72L439.0 156.72L440.0 156.72L440.0 160.43L441.0 160.43L442.0 160.43L443.0 160.43L443.0 164.14L444.0 164.14L445.0 164.14L446.0 164.14L446.0 167.84L447.0 167.84L448.0 167.84L449.0 167.84L449.0 171.55L450.0 171.55L451.0 171.55L452.0 171.55L452.0 175.26L453.0 175.26L454.0 175.26L455.0 175.26L455.0 178.97L456.0 178.97L457.0 178.97L458.0 178.97L458.0 182.68L459.0 182.68L460.0 182.68L461.0 182.68L461.0 186.38L462.0 186.38L463.0 186.38L464.0 186.38L464.0 190.09L464.4 190.09L465.0 190.09L466.0 190.09L467.0 190.09L468.0 190.09L469.0 190.09L470.0 190.09L471.0 190.09L472.0 190.09L473.0 190.09L474.0 190.09L475.0 190.09L476.0 190.09L477.0 190.09L477.2 190.09L478.0 190.09L478.0 193.80L479.0 193.80L480.0 193.80L481.0 193.80L482.0 193.80L483.0 193.80L484.0 193.80L484.0 197.51L485.0 197.51L486.0 197.51L487.0 197.51L488.0 197.51L489.0 197.51L489.0 201.22L490.0 201.22L490.1 201.22L491.0 201.22L492.0 201.22L492.0 197.51L493.0 197.51L494.0 197.51L494.0 193.80L495.0 193.80L496.0 193.80L497.0 193.80L497.0 190.09L498.0 190.09L499.0 190.09L500.0 190.09L500.0 186.38L501.0 186.38L502.0 186.38L503.0 186.38L503.0 182.68L504.0 182.68L505.0 182.68L506.0 182.68L506.0 178.97L507.0 178.97L508.0 178.97L509.0 178.97L509.0 175.26L510.0 175.26L511.0 175.26L512.0 175.26L512.0 171.55L513.0 171.55L514.0 171.55L515.0 171.55L515.0 167.84L516.0 167.84L517.0 167.84L518.0 167.84L518.0 164.14L519.0 164.14L520.0 164.14L521.0 164.14L521.0 160.43L522.0 160.43L523.0 160.43L524.0 160.43L524.0 156.72L525.0 156.72L526.0 156.72L527.0 156.72L527.0 153.01L528.0 153.01L529.0 153.01L530.0 153.01L531.0 153.01L532.0 153.01L533.0 153.01L533.0 149.30L534.0 149.30L535.0 149.30L536.0 149.30L537.0 149.30L538.0 149.30L538.0 145.60L539.0 145.60L540.0 145.60L541.0 145.60L542.0 145.60L543.0 145.60L544.0 145.60L544.0 141.89L545.0 141.89L546.0 141.89L547.0 141.89L548.0 141.89L549.0 141.89L549.0 138.18L550.0 138.18L550.4 138.18L551.0 138.18L552.0 138.18L552.0 141.89L553.0 141.89L554.0 141.89L555.0 141.89L555.0 145.60L556.0 145.60L557.0 145.60L558.0 145.60L558.0 149.30L559.0 149.30L560.0 149.30L561.0 149.30L561.0 153.01L562.0 153.01L562.0 153.01L563.0 153.01L564.0 153.01L564.0 156.72L565.0 156.72L566.0 156.72L567.0 156.72L567.0 160.43L568.0 160.43L569.0 160.43L570.0 160.43L570.0 164.14L571.0 164.14L572.0 164.14L573.0 164.14L573.0 167.84L574.0 167.84L574.8 167.84L575.0 167.84L576.0 167.84L577.0 167.84L577.0 171.55L578.0 171.55L579.0 171.55L580.0 171.55L580.0 175.26L581.0 175.26L582.0 175.26L583.0 175.26L584.0 175.26L584.0 178.97L585.0 178.97L586.0 178.97L587.0 178.97L588.0 178.97L588.0 182.68L589.0 182.68L590.0 182.68L590.3 182.68L591.0 182.68L592.0 182.68L592.0 186.38L593.0 186.38L594.0 186.38L595.0 186.38L596.0 186.38L597.0 186.38L597.0 190.09L598.0 190.09L599.0 190.09L600.0 190.09L600.5 190.09L601.0 190.09L602.0 190.09L602.0 193.80L603.0 193.80L604.0 193.80L605.0 193.80L606.0 193.80L607.0 193.80L607.0 197.51L608.0 197.51L609.0 197.51L610.0 197.51L610.8 197.51L611.0 197.51L612.0 197.51L612.0 201.22L613.0 201.22L614.0 201.22L615.0 201.22L616.0 201.22L617.0 201.22L618.0 201.22L618.5 201.22L619.0 201.22L620.0 201.22L621.0 201.22L621.0 197.51L622.0 197.51L623.0 197.51L624.0 197.51L625.0 197.51L625.0 193.80L626.0 193.80L627.0 193.80L628.0 193.80L629.0 193.80L629.0 190.09L630.0 190.09L631.0 190.09L631.4 190.09L632.0 190.09L632.0 186.38L633.0 186.38L634.0 186.38L635.0 186.38L635.0 182.68L636.0 182.68L637.0 182.68L637.0 178.97L638.0 178.97L639.0 178.97L639.0 175.26L640.0 175.26L641.0 175.26L642.0 175.26L642.0 171.55L643.0 171.55L644.0 171.55L644.0 167.84L644.2 167.84L645.0 167.84L646.0 167.84L647.0 167.84L647.0 164.14L648.0 164.14L649.0 164.14L650.0 164.14L650.0 160.43L651.0 160.43L652.0 160.43L653.0 160.43L653.0 156.72L654.0 156.72L655.0 156.72L656.0 156.72L656.0 153.01L657.0 153.01L657.1 153.01L658.0 153.01L659.0 153.01L660.0 153.01L660.0 149.30L661.0 149.30L662.0 149.30L663.0 149.30L664.0 149.30L665.0 149.30L665.0 145.60L666.0 145.60L667.0 145.60L668.0 145.60L669.0 145.60L669.0 141.89L670.0 141.89L670.0 141.89L671.0 141.89L672.0 141.89L673.0 141.89L674.0 141.89L675.0 141.89L676.0 141.89L677.0 141.89L678.0 141.89L678.0 138.18L679.0 138.18L680.0 138.18L680.2 138.18L681.0 138.18L682.0 138.18L683.0 138.18L684.0 138.18L685.0 138.18L685.4 138.18L686.0 138.18L687.0 138.18L687.0 141.89L688.0 141.89L689.0 141.89L690.0 141.89L690.0 145.60L691.0 145.60L692.0 145.60L693.0 145.60L693.0 149.30L694.0 149.30L695.0 149.30L695.0 153.01L696.0 153.01L697.0 153.01L698.0 153.01L698.0 156.72L698.2 156.72L699.0 156.72L700.0 156.72L701.0 156.72L701.0 160.43L702.0 160.43L703.0 160.43L704.0 160.43L704.0 164.14L705.0 164.14L706.0 164.14L706.0 167.84L707.0 167.84L708.0 167.84L709.0 167.84L709.0 171.55L710.0 171.55L711.0 171.55L711.0 175.26L711.1 175.26L712.0 175.26L713.0 175.26L714.0 175.26L714.0 178.97L715.0 178.97L716.0 178.97L716.0 182.68L717.0 182.68L718.0 182.68L719.0 182.68L719.0 186.38L720.0 186.38L721.0 186.38L721.0 190.09L721.4 190.09L722.0 190.09L723.0 190.09L724.0 190.09L725.0 190.09L726.0 190.09L727.0 190.09L728.0 190.09L728.0 193.80L729.0 193.80L729.0 190.09L730.0 190.09L730.0 193.80L731.0 193.80L732.0 193.80L733.0 193.80L734.0 193.80L734.0 197.51L735.0 197.51L736.0 197.51L737.0 197.51L737.0 201.22L738.0 201.22L739.0 201.22L740.0 201.22L741.0 201.22L741.0 204.92L741.9 204.92L742.0 204.92L743.0 204.92L744.0 204.92L745.0 204.92L746.0 204.92L747.0 204.92L747.0 204.92L748.0 204.92L748.0 201.22L749.0 201.22L750.0 201.22L750.0 197.51L751.0 197.51L752.0 197.51L753.0 197.51L753.0 193.80L754.0 193.80L755.0 193.80L755.0 190.09L756.0 190.09L757.0 190.09L757.0 186.38L758.0 186.38L759.0 186.38L759.0 182.68L760.0 182.68L761.0 182.68L762.0 182.68L762.0 178.97L762.4 178.97L763.0 178.97L764.0 178.97L764.0 175.26L765.0 175.26L766.0 175.26L767.0 175.26L768.0 175.26L768.0 171.55L769.0 171.55L770.0 171.55L771.0 171.55L772.0 171.55L772.0 167.84L773.0 167.84L774.0 167.84L775.0 167.84L776.0 167.84L776.0 164.14L777.0 164.14L778.0 164.14L779.0 164.14L779.0 160.43L780.0 160.43L780.4 160.43L781.0 160.43L782.0 160.43L783.0 160.43L783.0 156.72L784.0 156.72L785.0 156.72L786.0 156.72L787.0 156.72L788.0 156.72L788.0 153.01L789.0 153.01L790.0 153.01L791.0 153.01L792.0 153.01L792.0 149.30L793.0 149.30L794.0 149.30L795.0 149.30L795.8 149.30L796.0 149.30L797.0 149.30L797.0 145.60L798.0 145.60L799.0 145.60L800.0 145.60L801.0 145.60L802.0 145.60L803.0 145.60L804.0 145.60L804.0 141.89L805.0 141.89L806.0 141.89L807.0 141.89L807.4 141.89L808.0 141.89L809.0 141.89L809.0 145.60L810.0 145.60L811.0 145.60L811.0 149.30L812.0 149.30L813.0 149.30L814.0 149.30L814.0 153.01L815.0 153.01L816.0 153.01L816.0 156.72L817.0 156.72L818.0 156.72L818.0 160.43L819.0 160.43L820.0 160.43L820.0 164.14L821.0 164.14L821.5 164.14L822.0 164.14L822.0 167.84L823.0 167.84L824.0 167.84L825.0 167.84L825.0 171.55L826.0 171.55L827.0 171.55L827.0 175.26L828.0 175.26L829.0 175.26L829.0 178.97L830.0 178.97L831.0 178.97L832.0 178.97L832.0 182.68L833.0 182.68L834.0 182.68L834.0 186.38L835.0 186.38L836.0 186.38L837.0 186.38L837.0 190.09L838.0 190.09L838.2 190.09L839.0 190.09L840.0 190.09L841.0 190.09L842.0 190.09L843.0 190.09L843.0 186.38L844.0 186.38L845.0 186.38L846.0 186.38L847.0 186.38L847.0 182.68L848.0 182.68L849.0 182.68L850.0 182.68L851.0 182.68L851.0 178.97L852.0 178.97L853.0 178.97L854.0 178.97L855.0 178.97L856.0 178.97L856.0 175.26L857.0 175.26L858.0 175.26L859.0 175.26L860.0 175.26L860.0 171.55L861.0 171.55L862.0 171.55L862.6 171.55L863.0 171.55L864.0 171.55L865.0 171.55L865.0 167.84L866.0 167.84L867.0 167.84L868.0 167.84L869.0 167.84L870.0 167.84L870.0 164.14L871.0 164.14L872.0 164.14L873.0 164.14L874.0 164.14L875.0 164.14L875.0 160.43L876.0 160.43L877.0 160.43L878.0 160.43L879.0 160.43L880.0 160.43L880.0 156.72L881.0 156.72L882.0 156.72L883.0 156.72L883.2 156.72L884.0 156.72L884.0 153.01L885.0 153.01L886.0 153.01L887.0 153.01L888.0 153.01L888.0 149.30L889.0 149.30L890.0 149.30L891.0 149.30L892.0 149.30L892.0 145.60L893.0 145.60L894.0 145.60L895.0 145.60L896.0 145.60L896.0 141.89L897.0 141.89L898.0 141.89L898.6 141.89L899.0 141.89L900.0 141.89L901.0 141.89L901.0 145.60L902.0 145.60L903.0 145.60L903.0 149.30L904.0 149.30L905.0 149.30L906.0 149.30L906.0 153.01L907.0 153.01L908.0 153.01L909.0 153.01L909.0 156.72L910.0 156.72L911.0 156.72L911.0 160.43L912.0 160.43L913.0 160.43L914.0 160.43L914.0 164.14L914.0 164.14L915.0 164.14L916.0 164.14L916.0 167.84L917.0 167.84L918.0 167.84L918.0 171.55L919.0 171.55L920.0 171.55L920.0 175.26L921.0 175.26L921.0 178.97L922.0 178.97L923.0 178.97L923.0 182.68L924.0 182.68L925.0 182.68L925.0 186.38L926.0 186.38L927.0 186.38L927.0 190.09L928.0 190.09L929.0 190.09L929.0 193.80L930.0 193.80L931.0 193.80L931.0 197.51L932.0 197.51" stroke="#a0a0a0" stroke-width="1" fill="none"/>
</g><g clip-path="url(#cH)">
<path d="M120.5 413 H932" stroke="#f0e442" stroke-width="2"/>
<path d="M120.5 410.8 H932" stroke="#9400d3" stroke-width="2"/>
<path d="M120.0 358.81L121.0 358.81L122.0 358.81L123.0 358.81L124.0 358.81L125.0 358.81L126.0 358.81L127.0 358.81L128.0 358.81L129.0 358.81L130.0 358.81L131.0 358.81L132.0 358.81L133.0 358.81L134.0 358.81L135.0 358.81L136.0 358.81L137.0 358.81L138.0 358.81L139.0 358.81L140.0 358.81L141.0 358.81L141.0 360.86L142.0 360.86L142.2 360.86L143.0 360.86L144.0 360.86L145.0 360.86L146.0 360.86L147.0 360.86L148.0 360.86L149.0 360.86L150.0 360.86L151.0 360.86L152.0 360.86L153.0 360.86L154.0 360.86L155.0 360.86L156.0 360.86L157.0 360.86L158.0 360.86L159.0 360.86L160.0 360.86L160.0 362.90L161.0 362.90L161.2 362.90L162.0 362.90L163.0 362.90L164.0 362.90L165.0 362.90L166.0 362.90L167.0 362.90L168.0 362.90L169.0 362.90L170.0 362.90L171.0 362.90L172.0 362.90L173.0 362.90L174.0 362.90L175.0 362.90L176.0 362.90L177.0 362.90L178.0 362.90L179.0 362.90L180.0 362.90L181.0 362.90L182.0 362.90L183.0 362.90L183.3 362.90L184.0 362.90L185.0 362.90L185.0 364.94L186.0 364.94L186.5 364.94L187.0 364.94L188.0 364.94L189.0 364.94L190.0 364.94L191.0 364.94L192.0 364.94L193.0 364.94L194.0 364.94L195.0 364.94L196.0 364.94L197.0 364.94L198.0 364.94L199.0 364.94L200.0 364.94L201.0 364.94L202.0 364.94L203.0 364.94L204.0 364.94L205.0 364.94L206.0 364.94L207.0 364.94L208.0 364.94L209.0 364.94L210.0 364.94L211.0 364.94L212.0 364.94L213.0 364.94L214.0 364.94L215.0 364.94L216.0 364.94L217.0 364.94L218.0 364.94L219.0 364.94L220.0 364.94L221.0 364.94L221.3 364.94L222.0 364.94L223.0 364.94L223.0 366.99L224.0 366.99L224.5 366.99L225.0 366.99L226.0 366.99L227.0 366.99L228.0 366.99L229.0 366.99L230.0 366.99L231.0 366.99L232.0 366.99L233.0 366.99L234.0 366.99L235.0 366.99L236.0 366.99L237.0 366.99L238.0 366.99L239.0 366.99L240.0 366.99L241.0 366.99L242.0 366.99L243.0 366.99L244.0 366.99L245.0 366.99L246.0 366.99L247.0 366.99L248.0 366.99L249.0 366.99L250.0 366.99L251.0 366.99L252.0 366.99L253.0 366.99L254.0 366.99L255.0 366.99L256.0 366.99L257.0 366.99L258.0 366.99L259.0 366.99L260.0 366.99L261.0 366.99L262.0 366.99L263.0 366.99L264.0 366.99L265.0 366.99L266.0 366.99L267.0 366.99L268.0 366.99L269.0 366.99L270.0 366.99L271.0 366.99L272.0 366.99L273.0 366.99L274.0 366.99L275.0 366.99L275.2 366.99L276.0 366.99L277.0 366.99L277.0 369.03L278.0 369.03L278.3 369.03L279.0 369.03L280.0 369.03L281.0 369.03L282.0 369.03L283.0 369.03L284.0 369.03L285.0 369.03L286.0 369.03L287.0 369.03L288.0 369.03L289.0 369.03L290.0 369.03L291.0 369.03L292.0 369.03L293.0 369.03L294.0 369.03L295.0 369.03L296.0 369.03L297.0 369.03L298.0 369.03L299.0 369.03L300.0 369.03L301.0 369.03L302.0 369.03L303.0 369.03L304.0 369.03L305.0 369.03L306.0 369.03L307.0 369.03L308.0 369.03L309.0 369.03L310.0 369.03L311.0 369.03L312.0 369.03L313.0 369.03L314.0 369.03L315.0 369.03L316.0 369.03L317.0 369.03L318.0 369.03L319.0 369.03L320.0 369.03L321.0 369.03L322.0 369.03L323.0 369.03L324.0 369.03L325.0 369.03L326.0 369.03L327.0 369.03L328.0 369.03L329.0 369.03L330.0 369.03L331.0 369.03L332.0 369.03L333.0 369.03L334.0 369.03L335.0 369.03L336.0 369.03L337.0 369.03L338.0 369.03L339.0 369.03L340.0 369.03L341.0 369.03L342.0 369.03L343.0 369.03L344.0 369.03L344.8 369.03L345.0 369.03L346.0 369.03L347.0 364.94L348.0 369.03L349.0 369.03L350.0 369.03L351.0 369.03L352.0 369.03L353.0 369.03L354.0 369.03L355.0 369.03L355.0 371.08L356.0 371.08L356.0 369.03L357.0 369.03L358.0 369.03L359.0 369.03L360.0 369.03L361.0 369.03L362.0 364.94L363.0 369.03L364.0 369.03L365.0 369.03L366.0 369.03L367.0 369.03L367.0 369.03L367.0 371.08L368.0 371.08L368.0 369.03L369.0 369.03L369.0 366.99L370.0 366.99L371.0 366.99L372.0 366.99L372.0 364.94L373.0 364.94L373.3 364.94L374.0 364.94L375.0 364.94L376.0 364.94L376.0 362.90L377.0 362.90L377.0 360.86L378.0 360.86L378.0 362.90L379.0 362.90L380.0 362.90L381.0 362.90L382.0 362.90L383.0 362.90L383.0 360.86L384.0 360.86L385.0 360.86L386.0 360.86L387.0 360.86L388.0 360.86L389.0 360.86L389.2 360.86L389.2 358.81L390.0 358.81L390.0 360.86L391.0 360.86L392.0 360.86L393.0 360.86L394.0 360.86L395.0 360.86L396.0 360.86L397.0 360.86L398.0 360.86L399.0 360.86L400.0 360.86L401.0 360.86L401.8 360.86L402.0 360.86L402.0 362.90L403.0 362.90L403.0 360.86L404.0 360.86L404.0 362.90L405.0 362.90L405.0 362.90L406.0 362.90L407.0 362.90L408.0 362.90L409.0 362.90L410.0 362.90L411.0 362.90L412.0 362.90L413.0 362.90L413.0 360.86L414.0 360.86L414.0 362.90L415.0 362.90L416.0 362.90L417.0 362.90L418.0 362.90L419.0 362.90L420.0 362.90L421.0 362.90L422.0 362.90L423.0 362.90L424.0 362.90L424.0 362.90L425.0 362.90L426.0 362.90L427.0 362.90L428.0 362.90L429.0 362.90L430.0 362.90L431.0 362.90L432.0 362.90L433.0 362.90L434.0 362.90L435.0 362.90L436.0 362.90L437.0 362.90L437.0 360.86L438.0 360.86L439.0 360.86L439.8 360.86L440.0 360.86L441.0 360.86L442.0 360.86L443.0 360.86L444.0 360.86L445.0 360.86L446.0 360.86L447.0 360.86L448.0 360.86L449.0 360.86L450.0 360.86L451.0 360.86L452.0 360.86L453.0 360.86L454.0 360.86L455.0 360.86L456.0 360.86L457.0 360.86L458.0 360.86L458.8 360.86L459.0 356.77L459.5 344.50L460.0 336.33L461.0 319.98L462.0 305.67L463.0 291.36L463.6 283.18L464.0 283.18L464.0 281.14L465.0 281.14L466.0 281.14L466.0 279.10L466.8 279.10L466.8 277.05L467.0 277.05L468.0 270.92L469.0 266.83L469.9 260.70L470.0 260.70L471.0 260.70L471.0 258.66L472.0 258.66L472.0 256.61L473.0 256.61L473.0 254.57L474.0 254.57L474.0 252.52L474.7 252.52L475.0 252.52L476.0 252.52L476.0 250.48L477.0 250.48L477.0 248.44L478.0 248.44L479.0 248.44L479.0 246.39L480.0 246.39L481.0 246.39L481.0 244.35L482.0 244.35L483.0 244.35L483.0 242.30L484.0 242.30L485.0 242.30L485.0 240.26L486.0 240.26L487.0 240.26L487.0 238.22L487.3 238.22L488.0 238.22L489.0 238.22L490.0 238.22L491.0 238.22L492.0 238.22L492.0 236.17L493.0 236.17L493.7 236.17L494.0 236.17L495.0 236.17L496.0 236.17L497.0 236.17L498.0 236.17L499.0 236.17L500.0 236.17L501.0 236.17L502.0 236.17L503.0 236.17L504.0 236.17L505.0 236.17L506.0 236.17L507.0 236.17L508.0 236.17L509.0 236.17L509.5 236.17L510.0 236.17L511.0 236.17L511.0 238.22L512.0 238.22L512.0 240.26L513.0 240.26L513.3 240.26L513.3 242.30L514.0 242.30L515.0 242.30L516.0 242.30L517.0 242.30L518.0 242.30L519.0 242.30L520.0 242.30L520.0 244.35L521.0 244.35L522.0 244.35L523.0 244.35L524.0 244.35L525.0 244.35L526.0 244.35L526.0 246.39L526.0 246.39L527.0 246.39L528.0 246.39L529.0 246.39L530.0 246.39L531.0 246.39L532.0 246.39L533.0 246.39L533.0 248.44L534.0 248.44L535.0 248.44L535.8 248.44L536.0 248.44L537.0 248.44L538.0 248.44L538.0 250.48L539.0 250.48L540.0 250.48L541.0 250.48L541.0 252.52L542.0 252.52L543.0 252.52L544.0 252.52L544.0 254.57L545.0 254.57L545.6 254.57L546.0 254.57L546.0 256.61L547.0 256.61L548.0 256.61L549.0 256.61L550.0 256.61L550.0 258.66L551.0 258.66L552.0 258.66L553.0 258.66L553.0 260.70L553.8 260.70L554.0 260.70L555.0 260.70L556.0 260.70L557.0 260.70L557.0 262.74L558.0 262.74L559.0 262.74L560.0 262.74L561.0 262.74L562.0 262.74L562.1 262.74L563.0 262.74L563.0 264.79L564.0 264.79L565.0 264.79L566.0 264.79L567.0 264.79L567.0 266.83L568.0 266.83L569.0 266.83L570.0 266.83L570.0 266.83L571.0 266.83L571.0 268.88L572.0 268.88L573.0 268.88L574.0 268.88L574.0 270.92L575.0 270.92L576.0 270.92L576.0 272.96L577.0 272.96L578.0 272.96L579.0 272.96L579.0 275.01L579.2 275.01L580.0 275.01L581.0 275.01L581.0 277.05L582.0 277.05L582.0 279.10L583.0 279.10L583.0 281.14L584.0 281.14L584.0 283.18L585.0 283.18L586.0 283.18L586.0 285.23L587.0 285.23L587.0 287.27L588.0 287.27L588.0 289.32L588.7 289.32L589.0 289.32L589.0 291.36L590.0 291.36L590.0 293.40L591.0 293.40L591.0 295.45L592.0 295.45L592.0 297.49L593.0 297.49L593.0 299.54L594.0 299.54L594.0 301.58L595.0 301.58L595.0 299.54L595.0 303.62L596.0 303.62L597.0 303.62L598.0 303.62L598.0 305.67L599.0 305.67L600.0 305.67L600.0 307.71L601.0 307.71L602.0 307.71L603.0 307.71L603.0 309.76L604.0 309.76L604.5 309.76L605.0 309.76L605.0 311.80L606.0 311.80L607.0 311.80L608.0 311.80L609.0 311.80L609.0 313.84L610.0 313.84L610.0 315.89L611.0 315.89L611.0 313.84L612.0 313.84L613.0 317.93L614.0 317.93L614.0 315.89L614.0 315.89L615.0 315.89L616.0 315.89L617.0 315.89L617.0 313.84L618.0 313.84L618.0 315.89L619.0 315.89L620.0 315.89L621.0 319.98L622.0 319.98L622.0 317.93L623.0 317.93L624.0 313.84L625.0 317.93L626.0 317.93L627.0 317.93L628.0 317.93L629.0 317.93L629.8 317.93L630.0 317.93L631.0 317.93L631.0 315.89L632.0 319.98L633.0 319.98L634.0 319.98L635.0 319.98L636.0 319.98L637.0 319.98L637.0 322.02L638.0 317.93L639.0 317.93L639.3 322.02L640.0 322.02L641.0 322.02L642.0 322.02L642.0 324.06L643.0 319.98L644.0 324.06L645.0 324.06L646.0 324.06L646.0 326.11L647.0 326.11L647.0 328.15L648.0 328.15L648.0 326.11L648.8 326.11L649.0 326.11L650.0 326.11L651.0 326.11L652.0 326.11L652.0 324.06L653.0 324.06L654.0 328.15L655.0 328.15L656.0 328.15L657.0 328.15L657.0 326.11L658.0 326.11L659.0 326.11L659.0 328.15L660.0 328.15L660.0 326.11L661.0 326.11L661.0 328.15L662.0 328.15L662.0 330.20L663.0 330.20L664.0 330.20L664.7 330.20L665.0 330.20L666.0 330.20L667.0 330.20L668.0 330.20L669.0 330.20L670.0 330.20L671.0 330.20L672.0 330.20L673.0 330.20L674.0 330.20L675.0 330.20L676.0 330.20L677.0 330.20L677.0 332.24L677.3 332.24L678.0 332.24L679.0 332.24L680.0 332.24L681.0 332.24L682.0 332.24L683.0 332.24L684.0 332.24L685.0 332.24L686.0 332.24L687.0 332.24L688.0 332.24L689.0 332.24L690.0 332.24L691.0 332.24L692.0 332.24L693.0 332.24L693.2 332.24L694.0 332.24L695.0 332.24L696.0 332.24L697.0 332.24L698.0 332.24L699.0 332.24L700.0 332.24L701.0 332.24L702.0 332.24L703.0 332.24L704.0 332.24L705.0 332.24L705.0 330.20L706.0 330.20L706.0 332.24L707.0 332.24L708.0 332.24L709.0 332.24L710.0 332.24L711.0 332.24L712.0 332.24L712.0 334.28L713.0 334.28L714.0 334.28L715.0 334.28L716.0 334.28L717.0 334.28L718.0 334.28L719.0 334.28L719.0 336.33L720.0 336.33L720.0 334.28L721.0 334.28L722.0 334.28L722.0 336.33L723.0 336.33L724.0 336.33L724.0 334.28L725.0 334.28L725.7 334.28L726.0 334.28L726.0 332.24L727.0 332.24L728.0 332.24L729.0 332.24L730.0 332.24L731.0 332.24L732.0 332.24L733.0 332.24L733.4 332.24L734.0 332.24L734.0 334.28L735.0 334.28L736.0 334.28L736.0 336.33L736.0 336.33L737.0 336.33L738.0 336.33L739.0 336.33L739.0 338.37L740.0 338.37L740.0 336.33L741.0 336.33L742.0 336.33L743.0 336.33L744.0 336.33L745.0 336.33L746.0 336.33L747.0 336.33L748.0 336.33L749.0 336.33L750.0 336.33L751.0 336.33L751.4 336.33L752.0 336.33L752.0 334.28L753.0 338.37L754.0 334.28L755.0 334.28L756.0 334.28L756.0 336.33L756.5 336.33L756.5 334.28L757.0 334.28L758.0 334.28L759.0 334.28L760.0 334.28L761.0 334.28L761.7 334.28L762.0 334.28L763.0 334.28L764.0 334.28L764.2 334.28L764.2 336.33L765.0 336.33L766.0 336.33L766.0 338.37L767.0 338.37L767.0 336.33L768.0 336.33L769.0 336.33L770.0 336.33L771.0 336.33L772.0 336.33L773.0 336.33L774.0 336.33L775.0 336.33L775.0 338.37L776.0 338.37L776.0 336.33L777.0 336.33L778.0 336.33L779.0 336.33L780.0 336.33L781.0 336.33L782.0 336.33L783.0 336.33L784.0 336.33L784.8 336.33L785.0 336.33L786.0 336.33L786.0 334.28L787.0 338.37L787.4 334.28L788.0 338.37L789.0 338.37L790.0 338.37L791.0 334.28L792.0 338.37L793.0 338.37L794.0 338.37L795.0 338.37L796.0 338.37L797.0 338.37L797.6 338.37L798.0 338.37L799.0 338.37L800.0 338.37L801.0 338.37L802.0 338.37L802.0 336.33L802.8 336.33L802.8 338.37L803.0 338.37L804.0 338.37L805.0 338.37L806.0 338.37L807.0 338.37L808.0 338.37L809.0 338.37L810.0 338.37L810.0 336.33L810.5 336.33L810.5 338.37L811.0 338.37L811.0 340.42L812.0 340.42L813.0 340.42L813.0 342.46L813.0 342.46L814.0 342.46L815.0 342.46L816.0 342.46L817.0 342.46L818.0 342.46L819.0 342.46L820.0 342.46L821.0 342.46L822.0 342.46L823.0 342.46L824.0 342.46L825.0 342.46L826.0 342.46L827.0 342.46L828.0 342.46L828.5 342.46L829.0 342.46L830.0 342.46L831.0 342.46L832.0 342.46L833.0 342.46L834.0 342.46L835.0 342.46L836.0 342.46L837.0 342.46L838.0 342.46L839.0 342.46L840.0 342.46L841.0 342.46L842.0 342.46L843.0 342.46L843.9 342.46L844.0 342.46L845.0 342.46L845.0 344.50L846.0 344.50L846.5 344.50L846.5 346.55L847.0 346.55L848.0 346.55L849.0 346.55L850.0 346.55L851.0 346.55L852.0 346.55L853.0 346.55L854.0 346.55L855.0 346.55L856.0 346.55L857.0 346.55L858.0 346.55L859.0 346.55L860.0 346.55L861.0 346.55L862.0 346.55L863.0 346.55L864.0 346.55L865.0 346.55L866.0 346.55L867.0 346.55L867.0 346.55L868.0 346.55L869.0 346.55L869.0 348.59L869.6 348.59L870.0 348.59L871.0 348.59L872.0 348.59L873.0 348.59L874.0 348.59L875.0 348.59L876.0 348.59L877.0 348.59L878.0 348.59L879.0 348.59L879.9 348.59L880.0 348.59L881.0 348.59L882.0 348.59L882.0 350.64L882.4 350.64L883.0 350.64L884.0 350.64L885.0 350.64L886.0 350.64L887.0 350.64L888.0 350.64L889.0 350.64L890.0 350.64L891.0 350.64L892.0 350.64L893.0 350.64L894.0 350.64L895.0 350.64L896.0 350.64L897.0 350.64L898.0 350.64L899.0 350.64L900.0 350.64L900.4 350.64L901.0 350.64L902.0 350.64L902.0 352.68L903.0 352.68L903.0 352.68L904.0 352.68L905.0 352.68L906.0 352.68L907.0 352.68L908.0 352.68L909.0 352.68L910.0 352.68L911.0 352.68L912.0 352.68L913.0 352.68L914.0 352.68L915.0 352.68L916.0 352.68L917.0 352.68L918.0 352.68L919.0 352.68L920.0 352.68L921.0 352.68L922.0 352.68L923.0 352.68L924.0 352.68L925.0 352.68L926.0 352.68L927.0 352.68L928.0 352.68L929.0 352.68L930.0 352.68L931.0 352.68L931.2 352.68" stroke="#009e73" stroke-width="2" fill="none"/>
<path d="M120.0 328.15L121.0 328.15L122.0 328.15L123.0 328.15L124.0 328.15L124.0 326.11L125.0 326.11L126.0 326.11L127.0 326.11L127.6 326.11L128.0 326.11L129.0 326.11L130.0 326.11L131.0 326.11L132.0 326.11L133.0 326.11L134.0 326.11L135.0 326.11L136.0 326.11L136.0 324.06L137.0 324.06L138.0 324.06L139.0 324.06L139.9 324.06L140.0 324.06L141.0 324.06L142.0 324.06L143.0 324.06L144.0 324.06L145.0 324.06L146.0 324.06L147.0 324.06L148.0 324.06L149.0 324.06L150.0 324.06L151.0 324.06L152.0 324.06L152.0 322.02L153.0 322.02L154.0 322.02L155.0 322.02L156.0 322.02L157.0 322.02L158.0 322.02L158.9 322.02L159.0 322.02L160.0 322.02L161.0 322.02L162.0 322.02L163.0 322.02L164.0 322.02L165.0 322.02L166.0 322.02L167.0 322.02L168.0 322.02L169.0 322.02L170.0 322.02L170.0 319.98L171.0 319.98L172.0 319.98L173.0 319.98L174.0 319.98L175.0 319.98L176.0 319.98L177.0 319.98L178.0 319.98L179.0 319.98L179.5 319.98L180.0 319.98L181.0 319.98L182.0 319.98L182.0 322.02L183.0 322.02L184.0 322.02L184.3 322.02L185.0 322.02L186.0 322.02L187.0 322.02L188.0 322.02L189.0 322.02L190.0 322.02L191.0 322.02L192.0 322.02L193.0 322.02L193.2 322.02L194.0 322.02L194.0 324.06L195.0 324.06L196.0 324.06L197.0 324.06L197.0 326.11L197.9 326.11L198.0 326.11L199.0 326.11L200.0 326.11L201.0 326.11L202.0 326.11L203.0 326.11L204.0 326.11L205.0 326.11L206.0 326.11L207.0 326.11L208.0 326.11L209.0 326.11L210.0 326.11L211.0 326.11L212.0 326.11L213.0 326.11L214.0 326.11L215.0 326.11L215.0 328.15L216.0 328.15L217.0 328.15L218.0 328.15L219.0 328.15L220.0 328.15L220.1 328.15L221.0 328.15L222.0 328.15L223.0 328.15L224.0 328.15L225.0 328.15L226.0 328.15L227.0 328.15L227.7 328.15L228.0 328.15L229.0 328.15L230.0 328.15L230.0 330.20L230.8 330.20L231.0 330.20L232.0 330.20L233.0 330.20L233.0 328.15L234.0 328.15L235.0 328.15L236.0 328.15L237.0 328.15L238.0 328.15L239.0 328.15L239.0 326.11L240.0 326.11L240.3 326.11L241.0 326.11L242.0 326.11L243.0 326.11L244.0 326.11L245.0 326.11L246.0 326.11L246.7 326.11L246.7 324.06L247.0 324.06L248.0 324.06L248.0 326.11L249.0 326.11L250.0 326.11L251.0 326.11L252.0 326.11L253.0 326.11L254.0 326.11L255.0 326.11L256.0 326.11L257.0 326.11L258.0 326.11L259.0 326.11L259.0 324.06L259.3 324.06L260.0 324.06L261.0 324.06L262.0 324.06L263.0 324.06L264.0 324.06L265.0 324.06L265.0 322.02L265.7 322.02L266.0 322.02L267.0 322.02L268.0 322.02L269.0 322.02L270.0 322.02L271.0 322.02L272.0 322.02L273.0 322.02L274.0 322.02L275.0 322.02L276.0 322.02L277.0 322.02L278.0 322.02L279.0 322.02L280.0 322.02L281.0 322.02L282.0 322.02L283.0 322.02L284.0 322.02L285.0 322.02L286.0 322.02L287.0 322.02L288.0 322.02L289.0 322.02L290.0 322.02L291.0 322.02L291.0 322.02L292.0 322.02L292.0 324.06L293.0 324.06L294.0 324.06L294.2 324.06L295.0 324.06L296.0 324.06L297.0 324.06L298.0 324.06L299.0 324.06L300.0 324.06L301.0 324.06L302.0 324.06L303.0 324.06L304.0 324.06L305.0 324.06L306.0 324.06L307.0 324.06L308.0 324.06L309.0 324.06L310.0 324.06L310.0 324.06L311.0 324.06L311.0 326.11L312.0 326.11L313.0 326.11L314.0 326.11L315.0 326.11L316.0 326.11L317.0 326.11L317.0 328.15L318.0 328.15L319.0 328.15L319.5 328.15L320.0 328.15L321.0 328.15L322.0 328.15L323.0 328.15L324.0 328.15L325.0 328.15L326.0 328.15L327.0 328.15L328.0 328.15L329.0 328.15L329.0 328.15L330.0 328.15L331.0 328.15L332.0 328.15L332.0 326.11L333.0 326.11L334.0 326.11L335.0 326.11L335.3 326.11L336.0 326.11L337.0 326.11L338.0 326.11L339.0 326.11L340.0 326.11L340.0 324.06L341.0 324.06L342.0 324.06L343.0 324.06L344.0 324.06L345.0 324.06L346.0 324.06L347.0 324.06L348.0 324.06L349.0 324.06L350.0 324.06L351.0 324.06L352.0 324.06L353.0 324.06L354.0 324.06L354.3 324.06L355.0 324.06L356.0 324.06L356.0 322.02L357.0 322.02L358.0 322.02L359.0 322.02L360.0 322.02L360.7 322.02L361.0 322.02L362.0 322.02L363.0 322.02L364.0 322.02L365.0 322.02L366.0 322.02L367.0 322.02L368.0 322.02L369.0 322.02L370.0 322.02L371.0 322.02L372.0 322.02L373.0 322.02L374.0 322.02L375.0 322.02L376.0 322.02L377.0 322.02L378.0 322.02L379.0 322.02L380.0 322.02L381.0 322.02L382.0 322.02L382.8 322.02L383.0 322.02L384.0 322.02L385.0 322.02L386.0 322.02L387.0 322.02L388.0 322.02L388.0 324.06L389.0 324.06L390.0 324.06L391.0 324.06L392.0 324.06L392.3 324.06L393.0 324.06L394.0 324.06L395.0 324.06L396.0 324.06L397.0 324.06L398.0 324.06L399.0 324.06L400.0 324.06L400.0 326.11L401.0 326.11L402.0 326.11L403.0 326.11L404.0 326.11L405.0 326.11L405.0 326.11L406.0 326.11L407.0 326.11L408.0 326.11L409.0 326.11L410.0 326.11L411.0 326.11L412.0 326.11L413.0 326.11L414.0 326.11L415.0 326.11L416.0 326.11L417.0 326.11L418.0 326.11L419.0 326.11L420.0 326.11L421.0 326.11L422.0 326.11L423.0 326.11L424.0 326.11L424.0 326.11L425.0 326.11L426.0 326.11L427.0 326.11L428.0 326.11L429.0 326.11L430.0 326.11L431.0 326.11L432.0 326.11L433.0 326.11L434.0 326.11L435.0 326.11L436.0 326.11L437.0 326.11L438.0 326.11L439.0 326.11L440.0 326.11L441.0 326.11L442.0 326.11L443.0 326.11L444.0 326.11L445.0 326.11L446.0 326.11L447.0 326.11L448.0 326.11L449.0 326.11L450.0 326.11L451.0 326.11L452.0 326.11L452.5 326.11L453.0 326.11L454.0 326.11L454.0 324.06L455.0 324.06L455.0 322.02L455.7 322.02L456.0 322.02L457.0 322.02L458.0 322.02L459.0 322.02L459.0 319.98L460.0 319.98L461.0 319.98L462.0 319.98L463.0 319.98L464.0 319.98L465.0 319.98L465.0 317.93L465.2 317.93L466.0 317.93L467.0 317.93L468.0 317.93L469.0 317.93L470.0 317.93L471.0 317.93L472.0 317.93L473.0 317.93L474.0 317.93L475.0 317.93L476.0 317.93L477.0 317.93L478.0 317.93L479.0 317.93L480.0 317.93L481.0 317.93L482.0 317.93L483.0 317.93L484.0 317.93L485.0 317.93L486.0 317.93L487.0 317.93L488.0 317.93L489.0 317.93L490.0 317.93L491.0 317.93L492.0 317.93L493.0 317.93L494.0 317.93L495.0 317.93L496.0 317.93L497.0 317.93L498.0 317.93L499.0 317.93L500.0 317.93L501.0 317.93L502.0 317.93L503.0 317.93L504.0 317.93L505.0 317.93L506.0 317.93L507.0 317.93L508.0 317.93L509.0 317.93L509.5 317.93L510.0 317.93L510.0 319.98L510.8 319.98L511.0 319.98L512.0 319.98L513.0 319.98L514.0 319.98L515.0 319.98L516.0 319.98L517.0 319.98L518.0 319.98L519.0 319.98L520.0 319.98L521.0 319.98L522.0 319.98L523.0 319.98L523.4 319.98L524.0 319.98L525.0 319.98L525.0 322.02L526.0 322.02L526.0 324.06L526.0 324.06L527.0 324.06L528.0 324.06L529.0 324.06L530.0 324.06L531.0 324.06L532.0 324.06L533.0 324.06L534.0 324.06L535.0 324.06L536.0 324.06L537.0 324.06L538.0 324.06L539.0 324.06L540.0 324.06L541.0 324.06L542.0 324.06L542.8 324.06L543.0 324.06L544.0 324.06L545.0 324.06L545.0 326.11L545.6 326.11L546.0 326.11L547.0 326.11L548.0 326.11L549.0 326.11L550.0 326.11L551.0 326.11L552.0 326.11L553.0 326.11L554.0 326.11L555.0 326.11L556.0 326.11L557.0 326.11L558.0 326.11L559.0 326.11L560.0 326.11L561.0 326.11L562.0 326.11L563.0 326.11L564.0 326.11L565.0 326.11L566.0 326.11L567.0 326.11L567.8 326.11L567.8 328.15L568.0 328.15L568.0 326.11L569.0 326.11L570.0 326.11L570.0 324.06L570.0 324.06L571.0 324.06L572.0 324.06L573.0 324.06L574.0 324.06L575.0 324.06L576.0 324.06L577.0 324.06L578.0 324.06L579.0 324.06L580.0 324.06L581.0 324.06L582.0 324.06L582.3 324.06L583.0 324.06L584.0 324.06L585.0 324.06L585.0 322.02L586.0 322.02L587.0 322.02L588.0 322.02L589.0 322.02L590.0 322.02L591.0 322.02L592.0 322.02L593.0 322.02L594.0 322.02L595.0 322.02L595.0 322.02L596.0 322.02L597.0 322.02L598.0 322.02L599.0 322.02L600.0 322.02L601.0 322.02L602.0 322.02L603.0 322.02L604.0 322.02L605.0 322.02L606.0 322.02L607.0 322.02L608.0 322.02L609.0 322.02L610.0 322.02L611.0 322.02L612.0 322.02L613.0 322.02L614.0 322.02L615.0 322.02L616.0 322.02L617.0 322.02L618.0 322.02L619.0 322.02L620.0 322.02L621.0 322.02L622.0 322.02L623.0 322.02L624.0 322.02L625.0 322.02L626.0 322.02L627.0 322.02L628.0 322.02L629.0 322.02L630.0 322.02L631.0 322.02L632.0 322.02L633.0 322.02L634.0 322.02L635.0 322.02L636.0 322.02L637.0 322.02L638.0 322.02L639.0 322.02L640.0 322.02L641.0 322.02L642.0 322.02L643.0 322.02L644.0 322.02L645.0 322.02L645.7 322.02L646.0 322.02L647.0 322.02L648.0 322.02L649.0 322.02L650.0 322.02L651.0 322.02L652.0 322.02L652.0 322.02L653.0 322.02L654.0 322.02L655.0 322.02L655.0 324.06L656.0 324.06L657.0 324.06L658.0 324.06L658.3 324.06L659.0 324.06L660.0 324.06L661.0 324.06L662.0 324.06L663.0 324.06L664.0 324.06L665.0 324.06L666.0 324.06L667.0 324.06L668.0 324.06L669.0 324.06L670.0 324.06L671.0 324.06L672.0 324.06L673.0 324.06L674.0 324.06L675.0 324.06L676.0 324.06L677.0 324.06L678.0 324.06L679.0 324.06L680.0 324.06L681.0 324.06L682.0 324.06L683.0 324.06L684.0 324.06L685.0 324.06L686.0 324.06L687.0 324.06L688.0 324.06L689.0 324.06L690.0 324.06L691.0 324.06L692.0 324.06L693.0 324.06L693.2 324.06L694.0 324.06L695.0 324.06L696.0 324.06L697.0 324.06L698.0 324.06L699.0 324.06L700.0 324.06L701.0 324.06L702.0 324.06L702.7 324.06L703.0 324.06L704.0 324.06L705.0 324.06L706.0 324.06L707.0 324.06L707.0 322.02L708.0 322.02L709.0 322.02L710.0 322.02L711.0 322.02L712.0 322.02L712.0 324.06L713.0 324.06L714.0 324.06L715.0 324.06L715.4 324.06L716.0 324.06L717.0 324.06L718.0 324.06L718.0 322.02L718.0 322.02L719.0 322.02L720.0 322.02L721.0 322.02L722.0 322.02L723.0 322.02L724.0 322.02L725.0 322.02L726.0 322.02L727.0 322.02L728.0 322.02L729.0 322.02L730.0 322.02L731.0 322.02L732.0 322.02L733.0 322.02L734.0 322.02L735.0 322.02L736.0 322.02L736.0 322.02L737.0 322.02L738.0 322.02L738.0 319.98L738.5 319.98L739.0 319.98L740.0 319.98L741.0 319.98L742.0 319.98L743.0 319.98L744.0 319.98L745.0 319.98L746.0 319.98L747.0 319.98L748.0 319.98L749.0 319.98L750.0 319.98L751.0 319.98L752.0 319.98L753.0 319.98L754.0 319.98L755.0 319.98L756.0 319.98L757.0 319.98L758.0 319.98L759.0 319.98L759.1 319.98L760.0 319.98L761.0 319.98L761.0 322.02L762.0 322.02L763.0 322.02L764.0 322.02L764.2 322.02L765.0 322.02L766.0 322.02L767.0 322.02L768.0 322.02L769.0 322.02L770.0 322.02L771.0 322.02L772.0 322.02L773.0 322.02L774.0 322.02L775.0 322.02L776.0 322.02L777.0 322.02L778.0 322.02L779.0 322.02L780.0 322.02L781.0 322.02L782.0 322.02L782.2 322.02L783.0 322.02L783.0 324.06L784.0 324.06L784.0 326.11L784.8 326.11L785.0 326.11L786.0 326.11L787.0 326.11L788.0 326.11L789.0 326.11L790.0 326.11L791.0 326.11L792.0 326.11L793.0 326.11L794.0 326.11L795.0 326.11L795.1 326.11L796.0 326.11L797.0 326.11L798.0 326.11L799.0 326.11L799.0 328.15L800.0 328.15L801.0 328.15L802.0 328.15L802.8 328.15L803.0 328.15L804.0 328.15L805.0 328.15L806.0 328.15L807.0 328.15L808.0 328.15L809.0 328.15L810.0 328.15L811.0 328.15L812.0 328.15L813.0 328.15L814.0 328.15L815.0 328.15L816.0 328.15L817.0 328.15L818.0 328.15L819.0 328.15L820.0 328.15L821.0 328.15L822.0 328.15L823.0 328.15L824.0 328.15L825.0 328.15L826.0 328.15L827.0 328.15L828.0 328.15L828.5 328.15L829.0 328.15L830.0 328.15L831.0 328.15L832.0 328.15L833.0 328.15L834.0 328.15L835.0 328.15L836.0 328.15L837.0 328.15L838.0 328.15L839.0 328.15L840.0 328.15L841.0 328.15L842.0 328.15L843.0 328.15L843.9 328.15L843.9 326.11L844.0 326.11L845.0 326.11L846.0 326.11L847.0 326.11L848.0 326.11L849.0 326.11L850.0 326.11L851.0 326.11L852.0 326.11L853.0 326.11L854.0 326.11L854.2 326.11L855.0 326.11L855.0 328.15L856.0 328.15L857.0 328.15L858.0 328.15L859.0 328.15L859.3 328.15L860.0 328.15L861.0 328.15L862.0 328.15L863.0 328.15L864.0 328.15L865.0 328.15L866.0 328.15L867.0 328.15L868.0 328.15L869.0 328.15L870.0 328.15L871.0 328.15L872.0 328.15L873.0 328.15L874.0 328.15L875.0 328.15L876.0 328.15L877.0 328.15L878.0 328.15L879.0 328.15L880.0 328.15L881.0 328.15L882.0 328.15L883.0 328.15L884.0 328.15L885.0 328.15L886.0 328.15L887.0 328.15L888.0 328.15L889.0 328.15L890.0 328.15L891.0 328.15L892.0 328.15L893.0 328.15L894.0 328.15L895.0 328.15L896.0 328.15L897.0 328.15L898.0 328.15L899.0 328.15L900.0 328.15L901.0 328.15L902.0 328.15L903.0 328.15L904.0 328.15L905.0 328.15L906.0 328.15L907.0 328.15L908.0 328.15L909.0 328.15L910.0 328.15L911.0 328.15L912.0 328.15L913.0 328.15L914.0 328.15L915.0 328.15L915.8 328.15L916.0 328.15L917.0 328.15L918.0 328.15L919.0 328.15L920.0 328.15L921.0 328.15L921.0 328.15L922.0 328.15L923.0 328.15L924.0 328.15L925.0 328.15L926.0 328.15L927.0 328.15L928.0 328.15L929.0 328.15L929.0 326.11L930.0 326.11L931.0 326.11L931.2 326.11" stroke="#56b4e9" stroke-width="2" fill="none"/>
<path d="M120.0 395.60L121.0 395.60L122.0 395.60L123.0 395.60L124.0 395.60L125.0 395.60L126.0 395.60L127.0 395.60L128.0 395.60L129.0 395.60L130.0 395.60L131.0 395.60L132.0 395.60L133.0 395.60L134.0 395.60L135.0 395.60L136.0 395.60L137.0 395.60L138.0 395.60L139.0 395.60L140.0 395.60L141.0 395.60L142.0 395.60L143.0 395.60L143.8 395.60L144.0 395.60L145.0 395.60L145.0 393.56L145.3 393.56L146.0 393.56L147.0 393.56L148.0 393.56L149.0 393.56L150.0 393.56L151.0 393.56L152.0 393.56L153.0 393.56L154.0 393.56L155.0 393.56L156.0 393.56L157.0 393.56L158.0 393.56L159.0 393.56L160.0 393.56L161.0 393.56L162.0 393.56L163.0 393.56L164.0 393.56L165.0 393.56L166.0 393.56L167.0 393.56L168.0 393.56L169.0 393.56L170.0 393.56L171.0 393.56L172.0 393.56L173.0 393.56L174.0 393.56L175.0 393.56L176.0 393.56L177.0 393.56L178.0 393.56L179.0 393.56L180.0 393.56L181.0 393.56L182.0 393.56L183.0 393.56L183.3 393.56L184.0 393.56L185.0 393.56L185.0 395.60L186.0 395.60L186.5 395.60L187.0 395.60L188.0 395.60L189.0 395.60L190.0 395.60L191.0 395.60L192.0 395.60L193.0 395.60L194.0 395.60L195.0 395.60L196.0 395.60L197.0 395.60L198.0 395.60L199.0 395.60L200.0 395.60L201.0 395.60L202.0 395.60L203.0 395.60L204.0 395.60L205.0 395.60L206.0 395.60L207.0 395.60L208.0 395.60L209.0 395.60L210.0 395.60L211.0 395.60L212.0 395.60L213.0 395.60L214.0 395.60L215.0 395.60L216.0 395.60L217.0 395.60L218.0 395.60L219.0 395.60L220.0 395.60L221.0 395.60L222.0 395.60L222.9 395.60L223.0 395.60L224.0 395.60L224.0 397.65L224.5 397.65L225.0 397.65L226.0 397.65L227.0 397.65L228.0 397.65L229.0 397.65L230.0 397.65L231.0 397.65L232.0 397.65L233.0 397.65L234.0 397.65L235.0 397.65L236.0 397.65L237.0 397.65L237.2 397.65L238.0 397.65L239.0 397.65L240.0 397.65L240.0 395.60L240.3 395.60L241.0 395.60L242.0 395.60L243.0 395.60L244.0 395.60L245.0 395.60L246.0 395.60L247.0 395.60L248.0 395.60L249.0 395.60L250.0 395.60L251.0 395.60L252.0 395.60L253.0 395.60L254.0 395.60L255.0 395.60L256.0 395.60L257.0 395.60L258.0 395.60L259.0 395.60L260.0 395.60L261.0 395.60L262.0 395.60L263.0 395.60L264.0 395.60L265.0 395.60L266.0 395.60L267.0 395.60L268.0 395.60L269.0 395.60L270.0 395.60L271.0 395.60L272.0 395.60L273.0 395.60L274.0 395.60L275.0 395.60L276.0 395.60L277.0 395.60L278.0 395.60L279.0 395.60L280.0 395.60L281.0 395.60L282.0 395.60L283.0 395.60L284.0 395.60L285.0 395.60L286.0 395.60L287.0 395.60L288.0 395.60L289.0 395.60L290.0 395.60L291.0 395.60L292.0 395.60L293.0 395.60L294.0 395.60L295.0 395.60L296.0 395.60L297.0 395.60L298.0 395.60L299.0 395.60L300.0 395.60L301.0 395.60L302.0 395.60L303.0 395.60L304.0 395.60L305.0 395.60L306.0 395.60L307.0 395.60L308.0 395.60L309.0 395.60L310.0 395.60L311.0 395.60L312.0 395.60L313.0 395.60L314.0 395.60L315.0 395.60L316.0 395.60L317.0 395.60L318.0 395.60L319.0 395.60L320.0 395.60L321.0 395.60L322.0 395.60L323.0 395.60L324.0 395.60L325.0 395.60L326.0 395.60L327.0 395.60L328.0 395.60L329.0 395.60L330.0 395.60L331.0 395.60L332.0 395.60L333.0 395.60L334.0 395.60L335.0 395.60L336.0 395.60L337.0 395.60L338.0 395.60L339.0 395.60L340.0 395.60L341.0 395.60L342.0 395.60L343.0 395.60L344.0 395.60L345.0 395.60L346.0 395.60L347.0 395.60L348.0 395.60L349.0 395.60L350.0 395.60L351.0 395.60L352.0 395.60L353.0 395.60L354.0 395.60L355.0 395.60L356.0 395.60L357.0 395.60L358.0 395.60L359.0 395.60L360.0 395.60L361.0 395.60L362.0 395.60L363.0 395.60L364.0 395.60L365.0 395.60L366.0 395.60L367.0 395.60L368.0 395.60L369.0 395.60L370.0 395.60L371.0 395.60L372.0 395.60L373.0 395.60L374.0 395.60L375.0 395.60L376.0 395.60L377.0 395.60L378.0 395.60L379.0 395.60L380.0 395.60L381.0 395.60L382.0 395.60L383.0 395.60L384.0 395.60L385.0 395.60L386.0 395.60L387.0 395.60L388.0 395.60L389.0 395.60L390.0 395.60L391.0 395.60L392.0 395.60L393.0 395.60L394.0 395.60L395.0 395.60L396.0 395.60L397.0 395.60L398.0 395.60L399.0 395.60L400.0 395.60L401.0 395.60L402.0 395.60L403.0 395.60L404.0 395.60L405.0 395.60L406.0 395.60L407.0 395.60L408.0 395.60L409.0 395.60L410.0 395.60L411.0 395.60L412.0 395.60L413.0 395.60L414.0 395.60L414.5 395.60L415.0 395.60L416.0 395.60L416.0 397.65L417.0 397.65L417.7 397.65L418.0 397.65L419.0 397.65L420.0 397.65L421.0 397.65L422.0 397.65L423.0 397.65L424.0 397.65L424.0 397.65L425.0 397.65L426.0 397.65L427.0 397.65L428.0 397.65L429.0 397.65L429.0 395.60L430.0 395.60L431.0 395.60L432.0 395.60L433.0 395.60L434.0 395.60L435.0 395.60L436.0 395.60L436.7 395.60L437.0 395.60L438.0 395.60L439.0 395.60L440.0 395.60L441.0 395.60L442.0 395.60L443.0 395.60L444.0 395.60L445.0 395.60L446.0 395.60L447.0 395.60L448.0 395.60L449.0 395.60L450.0 395.60L451.0 395.60L452.0 395.60L453.0 395.60L454.0 395.60L455.0 395.60L456.0 395.60L457.0 395.60L458.0 395.60L459.0 395.60L460.0 395.60L461.0 395.60L462.0 395.60L463.0 395.60L463.6 395.60L464.0 385.38L465.0 360.86L465.2 356.77L466.0 352.68L467.0 346.55L468.0 340.42L469.0 336.33L470.0 330.20L471.0 324.06L471.5 324.06L471.5 322.02L472.0 322.02L473.0 322.02L473.0 319.98L474.0 319.98L474.0 317.93L475.0 317.93L475.0 315.89L476.0 315.89L477.0 315.89L477.0 313.84L477.8 313.84L477.8 311.80L478.0 311.80L479.0 311.80L480.0 311.80L480.0 309.76L481.0 309.76L482.0 309.76L483.0 309.76L483.0 307.71L484.0 307.71L485.0 307.71L485.0 305.67L486.0 305.67L487.0 305.67L488.0 305.67L488.0 303.62L489.0 303.62L489.9 303.62L489.9 301.58L490.0 301.58L491.0 301.58L492.0 301.58L493.0 301.58L493.0 299.54L494.0 299.54L495.0 299.54L495.0 297.49L496.0 297.49L497.0 297.49L498.0 297.49L498.0 295.45L498.4 295.45L499.0 295.45L500.0 295.45L500.0 293.40L501.0 293.40L502.0 293.40L502.0 291.36L503.0 291.36L504.0 291.36L504.0 289.32L505.0 289.32L506.0 289.32L506.0 287.27L506.6 287.27L507.0 287.27L508.0 287.27L509.0 287.27L509.0 285.23L510.0 285.23L511.0 285.23L512.0 285.23L513.0 285.23L513.0 283.18L514.0 283.18L514.9 283.18L515.0 283.18L516.0 283.18L517.0 283.18L518.0 283.18L519.0 283.18L519.0 281.14L520.0 281.14L521.0 281.14L522.0 281.14L523.0 281.14L524.0 281.14L525.0 281.14L526.0 281.14L526.0 281.14L527.0 281.14L527.0 279.10L528.0 279.10L529.0 279.10L530.0 279.10L531.0 279.10L532.0 279.10L533.0 279.10L533.0 277.05L534.0 277.05L535.0 277.05L535.8 277.05L536.0 277.05L537.0 277.05L538.0 277.05L539.0 277.05L539.0 275.01L540.0 275.01L541.0 275.01L542.0 275.01L543.0 275.01L544.0 275.01L544.0 272.96L545.0 272.96L545.6 272.96L546.0 272.96L547.0 272.96L548.0 272.96L549.0 272.96L550.0 272.96L551.0 272.96L551.0 270.92L552.0 270.92L553.0 270.92L553.8 270.92L554.0 270.92L555.0 270.92L556.0 270.92L557.0 270.92L558.0 270.92L559.0 270.92L560.0 270.92L561.0 270.92L561.0 268.88L562.0 268.88L563.0 268.88L563.6 268.88L564.0 268.88L565.0 268.88L566.0 268.88L567.0 268.88L568.0 268.88L569.0 268.88L570.0 268.88L570.0 268.88L571.0 268.88L572.0 268.88L573.0 268.88L574.0 268.88L575.0 268.88L576.0 268.88L576.0 266.83L577.0 266.83L578.0 266.83L579.0 266.83L579.2 266.83L580.0 266.83L581.0 266.83L582.0 266.83L583.0 266.83L584.0 266.83L585.0 266.83L586.0 266.83L587.0 266.83L588.0 266.83L589.0 266.83L590.0 266.83L591.0 266.83L591.8 266.83L592.0 266.83L593.0 266.83L594.0 266.83L595.0 266.83L596.0 266.83L596.0 264.79L597.0 264.79L598.0 264.79L598.2 264.79L599.0 264.79L600.0 264.79L601.0 264.79L602.0 264.79L603.0 264.79L604.0 264.79L605.0 264.79L606.0 264.79L607.0 264.79L608.0 264.79L609.0 264.79L610.0 264.79L611.0 264.79L612.0 264.79L613.0 264.79L614.0 264.79L615.0 264.79L616.0 264.79L617.0 264.79L617.2 264.79L618.0 264.79L619.0 264.79L619.0 262.74L620.0 262.74L620.3 262.74L621.0 262.74L622.0 262.74L623.0 262.74L624.0 262.74L625.0 262.74L626.0 262.74L627.0 262.74L628.0 262.74L629.0 262.74L630.0 262.74L631.0 262.74L632.0 262.74L633.0 262.74L634.0 262.74L635.0 262.74L636.0 262.74L637.0 262.74L638.0 262.74L639.0 262.74L640.0 262.74L641.0 262.74L642.0 262.74L643.0 262.74L644.0 262.74L645.0 262.74L646.0 262.74L647.0 262.74L648.0 262.74L649.0 262.74L650.0 262.74L651.0 262.74L652.0 262.74L652.0 262.74L653.0 262.74L653.0 260.70L654.0 260.70L655.0 260.70L655.2 260.70L656.0 260.70L657.0 260.70L658.0 260.70L659.0 260.70L660.0 260.70L661.0 260.70L662.0 260.70L663.0 260.70L664.0 260.70L665.0 260.70L666.0 260.70L667.0 260.70L668.0 260.70L669.0 260.70L670.0 260.70L671.0 260.70L672.0 260.70L673.0 260.70L674.0 260.70L675.0 260.70L676.0 260.70L677.0 260.70L677.3 260.70L678.0 260.70L679.0 260.70L680.0 260.70L681.0 260.70L682.0 260.70L682.0 258.66L683.0 258.66L683.7 258.66L684.0 258.66L685.0 258.66L686.0 258.66L687.0 258.66L688.0 258.66L689.0 258.66L690.0 258.66L691.0 258.66L692.0 258.66L693.0 258.66L694.0 258.66L695.0 258.66L696.0 258.66L697.0 258.66L698.0 258.66L699.0 258.66L700.0 258.66L701.0 258.66L702.0 258.66L703.0 258.66L704.0 258.66L705.0 258.66L706.0 258.66L707.0 258.66L708.0 258.66L709.0 258.66L710.0 258.66L711.0 258.66L712.0 258.66L713.0 258.66L714.0 258.66L715.0 258.66L716.0 258.66L717.0 258.66L718.0 258.66L719.0 258.66L720.0 258.66L721.0 258.66L722.0 258.66L723.0 258.66L724.0 258.66L725.0 258.66L726.0 258.66L727.0 258.66L728.0 258.66L729.0 258.66L730.0 258.66L731.0 258.66L732.0 258.66L733.0 258.66L734.0 258.66L735.0 258.66L736.0 258.66L737.0 258.66L738.0 258.66L739.0 258.66L740.0 258.66L741.0 258.66L742.0 258.66L743.0 258.66L744.0 258.66L745.0 258.66L746.0 258.66L747.0 258.66L748.0 258.66L749.0 258.66L750.0 258.66L751.0 258.66L752.0 258.66L753.0 258.66L754.0 258.66L754.0 258.66L755.0 258.66L755.0 260.70L755.2 260.70L756.0 260.70L757.0 260.70L758.0 260.70L759.0 260.70L760.0 260.70L761.0 260.70L762.0 260.70L763.0 260.70L764.0 260.70L765.0 260.70L766.0 260.70L767.0 260.70L768.0 260.70L769.0 260.70L770.0 260.70L771.0 260.70L772.0 260.70L773.0 260.70L774.0 260.70L774.5 260.70L775.0 260.70L775.8 260.70L775.8 262.74L776.0 262.74L777.0 262.74L778.0 262.74L779.0 262.74L780.0 262.74L781.0 262.74L782.0 262.74L783.0 262.74L784.0 262.74L785.0 262.74L786.0 262.74L787.0 262.74L788.0 262.74L789.0 262.74L789.9 262.74L790.0 262.74L791.0 262.74L791.0 260.70L791.2 260.70L792.0 260.70L793.0 260.70L794.0 260.70L795.0 260.70L796.0 260.70L797.0 260.70L798.0 260.70L799.0 260.70L800.0 260.70L801.0 260.70L802.0 260.70L803.0 260.70L804.0 260.70L805.0 260.70L806.0 260.70L807.0 260.70L808.0 260.70L809.0 260.70L810.0 260.70L811.0 260.70L812.0 260.70L813.0 260.70L814.0 260.70L815.0 260.70L816.0 260.70L817.0 260.70L818.0 260.70L819.0 260.70L820.0 260.70L821.0 260.70L822.0 260.70L823.0 260.70L824.0 260.70L825.0 260.70L826.0 260.70L827.0 260.70L828.0 260.70L829.0 260.70L830.0 260.70L831.0 260.70L832.0 260.70L833.0 260.70L834.0 260.70L835.0 260.70L836.0 260.70L837.0 260.70L838.0 260.70L838.8 260.70L839.0 260.70L840.0 260.70L840.0 262.74L840.0 262.74L841.0 262.74L842.0 262.74L843.0 262.74L844.0 262.74L845.0 262.74L846.0 262.74L847.0 262.74L848.0 262.74L849.0 262.74L850.0 262.74L851.0 262.74L852.0 262.74L853.0 262.74L854.0 262.74L855.0 262.74L856.0 262.74L857.0 262.74L858.0 262.74L859.0 262.74L860.0 262.74L861.0 262.74L861.9 262.74L862.0 262.74L863.0 262.74L863.0 264.79L863.2 264.79L864.0 264.79L865.0 264.79L866.0 264.79L867.0 264.79L868.0 264.79L869.0 264.79L870.0 264.79L871.0 264.79L872.0 264.79L873.0 264.79L874.0 264.79L875.0 264.79L876.0 264.79L877.0 264.79L878.0 264.79L879.0 264.79L880.0 264.79L881.0 264.79L882.0 264.79L883.0 264.79L884.0 264.79L885.0 264.79L885.0 264.79L886.0 264.79L887.0 264.79L887.0 266.83L887.6 266.83L888.0 266.83L889.0 266.83L890.0 266.83L891.0 266.83L892.0 266.83L893.0 266.83L894.0 266.83L895.0 266.83L896.0 266.83L897.0 266.83L898.0 266.83L899.0 266.83L900.0 266.83L901.0 266.83L902.0 266.83L903.0 266.83L904.0 266.83L905.0 266.83L906.0 266.83L907.0 266.83L908.0 266.83L909.0 266.83L910.0 266.83L911.0 266.83L912.0 266.83L913.0 266.83L914.0 266.83L915.0 266.83L916.0 266.83L917.0 266.83L918.0 266.83L919.0 266.83L920.0 266.83L921.0 266.83L922.0 266.83L923.0 266.83L924.0 266.83L925.0 266.83L926.0 266.83L927.0 266.83L928.0 266.83L929.0 266.83L930.0 266.83L931.0 266.83L931.2 266.83" stroke="#e69f00" stroke-width="2" fill="none"/>
<path d="M120.0 299.54L121.0 299.54L122.0 299.54L123.0 299.54L124.0 299.54L125.0 299.54L126.0 299.54L127.0 299.54L128.0 299.54L129.0 299.54L130.0 299.54L131.0 299.54L132.0 299.54L133.0 299.54L134.0 299.54L135.0 299.54L136.0 299.54L137.0 299.54L138.0 299.54L139.0 299.54L140.0 299.54L141.0 299.54L142.0 299.54L143.0 299.54L144.0 299.54L145.0 299.54L146.0 299.54L147.0 299.54L148.0 299.54L149.0 299.54L150.0 299.54L150.1 299.54L151.0 299.54L151.7 299.54L151.7 301.58L152.0 301.58L153.0 301.58L154.0 301.58L155.0 301.58L156.0 301.58L157.0 301.58L158.0 301.58L159.0 301.58L160.0 301.58L161.0 301.58L162.0 301.58L163.0 301.58L164.0 301.58L165.0 301.58L166.0 301.58L167.0 301.58L168.0 301.58L169.0 301.58L170.0 301.58L171.0 301.58L172.0 301.58L173.0 301.58L174.0 301.58L175.0 301.58L175.4 301.58L176.0 301.58L177.0 301.58L177.0 303.62L178.0 303.62L179.0 303.62L180.0 303.62L181.0 303.62L182.0 303.62L183.0 303.62L184.0 303.62L185.0 303.62L186.0 303.62L187.0 303.62L188.0 303.62L189.0 303.62L190.0 303.62L191.0 303.62L192.0 303.62L193.0 303.62L194.0 303.62L195.0 303.62L196.0 303.62L197.0 303.62L198.0 303.62L199.0 303.62L199.2 303.62L200.0 303.62L200.8 303.62L200.8 305.67L201.0 305.67L202.0 305.67L203.0 305.67L204.0 305.67L205.0 305.67L206.0 305.67L207.0 305.67L208.0 305.67L209.0 305.67L210.0 305.67L211.0 305.67L212.0 305.67L213.0 305.67L214.0 305.67L215.0 305.67L216.0 305.67L217.0 305.67L218.0 305.67L219.0 305.67L220.0 305.67L221.0 305.67L222.0 305.67L223.0 305.67L224.0 305.67L225.0 305.67L226.0 305.67L226.1 305.67L227.0 305.67L227.7 305.67L227.7 307.71L228.0 307.71L229.0 307.71L230.0 307.71L231.0 307.71L232.0 307.71L233.0 307.71L234.0 307.71L235.0 307.71L236.0 307.71L237.0 307.71L238.0 307.71L239.0 307.71L240.0 307.71L241.0 307.71L242.0 307.71L243.0 307.71L244.0 307.71L245.0 307.71L246.0 307.71L247.0 307.71L248.0 307.71L249.0 307.71L250.0 307.71L251.0 307.71L251.4 307.71L252.0 307.71L253.0 307.71L253.0 309.76L254.0 309.76L255.0 309.76L256.0 309.76L257.0 309.76L258.0 309.76L259.0 309.76L260.0 309.76L261.0 309.76L262.0 309.76L263.0 309.76L264.0 309.76L265.0 309.76L266.0 309.76L267.0 309.76L268.0 309.76L269.0 309.76L270.0 309.76L271.0 309.76L272.0 309.76L273.0 309.76L273.6 309.76L274.0 309.76L275.0 309.76L275.0 311.80L275.2 311.80L276.0 311.80L277.0 311.80L278.0 311.80L279.0 311.80L280.0 311.80L281.0 311.80L282.0 311.80L283.0 311.80L284.0 311.80L285.0 311.80L286.0 311.80L287.0 311.80L288.0 311.80L289.0 311.80L290.0 311.80L291.0 311.80L292.0 311.80L293.0 311.80L294.0 311.80L295.0 311.80L296.0 311.80L297.0 311.80L298.0 311.80L298.9 311.80L299.0 311.80L300.0 311.80L300.0 313.84L300.5 313.84L301.0 313.84L302.0 313.84L303.0 313.84L304.0 313.84L305.0 313.84L306.0 313.84L307.0 313.84L308.0 313.84L309.0 313.84L310.0 313.84L311.0 313.84L312.0 313.84L313.0 313.84L314.0 313.84L315.0 313.84L316.0 313.84L317.0 313.84L318.0 313.84L319.0 313.84L320.0 313.84L321.0 313.84L322.0 313.84L323.0 313.84L324.0 313.84L324.2 313.84L325.0 313.84L325.8 313.84L325.8 315.89L326.0 315.89L327.0 315.89L328.0 315.89L329.0 315.89L330.0 315.89L331.0 315.89L332.0 315.89L333.0 315.89L334.0 315.89L335.0 315.89L336.0 315.89L337.0 315.89L338.0 315.89L339.0 315.89L340.0 315.89L341.0 315.89L342.0 315.89L343.0 315.89L344.0 315.89L345.0 315.89L346.0 315.89L347.0 315.89L348.0 315.89L349.0 315.89L350.0 315.89L351.0 315.89L352.0 315.89L353.0 315.89L354.0 315.89L354.3 315.89L355.0 315.89L355.9 315.89L355.9 317.93L356.0 317.93L357.0 317.93L358.0 317.93L359.0 317.93L360.0 317.93L361.0 317.93L362.0 317.93L363.0 317.93L364.0 317.93L365.0 317.93L366.0 317.93L367.0 317.93L368.0 317.93L369.0 317.93L370.0 317.93L371.0 317.93L372.0 317.93L373.0 317.93L374.0 317.93L375.0 317.93L376.0 317.93L377.0 317.93L378.0 317.93L379.0 317.93L380.0 317.93L381.0 317.93L381.2 317.93L382.0 317.93L382.8 317.93L382.8 315.89L383.0 315.89L384.0 315.89L385.0 315.89L386.0 315.89L387.0 315.89L388.0 315.89L389.0 315.89L390.0 315.89L391.0 315.89L392.0 315.89L393.0 315.89L394.0 315.89L395.0 315.89L396.0 315.89L397.0 315.89L398.0 315.89L399.0 315.89L400.0 315.89L401.0 315.89L402.0 315.89L403.0 315.89L404.0 315.89L405.0 315.89L406.0 315.89L407.0 315.89L408.0 315.89L409.0 315.89L410.0 315.89L411.0 315.89L412.0 315.89L413.0 315.89L414.0 315.89L415.0 315.89L416.0 315.89L417.0 315.89L418.0 315.89L419.0 315.89L420.0 315.89L421.0 315.89L422.0 315.89L423.0 315.89L424.0 315.89L424.0 315.89L425.0 315.89L426.0 315.89L427.0 315.89L428.0 315.89L429.0 315.89L430.0 315.89L431.0 315.89L432.0 315.89L433.0 315.89L434.0 315.89L435.0 315.89L436.0 315.89L437.0 315.89L438.0 315.89L439.0 315.89L440.0 315.89L441.0 315.89L442.0 315.89L443.0 315.89L444.0 315.89L445.0 315.89L446.0 315.89L447.0 315.89L448.0 315.89L449.0 315.89L450.0 315.89L451.0 315.89L452.0 315.89L453.0 315.89L454.0 315.89L455.0 315.89L456.0 315.89L457.0 315.89L458.0 315.89L459.0 315.89L460.0 315.89L461.0 315.89L462.0 315.89L463.0 311.80L463.6 311.80L463.6 309.76L464.0 309.76L464.0 307.71L465.0 307.71L465.0 305.67L466.0 305.67L466.0 303.62L467.0 303.62L467.0 301.58L468.0 301.58L468.0 299.54L468.3 299.54L468.3 297.49L469.0 297.49L470.0 297.49L471.0 297.49L472.0 297.49L473.0 297.49L474.0 297.49L474.0 295.45L475.0 295.45L476.0 295.45L477.0 295.45L477.8 295.45L478.0 295.45L479.0 295.45L479.0 297.49L480.0 297.49L480.0 299.54L481.0 299.54L481.0 301.58L482.0 301.58L482.0 303.62L482.6 303.62L482.6 301.58L483.0 301.58L483.0 303.62L484.0 303.62L484.0 305.67L485.0 305.67L485.8 305.67L486.0 305.67L487.0 305.67L488.0 299.54L489.0 299.54L489.0 297.49L489.9 293.40L490.0 293.40L490.0 295.45L491.0 295.45L492.0 295.45L492.0 293.40L493.0 293.40L494.0 293.40L495.0 293.40L495.0 291.36L496.0 295.45L497.0 287.27L498.0 291.36L499.0 287.27L500.0 287.27L500.0 289.32L500.9 289.32L501.0 289.32L502.0 285.23L503.0 285.23L504.0 285.23L504.0 287.27L505.0 287.27L505.0 285.23L506.0 285.23L506.0 287.27L507.0 287.27L508.0 287.27L509.0 287.27L509.0 285.23L510.0 285.23L510.8 285.23L511.0 285.23L512.0 285.23L513.0 285.23L514.0 285.23L515.0 281.14L516.0 285.23L517.0 285.23L517.7 285.23L518.0 285.23L519.0 285.23L520.0 285.23L521.0 285.23L522.0 285.23L523.0 285.23L524.0 285.23L524.0 283.18L524.7 283.18L524.7 285.23L525.0 285.23L526.0 285.23L527.0 285.23L527.0 287.27L528.0 287.27L529.0 283.18L530.0 287.27L530.4 287.27L531.0 287.27L531.0 285.23L532.0 285.23L532.0 283.18L533.0 283.18L533.0 281.14L533.2 281.14L534.0 281.14L534.0 283.18L535.0 277.05L536.0 277.05L536.0 275.01L537.0 275.01L537.0 272.96L537.0 272.96L538.0 272.96L538.0 275.01L539.0 275.01L539.0 277.05L539.9 277.05L539.9 275.01L540.0 275.01L540.0 277.05L541.0 277.05L542.0 277.05L543.0 277.05L544.0 277.05L544.0 279.10L545.0 279.10L545.0 277.05L545.6 277.05L546.0 277.05L546.0 279.10L547.0 279.10L547.0 281.14L548.0 281.14L548.0 279.10L549.0 279.10L549.7 279.10L549.7 281.14L550.0 281.14L551.0 281.14L551.0 279.10L552.0 279.10L553.0 279.10L553.0 281.14L554.0 281.14L554.0 279.10L555.0 279.10L556.0 275.01L556.7 275.01L556.7 277.05L557.0 277.05L558.0 277.05L559.0 277.05L560.0 277.05L561.0 277.05L561.0 275.01L562.0 275.01L562.0 277.05L563.0 277.05L563.0 275.01L564.0 275.01L564.0 277.05L565.0 277.05L566.0 277.05L567.0 277.05L567.8 277.05L568.0 277.05L569.0 277.05L570.0 277.05L571.0 277.05L572.0 277.05L573.0 277.05L574.0 277.05L575.0 281.14L576.0 281.14L576.0 279.10L577.0 279.10L578.0 279.10L579.0 279.10L580.0 279.10L581.0 279.10L582.0 279.10L583.0 279.10L584.0 279.10L585.0 275.01L586.0 279.10L587.0 279.10L588.0 279.10L588.7 275.01L589.0 279.10L590.0 279.10L591.0 279.10L591.0 281.14L592.0 281.14L593.0 281.14L594.0 285.23L595.0 285.23L595.0 283.18L596.0 283.18L597.0 283.18L598.0 283.18L598.2 283.18L598.2 281.14L599.0 281.14L599.0 283.18L600.0 287.27L601.0 287.27L601.0 285.23L602.0 285.23L603.0 285.23L604.0 285.23L605.0 285.23L605.0 283.18L606.0 289.32L607.0 289.32L607.0 287.27L607.7 287.27L608.0 287.27L609.0 287.27L610.0 283.18L611.0 287.27L612.0 287.27L613.0 287.27L614.0 287.27L614.0 285.23L615.0 285.23L616.0 285.23L617.0 285.23L618.0 285.23L619.0 285.23L620.0 285.23L620.3 285.23L621.0 285.23L622.0 285.23L622.0 287.27L623.0 287.27L624.0 287.27L625.0 287.27L625.0 289.32L626.0 289.32L626.7 289.32L627.0 289.32L628.0 293.40L629.0 289.32L630.0 289.32L631.0 293.40L632.0 289.32L633.0 289.32L634.0 289.32L635.0 289.32L636.0 289.32L637.0 289.32L638.0 289.32L639.0 293.40L639.3 289.32L640.0 289.32L641.0 289.32L642.0 289.32L643.0 289.32L644.0 289.32L645.0 289.32L646.0 289.32L647.0 289.32L647.0 287.27L648.0 287.27L649.0 287.27L650.0 287.27L651.0 283.18L652.0 287.27L652.0 283.18L653.0 287.27L654.0 287.27L655.0 287.27L656.0 287.27L657.0 287.27L658.0 287.27L659.0 287.27L660.0 287.27L661.0 287.27L661.5 287.27L662.0 287.27L663.0 287.27L664.0 287.27L664.0 289.32L665.0 289.32L666.0 289.32L666.0 291.36L667.0 291.36L667.8 291.36L668.0 291.36L669.0 291.36L670.0 291.36L671.0 291.36L671.0 293.40L672.0 293.40L672.0 291.36L673.0 287.27L674.0 287.27L674.0 289.32L675.0 289.32L676.0 289.32L677.0 289.32L677.3 289.32L678.0 289.32L679.0 289.32L680.0 289.32L681.0 289.32L682.0 289.32L683.0 289.32L684.0 289.32L685.0 289.32L686.0 289.32L687.0 289.32L688.0 289.32L689.0 289.32L690.0 289.32L691.0 285.23L692.0 291.36L693.0 291.36L693.0 289.32L694.0 289.32L695.0 289.32L695.0 291.36L696.0 291.36L696.0 289.32L697.0 289.32L698.0 289.32L699.0 289.32L700.0 289.32L701.0 289.32L702.0 289.32L703.0 289.32L704.0 289.32L705.0 289.32L705.0 291.36L706.0 285.23L707.0 289.32L708.0 285.23L709.0 289.32L710.0 289.32L711.0 289.32L712.0 289.32L712.0 291.36L713.0 291.36L714.0 291.36L715.0 291.36L716.0 291.36L717.0 291.36L718.0 291.36L718.0 293.40L719.0 293.40L719.0 291.36L720.0 291.36L720.0 293.40L721.0 293.40L721.0 291.36L722.0 291.36L723.0 291.36L723.1 291.36L724.0 287.27L725.0 287.27L726.0 287.27L727.0 287.27L728.0 287.27L729.0 287.27L730.0 287.27L731.0 287.27L732.0 287.27L733.0 287.27L733.4 287.27L734.0 287.27L734.0 285.23L734.7 281.14L735.0 281.14L735.0 283.18L736.0 283.18L737.0 283.18L738.0 283.18L738.5 283.18L739.0 283.18L739.0 285.23L740.0 285.23L741.0 285.23L741.0 287.27L741.1 287.27L742.0 287.27L743.0 287.27L744.0 291.36L745.0 287.27L746.0 287.27L747.0 287.27L747.0 285.23L748.0 285.23L748.0 287.27L749.0 287.27L750.0 287.27L750.0 285.23L751.0 285.23L751.0 287.27L752.0 287.27L753.0 287.27L754.0 287.27L755.0 287.27L756.0 291.36L757.0 291.36L758.0 287.27L759.0 287.27L760.0 287.27L761.0 287.27L761.7 287.27L762.0 287.27L763.0 287.27L764.0 283.18L764.2 287.27L765.0 287.27L766.0 287.27L767.0 287.27L768.0 287.27L769.0 287.27L770.0 287.27L771.0 287.27L772.0 287.27L773.0 287.27L773.0 289.32L774.0 283.18L775.0 287.27L776.0 287.27L777.0 287.27L778.0 287.27L779.0 287.27L780.0 287.27L781.0 287.27L781.0 289.32L782.0 289.32L782.0 287.27L783.0 287.27L784.0 287.27L785.0 287.27L786.0 287.27L787.0 287.27L788.0 287.27L789.0 287.27L790.0 287.27L791.0 287.27L792.0 287.27L793.0 287.27L794.0 283.18L795.0 287.27L796.0 287.27L797.0 287.27L798.0 287.27L799.0 287.27L800.0 283.18L801.0 287.27L802.0 287.27L803.0 287.27L804.0 287.27L805.0 287.27L806.0 287.27L807.0 287.27L808.0 283.18L809.0 287.27L810.0 287.27L811.0 287.27L812.0 287.27L813.0 287.27L814.0 287.27L815.0 283.18L815.6 287.27L816.0 287.27L817.0 287.27L817.0 285.23L818.0 285.23L818.2 285.23L818.2 287.27L819.0 287.27L819.0 285.23L820.0 285.23L821.0 285.23L822.0 285.23L822.0 287.27L823.0 287.27L823.0 285.23L824.0 285.23L825.0 285.23L826.0 285.23L827.0 285.23L828.0 285.23L829.0 285.23L830.0 285.23L831.0 285.23L832.0 285.23L833.0 285.23L833.6 285.23L834.0 285.23L835.0 285.23L836.0 285.23L837.0 285.23L837.0 287.27L838.0 287.27L838.8 287.27L839.0 287.27L840.0 287.27L841.0 287.27L841.0 289.32L842.0 289.32L843.0 289.32L844.0 289.32L845.0 289.32L846.0 289.32L846.5 289.32L846.5 287.27L847.0 291.36L848.0 291.36L849.0 291.36L850.0 287.27L851.0 291.36L852.0 291.36L853.0 291.36L854.0 291.36L855.0 291.36L855.0 293.40L856.0 293.40L856.7 293.40L857.0 293.40L858.0 293.40L859.0 293.40L860.0 293.40L861.0 293.40L862.0 293.40L862.0 295.45L863.0 295.45L864.0 295.45L864.4 295.45L865.0 295.45L866.0 295.45L867.0 295.45L868.0 295.45L868.0 297.49L869.0 297.49L870.0 297.49L871.0 297.49L872.0 297.49L872.1 297.49L873.0 297.49L874.0 297.49L875.0 297.49L875.0 299.54L876.0 299.54L877.0 299.54L878.0 299.54L879.0 299.54L880.0 299.54L881.0 299.54L882.0 299.54L883.0 299.54L884.0 299.54L885.0 299.54L885.0 301.58L885.0 301.58L886.0 301.58L887.0 301.58L888.0 301.58L889.0 301.58L890.0 301.58L891.0 301.58L892.0 301.58L893.0 301.58L894.0 301.58L895.0 301.58L895.0 303.62L896.0 303.62L897.0 303.62L897.8 303.62L898.0 303.62L899.0 303.62L900.0 303.62L901.0 303.62L902.0 303.62L903.0 303.62L904.0 303.62L905.0 303.62L905.0 305.67L906.0 305.67L907.0 305.67L908.0 305.67L909.0 305.67L910.0 305.67L910.7 305.67L911.0 305.67L912.0 305.67L913.0 305.67L914.0 305.67L915.0 305.67L915.0 307.71L916.0 307.71L917.0 307.71L918.0 307.71L919.0 307.71L920.0 307.71L921.0 307.71L921.0 307.71L922.0 307.71L923.0 307.71L923.0 309.76L924.0 309.76L925.0 309.76L926.0 309.76L926.1 309.76L927.0 309.76L928.0 309.76L929.0 309.76L930.0 309.76L931.0 309.76L931.2 309.76" stroke="#0072b2" stroke-width="2" fill="none"/>
<path d="M120.0 352.68L121.0 352.68L122.0 352.68L123.0 352.68L124.0 352.68L125.0 352.68L126.0 352.68L127.0 352.68L128.0 352.68L129.0 352.68L130.0 352.68L131.0 352.68L132.0 352.68L133.0 352.68L134.0 352.68L135.0 352.68L136.0 352.68L137.0 352.68L138.0 352.68L139.0 352.68L140.0 352.68L140.0 354.72L141.0 354.72L142.0 354.72L142.2 354.72L143.0 354.72L144.0 354.72L145.0 354.72L146.0 354.72L147.0 354.72L148.0 354.72L149.0 354.72L150.0 354.72L151.0 354.72L152.0 354.72L153.0 354.72L154.0 354.72L155.0 354.72L156.0 354.72L157.0 354.72L158.0 354.72L159.0 354.72L160.0 354.72L161.0 354.72L162.0 354.72L163.0 354.72L164.0 354.72L164.3 354.72L165.0 354.72L166.0 354.72L166.0 356.77L167.0 356.77L167.5 356.77L168.0 356.77L169.0 356.77L170.0 356.77L171.0 356.77L172.0 356.77L173.0 356.77L174.0 356.77L175.0 356.77L176.0 356.77L177.0 356.77L178.0 356.77L179.0 356.77L180.0 356.77L181.0 356.77L182.0 356.77L183.0 356.77L184.0 356.77L185.0 356.77L186.0 356.77L187.0 356.77L188.0 356.77L189.0 356.77L189.7 356.77L190.0 356.77L191.0 356.77L192.0 356.77L192.0 358.81L192.8 358.81L193.0 358.81L194.0 358.81L195.0 358.81L196.0 358.81L197.0 358.81L198.0 358.81L199.0 358.81L200.0 358.81L201.0 358.81L202.0 358.81L203.0 358.81L204.0 358.81L205.0 358.81L206.0 358.81L207.0 358.81L208.0 358.81L209.0 358.81L210.0 358.81L211.0 358.81L212.0 358.81L213.0 358.81L214.0 358.81L215.0 358.81L216.0 358.81L217.0 358.81L218.0 358.81L219.0 358.81L220.0 358.81L221.0 358.81L222.0 358.81L223.0 358.81L224.0 358.81L224.5 358.81L225.0 358.81L226.0 358.81L227.0 358.81L227.0 360.86L227.7 360.86L228.0 360.86L229.0 360.86L230.0 360.86L231.0 360.86L232.0 360.86L233.0 360.86L234.0 360.86L235.0 360.86L236.0 360.86L237.0 360.86L238.0 360.86L239.0 360.86L240.0 360.86L241.0 360.86L242.0 360.86L243.0 360.86L244.0 360.86L245.0 360.86L246.0 360.86L247.0 360.86L248.0 360.86L249.0 360.86L250.0 360.86L251.0 360.86L252.0 360.86L253.0 360.86L254.0 360.86L255.0 360.86L255.0 362.90L256.0 362.90L256.2 362.90L257.0 362.90L258.0 362.90L259.0 362.90L260.0 362.90L261.0 362.90L262.0 362.90L263.0 362.90L264.0 362.90L265.0 362.90L266.0 362.90L267.0 362.90L268.0 362.90L269.0 362.90L270.0 362.90L271.0 362.90L272.0 362.90L273.0 362.90L274.0 362.90L275.0 362.90L276.0 362.90L277.0 362.90L278.0 362.90L279.0 362.90L280.0 362.90L281.0 362.90L282.0 362.90L283.0 362.90L284.0 362.90L284.7 362.90L285.0 362.90L286.0 362.90L286.0 364.94L287.0 364.94L287.8 364.94L288.0 364.94L289.0 364.94L290.0 364.94L291.0 364.94L292.0 364.94L293.0 364.94L294.0 364.94L295.0 364.94L296.0 364.94L297.0 364.94L298.0 364.94L299.0 364.94L300.0 364.94L301.0 364.94L302.0 364.94L303.0 364.94L304.0 364.94L305.0 364.94L306.0 364.94L307.0 364.94L308.0 364.94L309.0 364.94L310.0 364.94L310.0 364.94L311.0 364.94L311.0 366.99L312.0 366.99L313.0 366.99L313.2 366.99L314.0 366.99L315.0 366.99L316.0 366.99L317.0 366.99L318.0 366.99L319.0 366.99L320.0 366.99L321.0 366.99L322.0 366.99L323.0 366.99L324.0 366.99L325.0 366.99L326.0 366.99L327.0 366.99L328.0 366.99L329.0 366.99L330.0 366.99L331.0 366.99L332.0 366.99L333.0 366.99L334.0 366.99L335.0 366.99L336.0 366.99L337.0 366.99L338.0 366.99L339.0 366.99L340.0 366.99L341.0 366.99L342.0 366.99L343.0 366.99L344.0 366.99L344.8 366.99L345.0 366.99L346.0 366.99L346.0 369.03L347.0 369.03L348.0 369.03L348.0 369.03L349.0 369.03L350.0 369.03L351.0 369.03L352.0 369.03L353.0 369.03L354.0 369.03L355.0 369.03L356.0 369.03L357.0 369.03L358.0 369.03L359.0 369.03L360.0 369.03L361.0 369.03L362.0 369.03L363.0 369.03L364.0 369.03L365.0 369.03L366.0 369.03L367.0 369.03L367.0 369.03L368.0 369.03L369.0 369.03L369.0 366.99L370.0 366.99L370.2 366.99L371.0 366.99L372.0 366.99L373.0 366.99L373.0 364.94L374.0 364.94L375.0 364.94L376.0 364.94L376.5 364.94L377.0 364.94L378.0 364.94L379.0 364.94L380.0 364.94L381.0 364.94L382.0 364.94L382.0 362.90L383.0 362.90L384.0 362.90L385.0 362.90L386.0 362.90L387.0 362.90L388.0 362.90L389.0 362.90L389.2 362.90L390.0 362.90L391.0 362.90L392.0 362.90L393.0 362.90L394.0 362.90L395.0 362.90L396.0 362.90L397.0 362.90L398.0 362.90L399.0 362.90L400.0 362.90L401.0 362.90L402.0 362.90L403.0 362.90L404.0 362.90L405.0 362.90L406.0 362.90L407.0 362.90L408.0 362.90L409.0 362.90L410.0 362.90L411.0 362.90L412.0 362.90L413.0 362.90L414.0 362.90L415.0 362.90L416.0 362.90L417.0 362.90L418.0 362.90L419.0 362.90L420.0 362.90L421.0 362.90L422.0 362.90L423.0 362.90L424.0 362.90L424.0 362.90L424.0 360.86L425.0 360.86L426.0 360.86L427.0 360.86L428.0 360.86L429.0 360.86L430.0 360.86L431.0 360.86L432.0 360.86L433.0 360.86L434.0 360.86L435.0 360.86L436.0 360.86L437.0 360.86L438.0 360.86L439.0 360.86L440.0 360.86L441.0 360.86L442.0 360.86L443.0 360.86L444.0 360.86L445.0 360.86L446.0 360.86L447.0 360.86L448.0 360.86L449.0 360.86L450.0 360.86L451.0 360.86L452.0 360.86L453.0 360.86L454.0 360.86L455.0 360.86L456.0 360.86L457.0 360.86L458.0 360.86L458.8 360.86L459.0 360.86L459.0 358.81L460.0 344.50L461.0 330.20L461.4 324.06L462.0 317.93L463.0 305.67L464.0 293.40L465.0 283.18L465.2 283.18L465.2 281.14L466.0 281.14L466.0 279.10L467.0 275.01L468.0 275.01L468.0 272.96L469.0 272.96L469.0 270.92L469.9 270.92L469.9 268.88L470.0 268.88L471.0 268.88L471.0 266.83L472.0 266.83L472.0 264.79L473.0 264.79L473.0 262.74L474.0 262.74L475.0 262.74L475.0 260.70L476.0 260.70L476.0 258.66L477.0 258.66L477.8 258.66L477.8 256.61L478.0 256.61L479.0 256.61L480.0 256.61L480.0 254.57L481.0 254.57L482.0 254.57L483.0 254.57L484.0 254.57L484.0 252.52L484.2 252.52L485.0 256.61L486.0 260.70L487.0 260.70L487.0 262.74L487.3 262.74L487.3 264.79L488.0 275.01L488.9 287.27L489.0 287.27L490.0 279.10L491.0 272.96L492.0 264.79L492.1 264.79L493.0 264.79L493.0 262.74L494.0 262.74L494.0 260.70L495.0 256.61L496.0 256.61L496.0 254.57L496.8 254.57L496.8 252.52L497.0 252.52L498.0 252.52L499.0 252.52L499.0 254.57L500.0 254.57L501.0 254.57L501.0 256.61L502.0 256.61L503.0 256.61L503.8 256.61L503.8 258.66L504.0 258.66L505.0 258.66L505.0 260.70L506.0 260.70L506.0 262.74L507.0 262.74L507.0 264.79L508.0 264.79L508.0 266.83L508.2 266.83L509.0 266.83L509.0 268.88L510.0 268.88L510.0 270.92L510.8 270.92L510.8 272.96L511.0 272.96L511.0 275.01L512.0 275.01L512.0 277.05L513.0 277.05L513.0 279.10L514.0 283.18L514.9 283.18L514.9 285.23L515.0 285.23L516.0 289.32L517.0 289.32L517.0 291.36L518.0 295.45L519.0 295.45L519.0 297.49L520.0 301.58L520.6 301.58L521.0 301.58L521.0 303.62L522.0 303.62L522.0 305.67L523.0 305.67L523.0 307.71L524.0 307.71L524.0 309.76L525.0 309.76L525.0 311.80L526.0 311.80L526.0 313.84L526.0 313.84L527.0 313.84L527.0 315.89L528.0 315.89L528.0 317.93L529.0 317.93L529.0 319.98L530.0 319.98L530.0 322.02L531.0 322.02L531.0 324.06L531.7 324.06L531.7 326.11L532.0 326.11L533.0 326.11L533.0 328.15L534.0 328.15L534.0 330.20L535.0 330.20L535.0 332.24L536.0 332.24L536.0 334.28L537.0 334.28L537.0 336.33L538.0 336.33L538.0 338.37L538.6 338.37L539.0 338.37L540.0 338.37L540.0 340.42L541.0 340.42L542.0 340.42L542.0 342.46L542.8 342.46L543.0 342.46L543.0 344.50L544.0 344.50L545.0 344.50L545.0 346.55L546.0 346.55L547.0 346.55L547.0 348.59L548.0 348.59L548.0 350.64L549.0 350.64L550.0 350.64L550.0 352.68L550.7 352.68L551.0 352.68L551.0 354.72L552.0 354.72L553.0 354.72L554.0 354.72L554.0 356.77L555.0 356.77L556.0 356.77L557.0 356.77L557.0 358.81L558.0 358.81L559.0 358.81L559.9 358.81L559.9 360.86L560.0 360.86L561.0 360.86L562.0 360.86L563.0 360.86L563.0 362.90L564.0 362.90L565.0 362.90L566.0 362.90L566.0 364.94L567.0 364.94L568.0 364.94L569.0 364.94L569.0 366.99L570.0 366.99L571.0 366.99L572.0 366.99L573.0 366.99L573.0 369.03L574.0 369.03L575.0 369.03L576.0 369.03L576.0 371.08L576.6 371.08L577.0 371.08L578.0 371.08L579.0 371.08L580.0 371.08L580.0 373.12L581.0 373.12L582.0 373.12L583.0 373.12L584.0 373.12L585.0 373.12L586.0 373.12L586.0 375.16L587.0 375.16L588.0 375.16L589.0 375.16L590.0 375.16L591.0 375.16L591.8 375.16L591.8 377.21L592.0 377.21L593.0 377.21L594.0 377.21L595.0 377.21L596.0 377.21L597.0 377.21L598.0 377.21L599.0 377.21L599.0 379.25L600.0 379.25L601.0 379.25L602.0 379.25L603.0 379.25L604.0 379.25L605.0 379.25L606.0 379.25L607.0 379.25L607.0 381.30L608.0 381.30L609.0 381.30L610.0 381.30L610.5 381.30L611.0 381.30L612.0 381.30L613.0 381.30L614.0 381.30L615.0 381.30L615.0 383.34L616.0 383.34L617.0 383.34L618.0 383.34L619.0 383.34L620.0 383.34L621.0 383.34L622.0 383.34L623.0 383.34L624.0 383.34L624.0 385.38L625.0 385.38L626.0 385.38L626.7 385.38L627.0 385.38L628.0 385.38L629.0 385.38L630.0 385.38L631.0 385.38L632.0 385.38L633.0 385.38L634.0 385.38L635.0 385.38L636.0 385.38L636.0 387.43L637.0 387.43L638.0 387.43L639.0 387.43L640.0 387.43L641.0 387.43L642.0 387.43L643.0 387.43L644.0 387.43L644.4 387.43L645.0 387.43L646.0 387.43L647.0 387.43L648.0 387.43L649.0 387.43L650.0 387.43L651.0 387.43L652.0 387.43L652.0 387.43L653.0 387.43L654.0 387.43L655.0 387.43L655.0 389.47L656.0 389.47L657.0 389.47L658.0 389.47L659.0 389.47L660.0 389.47L661.0 389.47L662.0 389.47L663.0 389.47L664.0 389.47L665.0 389.47L666.0 389.47L667.0 389.47L668.0 389.47L669.0 389.47L670.0 389.47L671.0 389.47L672.0 389.47L673.0 389.47L674.0 389.47L674.2 389.47L675.0 389.47L676.0 389.47L677.0 389.47L678.0 389.47L679.0 389.47L680.0 389.47L681.0 389.47L682.0 389.47L683.0 389.47L684.0 389.47L685.0 389.47L686.0 389.47L687.0 389.47L687.0 391.52L688.0 391.52L689.0 391.52L690.0 391.52L691.0 391.52L692.0 391.52L693.0 391.52L694.0 391.52L695.0 391.52L696.0 391.52L696.3 391.52L697.0 391.52L698.0 391.52L699.0 391.52L700.0 391.52L701.0 391.52L702.0 391.52L703.0 391.52L704.0 391.52L705.0 391.52L706.0 391.52L707.0 391.52L708.0 391.52L709.0 391.52L710.0 391.52L711.0 391.52L712.0 391.52L713.0 391.52L714.0 391.52L715.0 391.52L716.0 391.52L717.0 391.52L718.0 391.52L719.0 391.52L720.0 391.52L721.0 391.52L722.0 391.52L723.0 391.52L724.0 391.52L725.0 391.52L726.0 391.52L727.0 391.52L727.0 391.52L728.0 391.52L728.0 393.56L728.3 393.56L729.0 393.56L730.0 393.56L731.0 393.56L732.0 393.56L733.0 393.56L734.0 393.56L735.0 393.56L736.0 393.56L737.0 393.56L738.0 393.56L739.0 393.56L740.0 393.56L741.0 393.56L742.0 393.56L743.0 393.56L744.0 393.56L745.0 393.56L746.0 393.56L747.0 393.56L748.0 393.56L749.0 393.56L750.0 393.56L751.0 393.56L752.0 393.56L753.0 393.56L754.0 393.56L755.0 393.56L756.0 393.56L757.0 393.56L758.0 393.56L759.0 393.56L760.0 393.56L761.0 393.56L762.0 393.56L763.0 393.56L764.0 393.56L765.0 393.56L766.0 393.56L767.0 393.56L768.0 393.56L769.0 393.56L770.0 393.56L771.0 393.56L772.0 393.56L773.0 393.56L774.0 393.56L775.0 393.56L776.0 393.56L777.0 393.56L777.1 393.56L778.0 393.56L778.0 395.60L779.0 395.60L780.0 395.60L781.0 395.60L782.0 395.60L783.0 395.60L784.0 395.60L785.0 395.60L786.0 395.60L787.0 395.60L788.0 395.60L789.0 395.60L790.0 395.60L791.0 395.60L792.0 395.60L793.0 395.60L794.0 395.60L795.0 395.60L796.0 395.60L797.0 395.60L798.0 395.60L799.0 395.60L800.0 395.60L801.0 395.60L802.0 395.60L803.0 395.60L804.0 395.60L805.0 395.60L806.0 395.60L807.0 395.60L808.0 395.60L809.0 395.60L810.0 395.60L811.0 395.60L812.0 395.60L813.0 395.60L814.0 395.60L815.0 395.60L816.0 395.60L817.0 395.60L818.0 395.60L819.0 395.60L820.0 395.60L821.0 395.60L822.0 395.60L823.0 395.60L824.0 395.60L825.0 395.60L826.0 395.60L827.0 395.60L828.0 395.60L829.0 395.60L830.0 395.60L831.0 395.60L832.0 395.60L833.0 395.60L834.0 395.60L835.0 395.60L836.0 395.60L837.0 395.60L838.0 395.60L839.0 395.60L840.0 395.60L841.0 395.60L841.3 395.60L842.0 395.60L842.0 397.65L843.0 397.65L843.9 397.65L844.0 397.65L845.0 397.65L846.0 397.65L847.0 397.65L848.0 397.65L849.0 397.65L850.0 397.65L851.0 397.65L852.0 397.65L853.0 397.65L854.0 397.65L855.0 397.65L856.0 397.65L857.0 397.65L858.0 397.65L859.0 397.65L860.0 397.65L861.0 397.65L862.0 397.65L863.0 397.65L864.0 397.65L865.0 397.65L866.0 397.65L867.0 397.65L868.0 397.65L869.0 397.65L870.0 397.65L871.0 397.65L872.0 397.65L873.0 397.65L874.0 397.65L875.0 397.65L876.0 397.65L877.0 397.65L878.0 397.65L879.0 397.65L880.0 397.65L881.0 397.65L882.0 397.65L883.0 397.65L884.0 397.65L885.0 397.65L886.0 397.65L887.0 397.65L888.0 397.65L889.0 397.65L890.0 397.65L891.0 397.65L892.0 397.65L893.0 397.65L894.0 397.65L895.0 397.65L896.0 397.65L897.0 397.65L898.0 397.65L899.0 397.65L900.0 397.65L901.0 397.65L902.0 397.65L903.0 397.65L904.0 397.65L905.0 397.65L906.0 397.65L907.0 397.65L908.0 397.65L909.0 397.65L910.0 397.65L911.0 397.65L912.0 397.65L913.0 397.65L914.0 397.65L915.0 397.65L916.0 397.65L917.0 397.65L918.0 397.65L919.0 397.65L920.0 397.65L921.0 397.65L922.0 397.65L923.0 397.65L924.0 397.65L925.0 397.65L926.0 397.65L927.0 397.65L928.0 397.65L928.7 397.65L929.0 397.65L929.0 399.69L930.0 399.69L930.0 401.74" stroke="#e51e10" stroke-width="2" fill="none"/>
<path d="M120.0 330.20L121.0 330.20L122.0 330.20L123.0 330.20L124.0 330.20L125.0 330.20L126.0 330.20L127.0 330.20L128.0 330.20L129.0 330.20L130.0 330.20L131.0 330.20L132.0 330.20L132.3 330.20L133.0 330.20L134.0 330.20L135.0 330.20L136.0 330.20L137.0 330.20L138.0 330.20L139.0 330.20L140.0 330.20L141.0 330.20L142.0 330.20L143.0 330.20L144.0 330.20L145.0 330.20L146.0 330.20L147.0 330.20L148.0 330.20L149.0 330.20L150.0 330.20L151.0 330.20L152.0 330.20L152.9 330.20L153.0 330.20L154.0 330.20L155.0 330.20L156.0 330.20L157.0 330.20L157.0 328.15L158.0 328.15L159.0 328.15L160.0 328.15L161.0 328.15L162.0 328.15L163.0 328.15L163.0 326.11L164.0 326.11L164.3 326.11L165.0 326.11L166.0 326.11L167.0 326.11L168.0 326.11L169.0 326.11L170.0 326.11L171.0 326.11L172.0 326.11L173.0 326.11L174.0 326.11L175.0 326.11L176.0 326.11L177.0 326.11L178.0 326.11L178.0 324.06L179.0 324.06L180.0 324.06L181.0 324.06L182.0 324.06L183.0 324.06L184.0 324.06L184.3 324.06L185.0 324.06L186.0 324.06L187.0 324.06L188.0 324.06L189.0 324.06L190.0 324.06L190.0 326.11L191.0 326.11L192.0 326.11L193.0 326.11L194.0 326.11L195.0 326.11L196.0 326.11L197.0 326.11L198.0 326.11L199.0 326.11L199.5 326.11L200.0 326.11L201.0 326.11L202.0 326.11L203.0 326.11L204.0 326.11L205.0 326.11L205.0 328.15L206.0 328.15L207.0 328.15L208.0 328.15L209.0 328.15L210.0 328.15L211.0 328.15L212.0 328.15L213.0 328.15L214.0 328.15L215.0 328.15L216.0 328.15L217.0 328.15L218.0 328.15L219.0 328.15L220.0 328.15L220.1 328.15L221.0 328.15L222.0 328.15L223.0 328.15L224.0 328.15L225.0 328.15L226.0 328.15L227.0 328.15L228.0 328.15L229.0 328.15L230.0 328.15L230.8 328.15L231.0 328.15L232.0 328.15L232.0 330.20L233.0 330.20L234.0 330.20L235.0 330.20L236.0 330.20L237.0 330.20L237.0 332.24L237.2 332.24L238.0 332.24L239.0 332.24L240.0 332.24L241.0 332.24L242.0 332.24L243.0 332.24L244.0 332.24L245.0 332.24L246.0 332.24L247.0 332.24L248.0 332.24L249.0 332.24L250.0 332.24L251.0 332.24L252.0 332.24L253.0 332.24L254.0 332.24L254.0 330.20L255.0 330.20L256.0 330.20L257.0 330.20L258.0 330.20L258.0 328.15L259.0 328.15L259.3 328.15L260.0 328.15L261.0 328.15L262.0 328.15L263.0 328.15L264.0 328.15L265.0 328.15L266.0 328.15L267.0 328.15L268.0 328.15L268.0 326.11L269.0 326.11L270.0 326.11L271.0 326.11L272.0 326.11L273.0 326.11L274.0 326.11L275.0 326.11L276.0 326.11L277.0 326.11L278.0 326.11L278.3 326.11L279.0 326.11L280.0 326.11L281.0 326.11L282.0 326.11L283.0 326.11L284.0 326.11L285.0 326.11L286.0 326.11L287.0 326.11L288.0 326.11L289.0 326.11L290.0 326.11L291.0 326.11L292.0 326.11L293.0 326.11L294.0 326.11L295.0 326.11L296.0 326.11L297.0 326.11L298.0 326.11L299.0 326.11L300.0 326.11L301.0 326.11L302.0 326.11L303.0 326.11L304.0 326.11L305.0 326.11L306.0 326.11L307.0 326.11L308.0 326.11L309.0 326.11L310.0 326.11L310.0 326.11L311.0 326.11L312.0 326.11L313.0 326.11L313.0 328.15L314.0 328.15L315.0 328.15L316.0 328.15L316.0 330.20L317.0 330.20L318.0 330.20L319.0 330.20L319.5 330.20L319.5 332.24L320.0 332.24L321.0 332.24L322.0 332.24L323.0 332.24L324.0 332.24L325.0 332.24L326.0 332.24L327.0 332.24L328.0 332.24L329.0 332.24L329.0 332.24L330.0 332.24L330.0 330.20L331.0 330.20L332.0 330.20L333.0 330.20L334.0 330.20L334.0 328.15L335.0 328.15L335.3 328.15L336.0 328.15L337.0 328.15L338.0 328.15L339.0 328.15L340.0 328.15L341.0 328.15L342.0 328.15L343.0 328.15L344.0 328.15L345.0 328.15L346.0 328.15L347.0 328.15L348.0 328.15L349.0 328.15L350.0 328.15L350.0 326.11L351.0 326.11L352.0 326.11L353.0 326.11L354.0 326.11L355.0 326.11L356.0 326.11L357.0 326.11L357.5 326.11L358.0 326.11L359.0 326.11L360.0 326.11L361.0 326.11L362.0 326.11L363.0 326.11L364.0 326.11L365.0 326.11L366.0 326.11L367.0 326.11L368.0 326.11L369.0 326.11L370.0 326.11L371.0 326.11L372.0 326.11L373.0 326.11L373.3 326.11L374.0 326.11L375.0 326.11L376.0 326.11L377.0 326.11L378.0 326.11L379.0 326.11L380.0 326.11L381.0 326.11L382.0 326.11L383.0 326.11L384.0 326.11L385.0 326.11L386.0 326.11L387.0 326.11L388.0 326.11L389.0 326.11L389.0 324.06L389.2 324.06L390.0 324.06L391.0 324.06L392.0 324.06L393.0 324.06L394.0 324.06L395.0 324.06L396.0 324.06L397.0 324.06L398.0 324.06L399.0 324.06L400.0 324.06L401.0 324.06L402.0 324.06L403.0 324.06L404.0 324.06L405.0 324.06L405.0 324.06L406.0 324.06L406.0 326.11L407.0 326.11L408.0 326.11L409.0 326.11L410.0 326.11L411.0 326.11L412.0 326.11L413.0 326.11L414.0 326.11L415.0 326.11L416.0 326.11L416.0 328.15L417.0 328.15L418.0 328.15L419.0 328.15L420.0 328.15L420.8 328.15L421.0 328.15L422.0 328.15L423.0 328.15L423.0 330.20L424.0 330.20L424.0 330.20L424.0 332.24L425.0 332.24L426.0 332.24L427.0 332.24L428.0 332.24L429.0 332.24L430.0 332.24L431.0 332.24L432.0 332.24L433.0 332.24L434.0 332.24L435.0 332.24L436.0 332.24L437.0 332.24L438.0 332.24L439.0 332.24L439.8 332.24L440.0 332.24L441.0 332.24L441.0 330.20L442.0 330.20L443.0 330.20L444.0 330.20L445.0 330.20L445.0 328.15L446.0 328.15L446.2 328.15L447.0 328.15L448.0 328.15L449.0 328.15L450.0 328.15L451.0 328.15L451.0 326.11L452.0 326.11L453.0 326.11L454.0 326.11L455.0 326.11L456.0 326.11L457.0 326.11L458.0 326.11L458.8 326.11L458.8 324.06L459.0 324.06L460.0 324.06L461.0 324.06L462.0 324.06L463.0 324.06L464.0 324.06L465.0 324.06L465.2 324.06L466.0 324.06L467.0 324.06L468.0 324.06L469.0 324.06L470.0 324.06L471.0 324.06L472.0 324.06L473.0 324.06L474.0 324.06L475.0 324.06L476.0 324.06L477.0 324.06L478.0 324.06L479.0 324.06L480.0 324.06L481.0 324.06L482.0 324.06L483.0 324.06L484.0 324.06L485.0 324.06L486.0 324.06L487.0 324.06L488.0 324.06L489.0 324.06L490.0 324.06L491.0 324.06L492.0 324.06L493.0 324.06L494.0 324.06L495.0 324.06L496.0 324.06L497.0 324.06L498.0 324.06L498.4 324.06L499.0 324.06L499.7 324.06L499.7 322.02L500.0 322.02L501.0 322.02L502.0 322.02L503.0 322.02L504.0 322.02L505.0 322.02L506.0 322.02L507.0 322.02L507.9 322.02L508.0 322.02L509.0 322.02L509.0 324.06L509.5 324.06L510.0 324.06L511.0 324.06L512.0 324.06L513.0 324.06L514.0 324.06L515.0 324.06L516.0 324.06L517.0 324.06L518.0 324.06L519.0 324.06L520.0 324.06L521.0 324.06L522.0 324.06L523.0 324.06L524.0 324.06L525.0 324.06L526.0 324.06L526.0 324.06L527.0 324.06L528.0 324.06L529.0 324.06L530.0 324.06L531.0 324.06L532.0 324.06L533.0 324.06L534.0 324.06L534.0 326.11L535.0 326.11L536.0 326.11L537.0 326.11L538.0 326.11L539.0 326.11L540.0 326.11L541.0 326.11L542.0 326.11L542.8 326.11L543.0 326.11L544.0 326.11L545.0 326.11L546.0 326.11L546.0 328.15L547.0 328.15L548.0 328.15L548.5 328.15L549.0 328.15L550.0 328.15L550.0 330.20L551.0 330.20L552.0 330.20L553.0 330.20L553.8 330.20L553.8 332.24L554.0 332.24L555.0 332.24L556.0 332.24L557.0 332.24L558.0 332.24L559.0 332.24L560.0 332.24L561.0 332.24L562.0 332.24L563.0 332.24L564.0 332.24L565.0 332.24L565.0 330.20L566.0 330.20L567.0 330.20L568.0 330.20L569.0 330.20L570.0 330.20L570.0 330.20L571.0 330.20L572.0 330.20L573.0 330.20L574.0 330.20L574.0 328.15L575.0 328.15L576.0 328.15L576.0 328.15L577.0 328.15L578.0 328.15L579.0 328.15L580.0 328.15L581.0 328.15L582.0 328.15L583.0 328.15L583.0 326.11L584.0 326.11L585.0 326.11L586.0 326.11L587.0 326.11L588.0 326.11L589.0 326.11L590.0 326.11L591.0 326.11L592.0 326.11L593.0 326.11L594.0 326.11L595.0 326.11L595.0 324.06L595.0 324.06L596.0 324.06L597.0 324.06L598.0 324.06L599.0 324.06L600.0 324.06L601.0 324.06L602.0 324.06L603.0 324.06L604.0 324.06L605.0 324.06L606.0 324.06L606.0 322.02L607.0 322.02L607.0 324.06L608.0 324.06L609.0 324.06L610.0 324.06L611.0 324.06L611.0 322.02L612.0 322.02L612.0 324.06L613.0 324.06L614.0 324.06L614.0 324.06L615.0 324.06L616.0 324.06L617.0 324.06L618.0 324.06L618.0 322.02L619.0 322.02L620.0 322.02L620.3 322.02L621.0 322.02L622.0 322.02L623.0 322.02L624.0 322.02L625.0 322.02L626.0 322.02L627.0 322.02L627.0 324.06L628.0 324.06L628.0 322.02L629.0 322.02L630.0 322.02L631.0 322.02L632.0 322.02L633.0 322.02L633.0 322.02L634.0 322.02L635.0 322.02L636.0 322.02L637.0 322.02L638.0 322.02L638.0 324.06L639.0 324.06L640.0 324.06L641.0 324.06L642.0 324.06L643.0 324.06L644.0 324.06L645.0 324.06L645.7 324.06L646.0 324.06L647.0 324.06L648.0 324.06L649.0 324.06L650.0 324.06L651.0 324.06L652.0 324.06L653.0 324.06L654.0 324.06L655.0 324.06L656.0 324.06L657.0 324.06L658.0 324.06L659.0 324.06L660.0 324.06L661.0 324.06L662.0 324.06L662.0 322.02L663.0 322.02L663.0 324.06L664.0 324.06L664.7 324.06L665.0 324.06L666.0 324.06L666.0 326.11L667.0 326.11L668.0 326.11L669.0 326.11L670.0 326.11L671.0 326.11L672.0 326.11L673.0 326.11L674.0 326.11L674.0 328.15L675.0 328.15L676.0 328.15L677.0 328.15L677.3 328.15L678.0 328.15L678.0 330.20L679.0 330.20L679.0 328.15L680.0 328.15L681.0 328.15L682.0 328.15L683.0 328.15L684.0 328.15L685.0 328.15L686.0 328.15L687.0 328.15L688.0 328.15L689.0 328.15L690.0 328.15L691.0 328.15L692.0 328.15L693.0 328.15L694.0 328.15L695.0 328.15L696.0 328.15L697.0 328.15L698.0 328.15L699.0 328.15L700.0 328.15L701.0 328.15L702.0 328.15L702.7 328.15L703.0 328.15L704.0 328.15L705.0 328.15L705.0 330.20L706.0 330.20L707.0 330.20L708.0 330.20L709.0 330.20L709.0 332.24L709.0 332.24L710.0 332.24L710.0 330.20L711.0 330.20L712.0 330.20L712.0 328.15L712.9 328.15L712.9 326.11L713.0 326.11L714.0 326.11L715.0 326.11L716.0 326.11L717.0 326.11L718.0 326.11L719.0 326.11L720.0 326.11L721.0 326.11L722.0 326.11L723.0 326.11L724.0 326.11L725.0 326.11L726.0 326.11L727.0 326.11L728.0 326.11L729.0 326.11L730.0 326.11L731.0 326.11L732.0 326.11L733.0 326.11L734.0 326.11L735.0 326.11L736.0 326.11L737.0 326.11L738.0 326.11L738.5 326.11L739.0 326.11L740.0 326.11L741.0 326.11L741.1 326.11L742.0 326.11L743.0 326.11L744.0 326.11L745.0 326.11L746.0 326.11L747.0 326.11L748.0 326.11L749.0 326.11L750.0 326.11L751.0 326.11L752.0 326.11L753.0 326.11L754.0 326.11L755.0 326.11L756.0 326.11L757.0 326.11L758.0 326.11L759.0 326.11L760.0 326.11L761.0 326.11L761.7 326.11L762.0 326.11L763.0 326.11L764.0 326.11L765.0 326.11L766.0 326.11L766.0 328.15L766.8 328.15L767.0 328.15L768.0 328.15L769.0 328.15L770.0 328.15L771.0 328.15L772.0 328.15L773.0 328.15L774.0 328.15L775.0 328.15L776.0 328.15L777.0 328.15L778.0 328.15L779.0 328.15L780.0 328.15L781.0 328.15L782.0 328.15L783.0 328.15L784.0 328.15L785.0 328.15L786.0 328.15L787.0 328.15L788.0 328.15L789.0 328.15L790.0 328.15L791.0 328.15L792.0 328.15L793.0 328.15L794.0 328.15L795.0 328.15L796.0 328.15L797.0 328.15L797.6 328.15L798.0 328.15L799.0 328.15L800.0 328.15L801.0 328.15L802.0 328.15L802.0 330.20L802.8 330.20L803.0 330.20L804.0 330.20L805.0 330.20L806.0 330.20L807.0 330.20L807.0 332.24L808.0 332.24L809.0 332.24L810.0 332.24L811.0 332.24L812.0 332.24L812.0 334.28L813.0 334.28L813.0 334.28L814.0 334.28L815.0 334.28L816.0 334.28L817.0 334.28L818.0 334.28L819.0 334.28L820.0 334.28L821.0 334.28L822.0 334.28L823.0 334.28L824.0 334.28L825.0 334.28L826.0 334.28L827.0 334.28L828.0 334.28L829.0 334.28L830.0 334.28L831.0 334.28L832.0 334.28L833.0 334.28L834.0 334.28L835.0 334.28L836.0 334.28L837.0 334.28L838.0 334.28L838.8 334.28L839.0 334.28L840.0 334.28L841.0 334.28L842.0 334.28L842.0 332.24L843.0 332.24L844.0 332.24L845.0 332.24L846.0 332.24L846.5 332.24L847.0 332.24L848.0 332.24L849.0 332.24L850.0 332.24L851.0 332.24L852.0 332.24L853.0 332.24L854.0 332.24L855.0 332.24L856.0 332.24L857.0 332.24L858.0 332.24L859.0 332.24L860.0 332.24L861.0 332.24L862.0 332.24L863.0 332.24L864.0 332.24L865.0 332.24L866.0 332.24L867.0 332.24L868.0 332.24L869.0 332.24L870.0 332.24L871.0 332.24L872.0 332.24L873.0 332.24L874.0 332.24L875.0 332.24L876.0 332.24L877.0 332.24L878.0 332.24L879.0 332.24L880.0 332.24L881.0 332.24L882.0 332.24L883.0 332.24L884.0 332.24L885.0 332.24L886.0 332.24L887.0 332.24L888.0 332.24L889.0 332.24L890.0 332.24L891.0 332.24L892.0 332.24L893.0 332.24L894.0 332.24L895.0 332.24L896.0 332.24L897.0 332.24L898.0 332.24L899.0 332.24L900.0 332.24L900.4 332.24L901.0 332.24L902.0 332.24L903.0 332.24L904.0 332.24L904.0 334.28L905.0 334.28L905.5 334.28L906.0 334.28L907.0 334.28L908.0 334.28L909.0 334.28L910.0 334.28L911.0 334.28L912.0 334.28L913.0 334.28L914.0 334.28L915.0 334.28L916.0 334.28L917.0 334.28L918.0 334.28L919.0 334.28L920.0 334.28L921.0 334.28L921.0 334.28L922.0 334.28L923.0 334.28L924.0 334.28L925.0 334.28L926.0 334.28L926.0 332.24L927.0 332.24L928.0 332.24L929.0 332.24L930.0 332.24L931.0 332.24L931.2 332.24" stroke="#a0a0a0" stroke-width="1" fill="none"/>
<path d="M120.5 406.8 H508 L509 404.8 H513 L514 406.8 L515 404.8 H532 L533 406.8 L534 404.8 H540 L541 406.8 H932" stroke="#000" stroke-width="2" fill="none"/>
</g><g clip-path="url(#cP)">
<path d="M122.1 426.00L123.1 430.89L124.1 430.53L125.1 435.18L126.1 440.98L126.3 443.91L127.1 440.29L128.1 440.80L129.1 439.24L130.1 444.71L131.1 441.94L132.1 442.19L132.7 444.04L133.1 447.46L134.1 443.37L135.1 444.58L136.1 445.58L137.1 445.17L138.1 446.95L139.1 447.05L140.1 448.51L141.1 447.13L141.1 446.60L142.1 453.12L143.1 448.32L144.1 451.64L145.1 453.00L146.1 453.42L147.1 454.05L147.5 455.25L148.1 454.71L149.1 454.39L150.1 457.27L151.1 458.83L152.1 458.43L153.1 458.27L153.8 462.95L154.1 465.22L155.1 461.77L156.1 462.02L157.1 464.77L158.1 466.89L159.1 466.41L160.1 467.91L161.1 474.58L162.1 470.01L162.3 471.03L163.1 474.44L164.1 472.03L165.1 474.65L166.1 474.00L167.1 471.77L168.1 476.35L169.1 477.16L170.1 473.13L170.7 479.52L171.1 476.62L172.1 480.52L173.1 477.93L174.1 478.43L175.1 484.57L176.1 480.96L177.1 481.00L178.1 484.53L179.1 487.15L179.2 483.27L180.1 489.00L181.1 486.65L182.1 484.82L183.1 485.19L184.1 488.98L185.1 488.83L186.1 485.03L187.1 489.81L187.7 489.56L188.1 491.34L189.1 491.97L190.1 492.36L191.1 490.96L192.1 495.38L193.1 492.13L194.1 493.95L195.1 493.67L196.1 495.90L197.1 494.66L198.1 494.96L199.1 495.64L200.1 498.62L201.1 498.02L202.1 496.30L203.1 500.90L204.1 501.14L204.6 499.65L205.1 500.51L206.1 503.22L207.1 502.06L208.1 507.26L209.1 502.59L210.1 501.86L211.1 506.58L212.1 505.23L213.1 501.70L214.1 507.52L215.1 509.10L216.1 509.57L217.1 508.12L217.2 508.47L218.1 510.06L219.1 506.77L220.1 510.81L221.1 512.30L222.1 512.53L223.1 513.54L224.1 517.86L225.1 510.52L225.7 514.43L226.1 516.60L227.1 516.32L228.1 518.06L229.1 517.62L230.1 519.08L231.1 521.75L232.1 522.08L233.1 524.20L234.1 524.24L234.2 523.97L235.1 524.02L236.1 524.35L237.1 525.31L238.1 526.34L239.1 525.36L240.1 530.01L241.1 528.99L242.1 524.56L242.6 526.96L243.1 525.76L244.1 525.54L245.1 531.69L246.1 533.31L247.1 533.49L248.1 539.76L249.0 536.66L249.1 535.70L250.1 534.21L251.1 540.65L252.1 538.07L253.1 536.61L254.1 539.26L255.1 537.41L255.3 537.26L256.1 541.90L257.1 540.95L258.1 535.87L259.1 540.86L260.1 536.32L261.1 537.90L262.1 542.57L263.1 541.31L263.8 541.58L264.1 542.58L265.1 542.24L266.1 537.16L267.1 543.40L268.1 538.63L269.1 538.80L270.1 539.57L271.1 542.91L272.1 538.53L273.1 539.19L274.1 541.57L275.1 541.99L276.1 541.48L276.4 542.75L277.1 544.27L278.1 543.57L279.1 545.44L280.1 545.31L281.1 545.03L282.1 547.96L283.1 543.92L284.1 548.36L284.9 547.01L285.1 546.51L286.1 545.34L287.1 549.74L288.1 545.81L289.1 548.28L290.1 546.15L291.1 546.56L292.1 545.77L293.1 547.48L294.1 546.81L295.1 546.38L296.1 546.85L297.1 550.40L297.6 547.61L298.1 548.50L299.1 548.81L300.1 549.42L301.1 547.55L302.1 546.89L303.1 544.87L304.1 549.06L305.1 548.46L306.1 546.45L307.1 547.52L308.1 548.38L309.1 547.58L310.1 547.79L310.3 549.83L311.1 543.39L312.1 547.69L313.1 548.07L314.1 544.30L315.1 548.79L316.1 548.28L317.1 546.94L318.1 551.21L319.1 549.40L320.1 549.60L321.1 548.98L322.1 549.10L323.0 550.16L323.1 553.25L324.1 548.40L325.1 548.47L326.1 550.93L327.1 549.44L328.1 549.35L329.1 548.74L330.1 544.98L331.1 547.53L331.4 553.36L332.1 549.42L333.1 548.13L334.1 547.26L335.1 547.17L336.1 546.85L337.1 545.84L338.1 547.82L339.1 548.34L340.1 548.86L341.1 549.47L342.1 547.23L343.1 546.14L344.1 546.60L344.1 545.59L345.1 544.27L346.1 546.87L347.1 545.02L348.1 544.85L349.1 544.97L350.1 543.96L351.1 538.74L352.1 542.50L352.6 542.16L353.1 542.82L354.1 542.04L355.1 543.34L356.1 542.20L357.1 542.86L358.1 538.32L359.1 540.62L360.1 540.91L361.1 538.67L362.1 538.59L363.1 538.95L364.1 539.88L365.1 538.01L365.2 538.10L366.1 541.68L367.1 537.33L368.1 538.01L369.1 539.07L370.1 540.86L371.1 535.96L372.1 535.71L373.1 536.00L373.7 537.86L374.1 536.21L375.1 536.23L376.1 538.80L377.1 533.48L378.1 535.57L379.1 533.91L380.1 533.68L381.1 533.98L382.1 534.93L383.1 528.45L384.1 534.42L385.1 536.60L386.1 533.85L386.4 533.53L387.1 534.85L388.1 531.89L389.1 532.90L390.1 531.62L391.1 530.68L392.1 529.01L393.1 529.30L394.1 530.28L395.1 528.29L396.1 529.59L397.1 524.08L398.1 528.75L399.1 527.28L399.1 526.60L400.1 527.97L401.1 528.49L402.1 527.88L403.1 527.09L404.1 528.48L405.1 526.23L406.1 528.25L407.1 526.85L408.1 528.92L409.1 526.00L410.1 527.17L411.1 526.40L411.8 528.08L412.1 526.34L413.1 526.58L414.1 526.22L415.1 527.82L416.1 528.33L417.1 525.78L418.1 526.42L419.1 531.52L420.1 525.57L421.1 528.74L422.1 525.94L423.1 527.41L424.1 527.68L424.4 525.50L425.1 527.56L426.1 524.83L427.1 526.11L428.1 529.62L429.1 526.12L430.1 524.95L431.1 526.23L432.1 528.36L433.1 530.78L434.1 527.26L435.1 526.85L436.1 532.77L437.1 529.16L437.1 530.19L438.1 530.25L439.1 530.45L440.1 529.89L441.1 532.62L442.1 531.14L443.1 532.07L444.1 531.82L445.1 535.49L445.6 539.42L446.1 534.30L447.1 535.58L448.1 533.08L449.1 533.60L450.1 532.36L451.1 533.89L452.1 533.75L453.1 532.07L454.0 531.95L454.1 531.03L455.1 533.02L456.1 527.16L457.1 531.32L458.1 532.94L459.1 534.30L460.1 531.38L461.1 531.04L462.1 530.78L463.1 531.44L464.1 531.82L465.1 529.34L466.1 529.72L466.7 529.87L467.1 529.51L468.1 526.66L469.1 531.72L470.1 531.64L471.1 532.50L472.1 533.96L473.1 538.54L474.1 534.99L475.1 539.30L476.1 533.75L477.1 536.99L478.1 537.35L479.1 537.64L479.4 535.85L480.1 534.78L481.1 537.57L482.1 540.60L483.1 537.07L484.1 538.67L485.1 536.96L486.1 539.43L487.1 538.59L488.1 540.47L489.1 541.96L490.1 540.35L491.1 535.71L492.1 540.56L492.1 540.24L493.1 540.76L494.1 541.40L495.1 543.52L496.1 542.42L497.1 544.09L498.1 542.28L499.1 544.11L500.1 544.56L501.1 548.73L502.1 546.02L503.1 544.17L504.1 546.45L504.8 546.06L505.1 547.37L506.1 546.38L507.1 548.95L508.1 543.83L509.1 550.16L510.1 547.54L511.1 548.94L512.1 550.02L513.1 548.88L514.1 549.41L515.1 551.74L516.1 549.96L517.1 550.98L517.5 554.55L518.1 552.46L519.1 550.78L520.1 550.07L521.1 552.02L522.1 553.90L523.1 553.62L524.1 555.01L525.1 555.75L525.9 551.95L526.0 555.62L526.1 556.52L527.1 559.29L528.1 558.42L529.1 555.12L530.1 553.21L531.1 555.59L532.1 558.06L533.1 556.00L534.1 557.29L534.5 556.60L535.1 559.68L536.1 559.60L537.1 560.63L538.1 561.05L539.1 559.02L540.1 565.47L541.1 558.41L542.1 560.87L542.9 560.85L543.1 563.40L544.1 561.63L545.1 565.64L546.1 561.97L547.1 563.97L548.1 562.66L549.1 562.83L550.1 564.83L551.1 565.92L552.1 565.31L553.1 564.13L554.1 566.14L555.1 567.01L555.6 567.79L556.1 565.98L557.1 563.14L558.1 565.78L559.1 566.84L560.1 569.57L561.1 568.95L562.1 570.73L563.1 569.60L564.1 569.67L565.1 568.85L566.1 574.41L567.1 573.86L568.1 570.34L568.3 571.58L569.1 571.86L570.1 570.49L571.1 574.54L572.1 572.50L573.1 573.16L574.1 568.20L575.1 572.86L576.1 573.33L577.1 574.46L578.1 572.45L579.1 572.00L580.1 573.36L581.0 572.42L581.1 572.30L582.1 579.01L583.1 574.68L584.1 575.02L585.1 573.76L586.1 570.89L587.1 576.17L588.1 573.92L589.1 576.52L590.1 576.74L591.1 578.82L592.1 574.95L593.1 577.46L593.6 577.89L594.1 576.19L595.1 577.07L596.1 577.68L597.1 578.40L598.1 577.37L599.1 577.06L600.1 578.10L601.1 580.70L602.1 579.06L603.1 579.39L604.1 581.58L605.1 581.23L606.1 582.48L606.3 582.11L607.1 581.97L608.1 581.29L609.1 579.71L610.1 576.97L611.1 582.19L612.1 580.95L613.1 581.68L614.1 579.69L614.8 579.54L615.1 577.41L616.1 578.03L617.1 579.16L618.1 576.41L619.1 578.79L620.1 575.88L621.1 572.06L622.1 577.46L623.1 577.17L624.1 578.62L625.1 576.29L626.1 574.55L627.1 573.27L627.5 573.98L628.1 574.10L629.1 575.75L630.1 575.14L631.1 572.27L632.1 573.32L633.1 572.78L634.1 573.14L635.1 570.43L635.9 575.01L636.1 573.34L637.1 570.59L638.1 571.81L639.1 570.50L640.1 570.68L641.1 570.07L642.1 569.81L643.1 570.81L644.1 568.59L645.1 568.16L646.1 569.80L647.1 569.25L648.1 568.19L648.6 566.08L649.1 566.57L650.1 566.83L651.1 567.09L652.1 567.82L653.1 565.96L654.1 566.40L655.1 565.56L656.1 560.54L657.1 564.62L657.1 563.04L658.1 564.64L659.1 562.23L660.1 564.33L661.1 561.77L662.1 563.08L663.1 564.49L664.1 561.21L665.1 560.34L666.1 560.10L667.1 557.99L668.1 559.15L669.1 561.64L669.8 560.62L670.1 558.79L671.1 558.17L672.1 562.24L673.1 559.69L674.1 558.43L675.1 554.48L676.1 557.46L677.1 558.73L678.1 557.33L679.1 556.51L680.1 557.14L681.1 556.97L682.1 556.89L682.5 556.10L683.1 554.83L684.1 553.81L685.1 555.67L686.1 554.84L687.1 553.85L688.1 554.15L689.1 553.99L690.1 552.08L691.1 553.65L692.1 552.40L693.1 550.62L694.1 550.68L695.1 552.84L695.1 550.15L696.1 551.38L697.1 551.11L698.1 551.95L699.1 550.44L700.1 549.62L701.1 550.03L702.1 548.99L703.1 553.06L704.1 553.03L705.1 549.42L706.1 549.03L707.1 548.44L708.1 550.56L709.1 548.08L710.1 548.45L711.1 547.44L712.0 549.45L712.1 548.35L713.1 547.42L714.1 547.68L715.1 549.02L716.1 547.75L717.1 544.36L718.1 547.09L719.1 546.66L720.1 546.46L720.5 542.69L721.1 546.04L722.1 545.35L723.1 545.01L724.1 545.00L725.1 545.11L726.1 541.57L727.1 543.54L728.1 540.34L729.0 544.78L729.1 542.22L730.1 542.97L731.1 538.92L732.1 535.28L733.1 536.21L734.1 538.62L735.1 538.31L736.1 538.20L737.1 535.81L737.4 536.72L738.1 536.08L739.1 535.95L740.1 537.92L741.1 533.36L742.1 533.14L743.1 533.77L744.1 530.94L745.1 532.67L745.9 532.92L746.1 531.87L747.1 529.75L748.1 528.21L749.1 531.36L750.1 529.73L751.1 529.81L752.1 527.05L753.1 529.18L754.1 529.43L755.1 527.69L756.1 528.14L757.1 526.57L758.1 526.45L758.6 525.39L759.1 525.56L760.1 524.80L761.1 526.72L762.1 525.80L763.1 523.95L764.1 524.48L765.1 521.28L766.1 524.77L767.1 521.76L768.1 521.29L769.1 523.88L770.1 522.71L771.1 523.18L771.2 522.20L772.1 522.16L773.1 521.78L774.1 521.40L775.1 524.87L776.1 518.72L777.1 521.19L778.1 519.11L779.1 520.12L780.1 518.09L781.1 518.28L782.1 517.98L783.1 515.76L783.9 512.62L784.1 517.88L785.1 521.22L786.1 518.43L787.1 519.93L788.1 514.86L789.1 521.47L790.1 517.55L791.1 518.18L792.1 518.32L792.4 515.02L793.1 519.06L794.1 515.64L795.1 521.07L796.1 517.87L797.1 521.56L798.1 522.52L799.1 522.88L800.1 516.58L800.8 526.34L801.1 518.97L802.1 524.86L803.1 521.31L804.1 517.80L805.1 519.96L806.1 520.48L807.1 519.37L808.1 520.82L809.1 519.28L810.1 517.33L811.1 519.05L812.1 517.53L813.1 519.26L813.5 517.92L814.1 517.22L815.1 516.80L816.1 517.27L817.1 517.68L818.1 514.85L819.1 515.95L820.1 516.96L821.1 514.23L822.0 516.48L822.1 515.71L823.1 516.60L824.1 516.07L825.1 511.49L826.1 516.43L827.1 516.28L828.1 514.63L829.1 516.05L830.1 514.54L831.1 516.28L832.1 511.85L833.1 516.35L834.1 515.73L834.7 516.71L835.1 514.96L836.1 513.04L837.1 512.02L838.1 511.60L839.1 510.73L840.1 505.41L841.0 505.23L841.1 506.31L842.1 505.89L843.1 498.85L844.1 502.56L845.1 499.10L845.2 499.46L846.1 499.82L847.1 499.21L848.1 500.71L849.1 500.27L850.1 497.78L851.1 497.26L852.1 495.00L853.1 493.16L854.1 496.02L855.1 497.04L855.8 497.00L856.1 492.86L857.1 498.35L858.1 495.55L859.1 496.80L860.1 498.82L861.1 496.33L862.1 498.70L863.1 503.33L864.1 499.34L864.3 499.13L865.1 498.02L866.1 495.46L867.1 498.45L868.1 493.66L869.1 492.58L870.1 491.16L871.1 487.25L872.1 489.83L872.7 491.29L873.1 488.76L874.1 488.13L875.1 490.01L876.1 488.26L877.1 488.95L878.1 491.33L879.1 485.50L880.1 483.09L881.1 485.17L882.1 484.31L883.1 486.00L884.1 483.35L885.1 483.33L885.4 482.53L886.1 482.00L887.1 483.45L888.1 482.34L889.1 481.14L890.1 480.98L891.1 482.51L892.1 479.13L893.1 477.68L894.1 478.76L895.1 477.37L896.1 481.41L897.1 478.98L898.1 476.42L898.1 478.73L899.1 480.64L900.1 477.28L901.1 478.45L902.1 475.76L903.1 474.19L904.1 474.78L905.1 474.91L906.1 468.96L906.5 472.90L907.1 471.74L908.1 472.57L909.1 474.19L910.1 471.41L911.1 472.82L912.1 472.08L913.1 473.82L914.1 471.62L915.1 469.43L916.1 472.39L917.1 471.28L918.1 473.44L919.1 471.79L919.2 471.97L920.1 471.06L921.1 474.05L922.1 472.78L923.1 469.49L924.1 472.12L925.1 471.86L926.1 477.78L927.1 474.04L928.1 471.99L929.1 473.91L930.1 470.95L931.1 478.13L931.9 474.02" stroke="#a0a0a0" stroke-width="1.1" fill="none"/>
</g>
<g font-family="Liberation Sans, sans-serif" font-size="16.5" fill="#000"><text x="111.6" y="236.5" text-anchor="end">70.00</text><text x="111.6" y="215.5" text-anchor="end">71.00</text><text x="111.6" y="195.5" text-anchor="end">72.00</text><text x="111.6" y="174.5" text-anchor="end">73.00</text><text x="111.6" y="154.5" text-anchor="end">74.00</text><text x="111.6" y="133.5" text-anchor="end">75.00</text><text x="111.6" y="113.5" text-anchor="end">76.00</text><text x="111.6" y="92.5" text-anchor="end">77.00</text><text x="111.6" y="71.5" text-anchor="end">78.00</text><text x="111.6" y="51.5" text-anchor="end">79.00</text><text x="111.6" y="420.5" text-anchor="end">0.00</text><text x="111.6" y="400.5" text-anchor="end">10.00</text><text x="111.6" y="379.5" text-anchor="end">20.00</text><text x="111.6" y="359.5" text-anchor="end">30.00</text><text x="111.6" y="338.5" text-anchor="end">40.00</text><text x="111.6" y="318.5" text-anchor="end">50.00</text><text x="111.6" y="297.5" text-anchor="end">60.00</text><text x="111.6" y="277.5" text-anchor="end">70.00</text><text x="111.6" y="256.5" text-anchor="end">80.00</text><text x="111.6" y="236.5" text-anchor="end">90.00</text><text x="111.6" y="605.5" text-anchor="end">29.44</text><text x="111.6" y="588.5" text-anchor="end">29.46</text><text x="111.6" y="572.5" text-anchor="end">29.48</text><text x="111.6" y="555.5" text-anchor="end">29.50</text><text x="111.6" y="538.5" text-anchor="end">29.52</text><text x="111.6" y="521.5" text-anchor="end">29.54</text><text x="111.6" y="504.5" text-anchor="end">29.56</text><text x="111.6" y="488.5" text-anchor="end">29.58</text><text x="111.6" y="471.5" text-anchor="end">29.60</text><text x="111.6" y="454.5" text-anchor="end">29.62</text><text x="111.6" y="437.5" text-anchor="end">29.64</text><text x="111.6" y="420.5" text-anchor="end">29.66</text><text x="120.5" y="627.5" text-anchor="middle">00</text><text x="154.5" y="627.5" text-anchor="middle">01</text><text x="188.5" y="627.5" text-anchor="middle">02</text><text x="222.5" y="627.5" text-anchor="middle">03</text><text x="255.5" y="627.5" text-anchor="middle">04</text><text x="289.5" y="627.5" text-anchor="middle">05</text><text x="323.5" y="627.5" text-anchor="middle">06</text><text x="357.5" y="627.5" text-anchor="middle">07</text><text x="391.5" y="627.5" text-anchor="middle">08</text><text x="425.5" y="627.5" text-anchor="middle">09</text><text x="458.5" y="627.5" text-anchor="middle">10</text><text x="492.5" y="627.5" text-anchor="middle">11</text><text x="526.5" y="627.5" text-anchor="middle">12</text><text x="560.5" y="627.5" text-anchor="middle">13</text><text x="594.5" y="627.5" text-anchor="middle">14</text><text x="628.5" y="627.5" text-anchor="middle">15</text><text x="661.5" y="627.5" text-anchor="middle">16</text><text x="695.5" y="627.5" text-anchor="middle">17</text><text x="729.5" y="627.5" text-anchor="middle">18</text><text x="763.5" y="627.5" text-anchor="middle">19</text><text x="797.5" y="627.5" text-anchor="middle">20</text><text x="831.5" y="627.5" text-anchor="middle">21</text><text x="864.5" y="627.5" text-anchor="middle">22</text><text x="898.5" y="627.5" text-anchor="middle">23</text><text x="932.5" y="627.5" text-anchor="middle">00</text></g>
<text font-family="Liberation Sans, sans-serif" font-size="16.5" x="526" y="19.1" text-anchor="middle" textLength="416.5" lengthAdjust="spacingAndGlyphs">Science Center L Wing environment status (2026-02-11)</text>
<text font-family="Liberation Sans, sans-serif" font-size="16.5" x="526.3" y="659.8" text-anchor="middle" textLength="65" lengthAdjust="spacingAndGlyphs">time (hr)</text>
<text font-family="Liberation Sans, sans-serif" font-size="16.5" transform="translate(34.7 137.8) rotate(-90)" x="0" y="0" text-anchor="middle" textLength="95.0" lengthAdjust="spacingAndGlyphs">temperature</text>
<text font-family="Liberation Sans, sans-serif" font-size="16.5" transform="translate(56.7 138.0) rotate(-90)" x="0" y="0" text-anchor="middle" textLength="54.0" lengthAdjust="spacingAndGlyphs">(deg F)</text>
<text font-family="Liberation Sans, sans-serif" font-size="16.5" transform="translate(34.7 321.6) rotate(-90)" x="0" y="0" text-anchor="middle" textLength="126.8" lengthAdjust="spacingAndGlyphs">relative humidity</text>
<text font-family="Liberation Sans, sans-serif" font-size="16.5" transform="translate(56.7 322.2) rotate(-90)" x="0" y="0" text-anchor="middle" textLength="36.6" lengthAdjust="spacingAndGlyphs">(pct)</text>
<text font-family="Liberation Sans, sans-serif" font-size="16.5" transform="translate(34.7 506.9) rotate(-90)" x="0" y="0" text-anchor="middle" textLength="155.6" lengthAdjust="spacingAndGlyphs">barometric pressure</text>
<text font-family="Liberation Sans, sans-serif" font-size="16.5" transform="translate(56.7 508.1) rotate(-90)" x="0" y="0" text-anchor="middle" textLength="51.3" lengthAdjust="spacingAndGlyphs">(in Hg)</text>
<g font-family="Liberation Sans, sans-serif" font-size="16.5" fill="#000"><text x="259.9" y="683.8" text-anchor="end" textLength="58.8" lengthAdjust="spacingAndGlyphs">enviro-1</text><path d="M271.0 678.5 H315.5" stroke="#9400d3" stroke-width="2"/><text x="259.9" y="705.8" text-anchor="end" textLength="58.8" lengthAdjust="spacingAndGlyphs">enviro-2</text><path d="M271.0 699.5 H315.5" stroke="#009e73" stroke-width="2"/><text x="394.5" y="683.8" text-anchor="end" textLength="58.8" lengthAdjust="spacingAndGlyphs">enviro-3</text><path d="M405.6 678.5 H450.1" stroke="#56b4e9" stroke-width="2"/><text x="394.5" y="705.8" text-anchor="end" textLength="58.8" lengthAdjust="spacingAndGlyphs">enviro-4</text><path d="M405.6 699.5 H450.1" stroke="#e69f00" stroke-width="2"/><text x="529.1" y="683.8" text-anchor="end" textLength="58.8" lengthAdjust="spacingAndGlyphs">enviro-5</text><path d="M540.2 678.5 H584.7" stroke="#f0e442" stroke-width="2"/><text x="529.1" y="705.8" text-anchor="end" textLength="58.8" lengthAdjust="spacingAndGlyphs">enviro-6</text><path d="M540.2 699.5 H584.7" stroke="#0072b2" stroke-width="2"/><text x="663.7" y="683.8" text-anchor="end" textLength="58.8" lengthAdjust="spacingAndGlyphs">enviro-7</text><path d="M674.8 678.5 H719.3" stroke="#e51e10" stroke-width="2"/><text x="663.7" y="705.8" text-anchor="end" textLength="58.8" lengthAdjust="spacingAndGlyphs">enviro-8</text><path d="M674.8 699.5 H719.3" stroke="#000000" stroke-width="2"/><text x="798.8" y="683.8" text-anchor="end" textLength="51.0" lengthAdjust="spacingAndGlyphs">indoor</text><path d="M809.4 678.5 H853.9" stroke="#a0a0a0" stroke-width="1"/></g>
</svg></body></html>
